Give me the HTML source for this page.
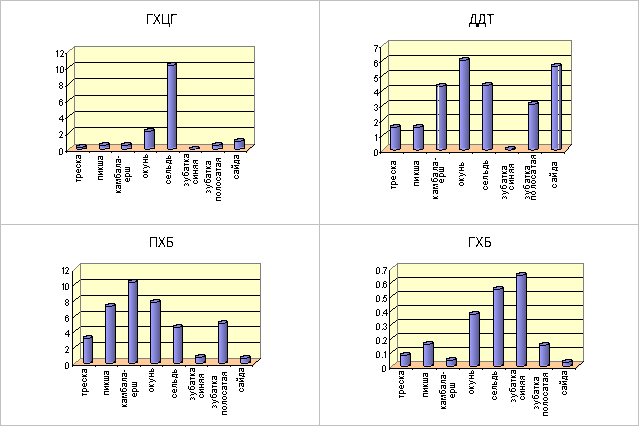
<!DOCTYPE html>
<html><head><meta charset="utf-8"><style>
html,body{margin:0;padding:0;background:#fff;}
svg{display:block;}
text{font-family:"Liberation Sans", sans-serif;fill:#000;}
</style></head><body>
<svg xmlns="http://www.w3.org/2000/svg" width="639" height="426" viewBox="0 0 639 426" shape-rendering="crispEdges">
<defs><linearGradient id="bg" x1="0" y1="0" x2="1" y2="0">
<stop offset="0" stop-color="#8C8CE8"/><stop offset="0.12" stop-color="#A0A0FF"/><stop offset="1" stop-color="#5C5C96"/>
</linearGradient>
<filter id="crisp" x="0" y="0" width="639" height="426" filterUnits="userSpaceOnUse"><feComponentTransfer><feFuncA type="discrete" tableValues="0 0 1 1 1"/></feComponentTransfer></filter>
<filter id="crisp2" x="0" y="0" width="639" height="426" filterUnits="userSpaceOnUse"><feComponentTransfer><feFuncA type="discrete" tableValues="0 1"/></feComponentTransfer></filter></defs>
<rect x="0" y="0" width="639" height="426" fill="#C0C0C0"/>
<rect x="1" y="1" width="318" height="223" fill="#FFFFFF"/>
<rect x="320" y="1" width="318" height="223" fill="#FFFFFF"/>
<rect x="1" y="225" width="318" height="200" fill="#FFFFFF"/>
<rect x="320" y="225" width="318" height="200" fill="#FFFFFF"/>
<polygon points="66,54 74,47 74,145 66,152" fill="#FFFFCC"/>
<rect x="74" y="46" width="181" height="99" fill="#FFFFCC"/>
<polygon points="66,152 74,144 255,144 247,152" fill="#FFCC99"/>
<rect x="74" y="62" width="181" height="1" fill="#000"/>
<rect x="66" y="69" width="1" height="1" fill="#000"/>
<rect x="67" y="68" width="1" height="1" fill="#000"/>
<rect x="68" y="67" width="1" height="1" fill="#000"/>
<rect x="69" y="66" width="1" height="1" fill="#000"/>
<rect x="70" y="65" width="1" height="1" fill="#000"/>
<rect x="71" y="65" width="1" height="1" fill="#000"/>
<rect x="72" y="64" width="1" height="1" fill="#000"/>
<rect x="73" y="63" width="1" height="1" fill="#000"/>
<rect x="74" y="62" width="1" height="1" fill="#000"/>
<rect x="74" y="78" width="181" height="1" fill="#000"/>
<rect x="66" y="86" width="1" height="1" fill="#000"/>
<rect x="67" y="85" width="1" height="1" fill="#000"/>
<rect x="68" y="84" width="1" height="1" fill="#000"/>
<rect x="69" y="83" width="1" height="1" fill="#000"/>
<rect x="70" y="82" width="1" height="1" fill="#000"/>
<rect x="71" y="81" width="1" height="1" fill="#000"/>
<rect x="72" y="80" width="1" height="1" fill="#000"/>
<rect x="73" y="79" width="1" height="1" fill="#000"/>
<rect x="74" y="78" width="1" height="1" fill="#000"/>
<rect x="74" y="95" width="181" height="1" fill="#000"/>
<rect x="66" y="102" width="1" height="1" fill="#000"/>
<rect x="67" y="101" width="1" height="1" fill="#000"/>
<rect x="68" y="100" width="1" height="1" fill="#000"/>
<rect x="69" y="99" width="1" height="1" fill="#000"/>
<rect x="70" y="98" width="1" height="1" fill="#000"/>
<rect x="71" y="98" width="1" height="1" fill="#000"/>
<rect x="72" y="97" width="1" height="1" fill="#000"/>
<rect x="73" y="96" width="1" height="1" fill="#000"/>
<rect x="74" y="95" width="1" height="1" fill="#000"/>
<rect x="74" y="111" width="181" height="1" fill="#000"/>
<rect x="66" y="118" width="1" height="1" fill="#000"/>
<rect x="67" y="117" width="1" height="1" fill="#000"/>
<rect x="68" y="116" width="1" height="1" fill="#000"/>
<rect x="69" y="115" width="1" height="1" fill="#000"/>
<rect x="70" y="114" width="1" height="1" fill="#000"/>
<rect x="71" y="114" width="1" height="1" fill="#000"/>
<rect x="72" y="113" width="1" height="1" fill="#000"/>
<rect x="73" y="112" width="1" height="1" fill="#000"/>
<rect x="74" y="111" width="1" height="1" fill="#000"/>
<rect x="74" y="127" width="181" height="1" fill="#000"/>
<rect x="66" y="135" width="1" height="1" fill="#000"/>
<rect x="67" y="134" width="1" height="1" fill="#000"/>
<rect x="68" y="133" width="1" height="1" fill="#000"/>
<rect x="69" y="132" width="1" height="1" fill="#000"/>
<rect x="70" y="131" width="1" height="1" fill="#000"/>
<rect x="71" y="130" width="1" height="1" fill="#000"/>
<rect x="72" y="129" width="1" height="1" fill="#000"/>
<rect x="73" y="128" width="1" height="1" fill="#000"/>
<rect x="74" y="127" width="1" height="1" fill="#000"/>
<rect x="74" y="46" width="181" height="1" fill="#808080"/>
<rect x="254" y="46" width="1" height="99" fill="#808080"/>
<rect x="74" y="46" width="1" height="99" fill="#808080"/>
<rect x="74" y="144" width="181" height="1" fill="#808080"/>
<rect x="66" y="53" width="1" height="1" fill="#808080"/>
<rect x="67" y="52" width="1" height="1" fill="#808080"/>
<rect x="68" y="51" width="1" height="1" fill="#808080"/>
<rect x="69" y="50" width="1" height="1" fill="#808080"/>
<rect x="70" y="49" width="1" height="1" fill="#808080"/>
<rect x="71" y="49" width="1" height="1" fill="#808080"/>
<rect x="72" y="48" width="1" height="1" fill="#808080"/>
<rect x="73" y="47" width="1" height="1" fill="#808080"/>
<rect x="74" y="46" width="1" height="1" fill="#808080"/>
<rect x="66" y="151" width="1" height="1" fill="#808080"/>
<rect x="67" y="150" width="1" height="1" fill="#808080"/>
<rect x="68" y="149" width="1" height="1" fill="#808080"/>
<rect x="69" y="148" width="1" height="1" fill="#808080"/>
<rect x="70" y="147" width="1" height="1" fill="#808080"/>
<rect x="71" y="147" width="1" height="1" fill="#808080"/>
<rect x="72" y="146" width="1" height="1" fill="#808080"/>
<rect x="73" y="145" width="1" height="1" fill="#808080"/>
<rect x="74" y="144" width="1" height="1" fill="#808080"/>
<rect x="246" y="151" width="1" height="1" fill="#000"/>
<rect x="247" y="150" width="1" height="1" fill="#000"/>
<rect x="248" y="149" width="1" height="1" fill="#000"/>
<rect x="249" y="148" width="1" height="1" fill="#000"/>
<rect x="250" y="147" width="1" height="1" fill="#000"/>
<rect x="251" y="147" width="1" height="1" fill="#000"/>
<rect x="252" y="146" width="1" height="1" fill="#000"/>
<rect x="253" y="145" width="1" height="1" fill="#000"/>
<rect x="254" y="144" width="1" height="1" fill="#000"/>
<rect x="66" y="53" width="1" height="100" fill="#000"/>
<rect x="66" y="151" width="181" height="1" fill="#000"/>
<rect x="65" y="53" width="2" height="1" fill="#000"/>
<rect x="65" y="69" width="2" height="1" fill="#000"/>
<rect x="65" y="86" width="2" height="1" fill="#000"/>
<rect x="65" y="102" width="2" height="1" fill="#000"/>
<rect x="65" y="118" width="2" height="1" fill="#000"/>
<rect x="65" y="135" width="2" height="1" fill="#000"/>
<rect x="65" y="151" width="2" height="1" fill="#000"/>
<rect x="66" y="151" width="1" height="2" fill="#000"/>
<rect x="89" y="151" width="1" height="2" fill="#000"/>
<rect x="111" y="151" width="1" height="2" fill="#000"/>
<rect x="134" y="151" width="1" height="2" fill="#000"/>
<rect x="156" y="151" width="1" height="2" fill="#000"/>
<rect x="179" y="151" width="1" height="2" fill="#000"/>
<rect x="201" y="151" width="1" height="2" fill="#000"/>
<rect x="224" y="151" width="1" height="2" fill="#000"/>
<rect x="246" y="151" width="1" height="2" fill="#000"/>
<rect x="79" y="144" width="7" height="1" fill="#000"/>
<rect x="76" y="145" width="11" height="3" fill="#000"/>
<rect x="76" y="148" width="11" height="1" fill="#000"/>
<rect x="77" y="149" width="5" height="1" fill="#000"/>
<rect x="83" y="147" width="1" height="1" fill="#6E6EB1"/>
<rect x="84" y="147" width="1" height="1" fill="#6666A4"/>
<rect x="85" y="147" width="1" height="1" fill="#5E5E98"/>
<rect x="80" y="145" width="5" height="1" fill="#8888E0"/>
<rect x="77" y="146" width="6" height="1" fill="#8888E0"/>
<rect x="77" y="148" width="5" height="1" fill="#9898F0"/>
<rect x="102" y="142" width="7" height="1" fill="#000"/>
<rect x="99" y="143" width="11" height="5" fill="#000"/>
<rect x="99" y="148" width="11" height="1" fill="#000"/>
<rect x="100" y="149" width="5" height="1" fill="#000"/>
<rect x="100" y="146" width="1" height="2" fill="#9C9CFC"/>
<rect x="101" y="146" width="1" height="2" fill="#9494F0"/>
<rect x="102" y="146" width="1" height="2" fill="#8C8CE3"/>
<rect x="103" y="146" width="1" height="2" fill="#8585D6"/>
<rect x="104" y="146" width="1" height="2" fill="#7D7DCA"/>
<rect x="105" y="146" width="1" height="2" fill="#7575BE"/>
<rect x="106" y="146" width="1" height="2" fill="#6E6EB1"/>
<rect x="107" y="146" width="1" height="2" fill="#6666A4"/>
<rect x="108" y="146" width="1" height="2" fill="#5E5E98"/>
<rect x="106" y="145" width="1" height="1" fill="#6E6EB1"/>
<rect x="107" y="145" width="1" height="1" fill="#6666A4"/>
<rect x="108" y="145" width="1" height="1" fill="#5E5E98"/>
<rect x="103" y="143" width="5" height="1" fill="#8888E0"/>
<rect x="100" y="144" width="6" height="1" fill="#8888E0"/>
<rect x="100" y="148" width="5" height="1" fill="#9898F0"/>
<rect x="105" y="147" width="4" height="1" fill="#9898F0"/>
<rect x="124" y="142" width="7" height="1" fill="#000"/>
<rect x="121" y="143" width="11" height="5" fill="#000"/>
<rect x="121" y="148" width="11" height="1" fill="#000"/>
<rect x="122" y="149" width="5" height="1" fill="#000"/>
<rect x="122" y="146" width="1" height="2" fill="#9C9CFC"/>
<rect x="123" y="146" width="1" height="2" fill="#9494F0"/>
<rect x="124" y="146" width="1" height="2" fill="#8C8CE3"/>
<rect x="125" y="146" width="1" height="2" fill="#8585D6"/>
<rect x="126" y="146" width="1" height="2" fill="#7D7DCA"/>
<rect x="127" y="146" width="1" height="2" fill="#7575BE"/>
<rect x="128" y="146" width="1" height="2" fill="#6E6EB1"/>
<rect x="129" y="146" width="1" height="2" fill="#6666A4"/>
<rect x="130" y="146" width="1" height="2" fill="#5E5E98"/>
<rect x="128" y="145" width="1" height="1" fill="#6E6EB1"/>
<rect x="129" y="145" width="1" height="1" fill="#6666A4"/>
<rect x="130" y="145" width="1" height="1" fill="#5E5E98"/>
<rect x="125" y="143" width="5" height="1" fill="#8888E0"/>
<rect x="122" y="144" width="6" height="1" fill="#8888E0"/>
<rect x="122" y="148" width="5" height="1" fill="#9898F0"/>
<rect x="127" y="147" width="4" height="1" fill="#9898F0"/>
<rect x="147" y="128" width="7" height="1" fill="#000"/>
<rect x="144" y="129" width="11" height="19" fill="#000"/>
<rect x="144" y="148" width="11" height="1" fill="#000"/>
<rect x="145" y="149" width="5" height="1" fill="#000"/>
<rect x="145" y="132" width="1" height="16" fill="#9C9CFC"/>
<rect x="146" y="132" width="1" height="16" fill="#9494F0"/>
<rect x="147" y="132" width="1" height="16" fill="#8C8CE3"/>
<rect x="148" y="132" width="1" height="16" fill="#8585D6"/>
<rect x="149" y="132" width="1" height="16" fill="#7D7DCA"/>
<rect x="150" y="132" width="1" height="16" fill="#7575BE"/>
<rect x="151" y="132" width="1" height="16" fill="#6E6EB1"/>
<rect x="152" y="132" width="1" height="16" fill="#6666A4"/>
<rect x="153" y="132" width="1" height="16" fill="#5E5E98"/>
<rect x="151" y="131" width="1" height="1" fill="#6E6EB1"/>
<rect x="152" y="131" width="1" height="1" fill="#6666A4"/>
<rect x="153" y="131" width="1" height="1" fill="#5E5E98"/>
<rect x="148" y="129" width="5" height="1" fill="#8888E0"/>
<rect x="145" y="130" width="6" height="1" fill="#8888E0"/>
<rect x="145" y="148" width="5" height="1" fill="#9898F0"/>
<rect x="150" y="147" width="4" height="1" fill="#9898F0"/>
<rect x="170" y="62" width="6" height="1" fill="#000"/>
<rect x="167" y="63" width="10" height="85" fill="#000"/>
<rect x="167" y="148" width="10" height="1" fill="#000"/>
<rect x="168" y="149" width="5" height="1" fill="#000"/>
<rect x="168" y="66" width="1" height="82" fill="#9C9CFC"/>
<rect x="169" y="66" width="1" height="82" fill="#9393EE"/>
<rect x="170" y="66" width="1" height="82" fill="#8A8ADF"/>
<rect x="171" y="66" width="1" height="82" fill="#8181D1"/>
<rect x="172" y="66" width="1" height="82" fill="#7979C3"/>
<rect x="173" y="66" width="1" height="82" fill="#7070B5"/>
<rect x="174" y="66" width="1" height="82" fill="#6767A6"/>
<rect x="175" y="66" width="1" height="82" fill="#5E5E98"/>
<rect x="174" y="65" width="1" height="1" fill="#6767A6"/>
<rect x="175" y="65" width="1" height="1" fill="#5E5E98"/>
<rect x="171" y="63" width="4" height="1" fill="#8888E0"/>
<rect x="168" y="64" width="6" height="1" fill="#8888E0"/>
<rect x="168" y="148" width="5" height="1" fill="#9898F0"/>
<rect x="173" y="147" width="3" height="1" fill="#9898F0"/>
<rect x="192" y="146" width="7" height="1" fill="#000"/>
<rect x="189" y="147" width="11" height="1" fill="#000"/>
<rect x="189" y="148" width="11" height="1" fill="#000"/>
<rect x="190" y="149" width="5" height="1" fill="#000"/>
<rect x="193" y="147" width="5" height="1" fill="#8888E0"/>
<rect x="190" y="148" width="6" height="1" fill="#8888E0"/>
<rect x="215" y="142" width="7" height="1" fill="#000"/>
<rect x="212" y="143" width="11" height="5" fill="#000"/>
<rect x="212" y="148" width="11" height="1" fill="#000"/>
<rect x="213" y="149" width="5" height="1" fill="#000"/>
<rect x="213" y="146" width="1" height="2" fill="#9C9CFC"/>
<rect x="214" y="146" width="1" height="2" fill="#9494F0"/>
<rect x="215" y="146" width="1" height="2" fill="#8C8CE3"/>
<rect x="216" y="146" width="1" height="2" fill="#8585D6"/>
<rect x="217" y="146" width="1" height="2" fill="#7D7DCA"/>
<rect x="218" y="146" width="1" height="2" fill="#7575BE"/>
<rect x="219" y="146" width="1" height="2" fill="#6E6EB1"/>
<rect x="220" y="146" width="1" height="2" fill="#6666A4"/>
<rect x="221" y="146" width="1" height="2" fill="#5E5E98"/>
<rect x="219" y="145" width="1" height="1" fill="#6E6EB1"/>
<rect x="220" y="145" width="1" height="1" fill="#6666A4"/>
<rect x="221" y="145" width="1" height="1" fill="#5E5E98"/>
<rect x="216" y="143" width="5" height="1" fill="#8888E0"/>
<rect x="213" y="144" width="6" height="1" fill="#8888E0"/>
<rect x="213" y="148" width="5" height="1" fill="#9898F0"/>
<rect x="218" y="147" width="4" height="1" fill="#9898F0"/>
<rect x="237" y="138" width="7" height="1" fill="#000"/>
<rect x="234" y="139" width="11" height="9" fill="#000"/>
<rect x="234" y="148" width="11" height="1" fill="#000"/>
<rect x="235" y="149" width="5" height="1" fill="#000"/>
<rect x="235" y="142" width="1" height="6" fill="#9C9CFC"/>
<rect x="236" y="142" width="1" height="6" fill="#9494F0"/>
<rect x="237" y="142" width="1" height="6" fill="#8C8CE3"/>
<rect x="238" y="142" width="1" height="6" fill="#8585D6"/>
<rect x="239" y="142" width="1" height="6" fill="#7D7DCA"/>
<rect x="240" y="142" width="1" height="6" fill="#7575BE"/>
<rect x="241" y="142" width="1" height="6" fill="#6E6EB1"/>
<rect x="242" y="142" width="1" height="6" fill="#6666A4"/>
<rect x="243" y="142" width="1" height="6" fill="#5E5E98"/>
<rect x="241" y="141" width="1" height="1" fill="#6E6EB1"/>
<rect x="242" y="141" width="1" height="1" fill="#6666A4"/>
<rect x="243" y="141" width="1" height="1" fill="#5E5E98"/>
<rect x="238" y="139" width="5" height="1" fill="#8888E0"/>
<rect x="235" y="140" width="6" height="1" fill="#8888E0"/>
<rect x="235" y="148" width="5" height="1" fill="#9898F0"/>
<rect x="240" y="147" width="4" height="1" fill="#9898F0"/>
<polygon points="380,48 388,41 388,145 380,153" fill="#FFFFCC"/>
<rect x="388" y="40" width="184" height="105" fill="#FFFFCC"/>
<polygon points="380,153 388,144 572,144 565,153" fill="#FFCC99"/>
<rect x="388" y="55" width="184" height="1" fill="#000"/>
<rect x="380" y="62" width="1" height="1" fill="#000"/>
<rect x="381" y="61" width="1" height="1" fill="#000"/>
<rect x="382" y="60" width="1" height="1" fill="#000"/>
<rect x="383" y="59" width="1" height="1" fill="#000"/>
<rect x="384" y="58" width="1" height="1" fill="#000"/>
<rect x="385" y="58" width="1" height="1" fill="#000"/>
<rect x="386" y="57" width="1" height="1" fill="#000"/>
<rect x="387" y="56" width="1" height="1" fill="#000"/>
<rect x="388" y="55" width="1" height="1" fill="#000"/>
<rect x="388" y="70" width="184" height="1" fill="#000"/>
<rect x="380" y="77" width="1" height="1" fill="#000"/>
<rect x="381" y="76" width="1" height="1" fill="#000"/>
<rect x="382" y="75" width="1" height="1" fill="#000"/>
<rect x="383" y="74" width="1" height="1" fill="#000"/>
<rect x="384" y="73" width="1" height="1" fill="#000"/>
<rect x="385" y="73" width="1" height="1" fill="#000"/>
<rect x="386" y="72" width="1" height="1" fill="#000"/>
<rect x="387" y="71" width="1" height="1" fill="#000"/>
<rect x="388" y="70" width="1" height="1" fill="#000"/>
<rect x="388" y="85" width="184" height="1" fill="#000"/>
<rect x="380" y="92" width="1" height="1" fill="#000"/>
<rect x="381" y="91" width="1" height="1" fill="#000"/>
<rect x="382" y="90" width="1" height="1" fill="#000"/>
<rect x="383" y="89" width="1" height="1" fill="#000"/>
<rect x="384" y="88" width="1" height="1" fill="#000"/>
<rect x="385" y="88" width="1" height="1" fill="#000"/>
<rect x="386" y="87" width="1" height="1" fill="#000"/>
<rect x="387" y="86" width="1" height="1" fill="#000"/>
<rect x="388" y="85" width="1" height="1" fill="#000"/>
<rect x="388" y="100" width="184" height="1" fill="#000"/>
<rect x="380" y="107" width="1" height="1" fill="#000"/>
<rect x="381" y="106" width="1" height="1" fill="#000"/>
<rect x="382" y="105" width="1" height="1" fill="#000"/>
<rect x="383" y="104" width="1" height="1" fill="#000"/>
<rect x="384" y="103" width="1" height="1" fill="#000"/>
<rect x="385" y="103" width="1" height="1" fill="#000"/>
<rect x="386" y="102" width="1" height="1" fill="#000"/>
<rect x="387" y="101" width="1" height="1" fill="#000"/>
<rect x="388" y="100" width="1" height="1" fill="#000"/>
<rect x="388" y="114" width="184" height="1" fill="#000"/>
<rect x="380" y="122" width="1" height="1" fill="#000"/>
<rect x="381" y="121" width="1" height="1" fill="#000"/>
<rect x="382" y="120" width="1" height="1" fill="#000"/>
<rect x="383" y="119" width="1" height="1" fill="#000"/>
<rect x="384" y="118" width="1" height="1" fill="#000"/>
<rect x="385" y="117" width="1" height="1" fill="#000"/>
<rect x="386" y="116" width="1" height="1" fill="#000"/>
<rect x="387" y="115" width="1" height="1" fill="#000"/>
<rect x="388" y="114" width="1" height="1" fill="#000"/>
<rect x="388" y="130" width="184" height="1" fill="#000"/>
<rect x="380" y="137" width="1" height="1" fill="#000"/>
<rect x="381" y="136" width="1" height="1" fill="#000"/>
<rect x="382" y="135" width="1" height="1" fill="#000"/>
<rect x="383" y="134" width="1" height="1" fill="#000"/>
<rect x="384" y="133" width="1" height="1" fill="#000"/>
<rect x="385" y="133" width="1" height="1" fill="#000"/>
<rect x="386" y="132" width="1" height="1" fill="#000"/>
<rect x="387" y="131" width="1" height="1" fill="#000"/>
<rect x="388" y="130" width="1" height="1" fill="#000"/>
<rect x="388" y="40" width="184" height="1" fill="#808080"/>
<rect x="571" y="40" width="1" height="105" fill="#808080"/>
<rect x="388" y="40" width="1" height="105" fill="#808080"/>
<rect x="388" y="144" width="184" height="1" fill="#808080"/>
<rect x="380" y="47" width="1" height="1" fill="#808080"/>
<rect x="381" y="46" width="1" height="1" fill="#808080"/>
<rect x="382" y="45" width="1" height="1" fill="#808080"/>
<rect x="383" y="44" width="1" height="1" fill="#808080"/>
<rect x="384" y="43" width="1" height="1" fill="#808080"/>
<rect x="385" y="43" width="1" height="1" fill="#808080"/>
<rect x="386" y="42" width="1" height="1" fill="#808080"/>
<rect x="387" y="41" width="1" height="1" fill="#808080"/>
<rect x="388" y="40" width="1" height="1" fill="#808080"/>
<rect x="380" y="152" width="1" height="1" fill="#808080"/>
<rect x="381" y="151" width="1" height="1" fill="#808080"/>
<rect x="382" y="150" width="1" height="1" fill="#808080"/>
<rect x="383" y="149" width="1" height="1" fill="#808080"/>
<rect x="384" y="148" width="1" height="1" fill="#808080"/>
<rect x="385" y="147" width="1" height="1" fill="#808080"/>
<rect x="386" y="146" width="1" height="1" fill="#808080"/>
<rect x="387" y="145" width="1" height="1" fill="#808080"/>
<rect x="388" y="144" width="1" height="1" fill="#808080"/>
<rect x="564" y="152" width="1" height="1" fill="#000"/>
<rect x="565" y="151" width="1" height="1" fill="#000"/>
<rect x="566" y="150" width="1" height="1" fill="#000"/>
<rect x="567" y="149" width="1" height="1" fill="#000"/>
<rect x="568" y="148" width="1" height="1" fill="#000"/>
<rect x="568" y="147" width="1" height="1" fill="#000"/>
<rect x="569" y="146" width="1" height="1" fill="#000"/>
<rect x="570" y="145" width="1" height="1" fill="#000"/>
<rect x="571" y="144" width="1" height="1" fill="#000"/>
<rect x="380" y="47" width="1" height="107" fill="#000"/>
<rect x="380" y="152" width="185" height="1" fill="#000"/>
<rect x="379" y="47" width="2" height="1" fill="#000"/>
<rect x="379" y="62" width="2" height="1" fill="#000"/>
<rect x="379" y="77" width="2" height="1" fill="#000"/>
<rect x="379" y="92" width="2" height="1" fill="#000"/>
<rect x="379" y="107" width="2" height="1" fill="#000"/>
<rect x="379" y="122" width="2" height="1" fill="#000"/>
<rect x="379" y="137" width="2" height="1" fill="#000"/>
<rect x="379" y="152" width="2" height="1" fill="#000"/>
<rect x="380" y="152" width="1" height="2" fill="#000"/>
<rect x="403" y="152" width="1" height="2" fill="#000"/>
<rect x="426" y="152" width="1" height="2" fill="#000"/>
<rect x="449" y="152" width="1" height="2" fill="#000"/>
<rect x="472" y="152" width="1" height="2" fill="#000"/>
<rect x="495" y="152" width="1" height="2" fill="#000"/>
<rect x="518" y="152" width="1" height="2" fill="#000"/>
<rect x="541" y="152" width="1" height="2" fill="#000"/>
<rect x="564" y="152" width="1" height="2" fill="#000"/>
<rect x="393" y="124" width="7" height="1" fill="#000"/>
<rect x="390" y="125" width="11" height="24" fill="#000"/>
<rect x="390" y="149" width="10" height="1" fill="#000"/>
<rect x="393" y="150" width="3" height="1" fill="#000"/>
<rect x="391" y="128" width="1" height="21" fill="#9C9CFC"/>
<rect x="392" y="128" width="1" height="21" fill="#9494F0"/>
<rect x="393" y="128" width="1" height="21" fill="#8C8CE3"/>
<rect x="394" y="128" width="1" height="21" fill="#8585D6"/>
<rect x="395" y="128" width="1" height="21" fill="#7D7DCA"/>
<rect x="396" y="128" width="1" height="21" fill="#7575BE"/>
<rect x="397" y="128" width="1" height="21" fill="#6E6EB1"/>
<rect x="398" y="128" width="1" height="21" fill="#6666A4"/>
<rect x="399" y="128" width="1" height="21" fill="#5E5E98"/>
<rect x="397" y="127" width="1" height="1" fill="#6E6EB1"/>
<rect x="398" y="127" width="1" height="1" fill="#6666A4"/>
<rect x="399" y="127" width="1" height="1" fill="#5E5E98"/>
<rect x="394" y="125" width="5" height="1" fill="#8888E0"/>
<rect x="391" y="126" width="6" height="1" fill="#8888E0"/>
<rect x="393" y="149" width="3" height="1" fill="#9898F0"/>
<rect x="391" y="148" width="6" height="1" fill="#9898F0"/>
<rect x="416" y="124" width="7" height="1" fill="#000"/>
<rect x="413" y="125" width="11" height="24" fill="#000"/>
<rect x="413" y="149" width="10" height="1" fill="#000"/>
<rect x="416" y="150" width="3" height="1" fill="#000"/>
<rect x="414" y="128" width="1" height="21" fill="#9C9CFC"/>
<rect x="415" y="128" width="1" height="21" fill="#9494F0"/>
<rect x="416" y="128" width="1" height="21" fill="#8C8CE3"/>
<rect x="417" y="128" width="1" height="21" fill="#8585D6"/>
<rect x="418" y="128" width="1" height="21" fill="#7D7DCA"/>
<rect x="419" y="128" width="1" height="21" fill="#7575BE"/>
<rect x="420" y="128" width="1" height="21" fill="#6E6EB1"/>
<rect x="421" y="128" width="1" height="21" fill="#6666A4"/>
<rect x="422" y="128" width="1" height="21" fill="#5E5E98"/>
<rect x="420" y="127" width="1" height="1" fill="#6E6EB1"/>
<rect x="421" y="127" width="1" height="1" fill="#6666A4"/>
<rect x="422" y="127" width="1" height="1" fill="#5E5E98"/>
<rect x="417" y="125" width="5" height="1" fill="#8888E0"/>
<rect x="414" y="126" width="6" height="1" fill="#8888E0"/>
<rect x="416" y="149" width="3" height="1" fill="#9898F0"/>
<rect x="414" y="148" width="6" height="1" fill="#9898F0"/>
<rect x="439" y="83" width="7" height="1" fill="#000"/>
<rect x="436" y="84" width="11" height="65" fill="#000"/>
<rect x="436" y="149" width="10" height="1" fill="#000"/>
<rect x="439" y="150" width="3" height="1" fill="#000"/>
<rect x="437" y="87" width="1" height="62" fill="#9C9CFC"/>
<rect x="438" y="87" width="1" height="62" fill="#9494F0"/>
<rect x="439" y="87" width="1" height="62" fill="#8C8CE3"/>
<rect x="440" y="87" width="1" height="62" fill="#8585D6"/>
<rect x="441" y="87" width="1" height="62" fill="#7D7DCA"/>
<rect x="442" y="87" width="1" height="62" fill="#7575BE"/>
<rect x="443" y="87" width="1" height="62" fill="#6E6EB1"/>
<rect x="444" y="87" width="1" height="62" fill="#6666A4"/>
<rect x="445" y="87" width="1" height="62" fill="#5E5E98"/>
<rect x="443" y="86" width="1" height="1" fill="#6E6EB1"/>
<rect x="444" y="86" width="1" height="1" fill="#6666A4"/>
<rect x="445" y="86" width="1" height="1" fill="#5E5E98"/>
<rect x="440" y="84" width="5" height="1" fill="#8888E0"/>
<rect x="437" y="85" width="6" height="1" fill="#8888E0"/>
<rect x="439" y="149" width="3" height="1" fill="#9898F0"/>
<rect x="437" y="148" width="6" height="1" fill="#9898F0"/>
<rect x="438" y="86" width="1" height="1" fill="#FFFFCC"/>
<rect x="438" y="87" width="1" height="1" fill="#FFFFCC"/>
<rect x="438" y="88" width="1" height="1" fill="#FFFFCC"/>
<rect x="438" y="89" width="1" height="1" fill="#FFFFCC"/>
<rect x="438" y="90" width="1" height="1" fill="#FFFFCC"/>
<rect x="438" y="91" width="1" height="1" fill="#FFFFCC"/>
<rect x="438" y="92" width="1" height="1" fill="#FFFFCC"/>
<rect x="438" y="93" width="1" height="1" fill="#FFFFCC"/>
<rect x="438" y="94" width="1" height="1" fill="#FFFFCC"/>
<rect x="438" y="95" width="1" height="1" fill="#FFFFCC"/>
<rect x="438" y="96" width="1" height="1" fill="#FFFFCC"/>
<rect x="438" y="97" width="1" height="1" fill="#FFFFCC"/>
<rect x="438" y="98" width="1" height="1" fill="#FFFFCC"/>
<rect x="438" y="99" width="1" height="1" fill="#FFFFCC"/>
<rect x="438" y="100" width="1" height="1" fill="#000"/>
<rect x="438" y="101" width="1" height="1" fill="#FFFFCC"/>
<rect x="438" y="102" width="1" height="1" fill="#FFFFCC"/>
<rect x="438" y="103" width="1" height="1" fill="#FFFFCC"/>
<rect x="438" y="104" width="1" height="1" fill="#FFFFCC"/>
<rect x="438" y="105" width="1" height="1" fill="#FFFFCC"/>
<rect x="438" y="106" width="1" height="1" fill="#FFFFCC"/>
<rect x="438" y="107" width="1" height="1" fill="#FFFFCC"/>
<rect x="438" y="108" width="1" height="1" fill="#FFFFCC"/>
<rect x="438" y="109" width="1" height="1" fill="#FFFFCC"/>
<rect x="438" y="110" width="1" height="1" fill="#FFFFCC"/>
<rect x="438" y="111" width="1" height="1" fill="#FFFFCC"/>
<rect x="438" y="112" width="1" height="1" fill="#FFFFCC"/>
<rect x="438" y="113" width="1" height="1" fill="#FFFFCC"/>
<rect x="438" y="114" width="1" height="1" fill="#000"/>
<rect x="438" y="115" width="1" height="1" fill="#FFFFCC"/>
<rect x="438" y="116" width="1" height="1" fill="#FFFFCC"/>
<rect x="438" y="117" width="1" height="1" fill="#FFFFCC"/>
<rect x="438" y="118" width="1" height="1" fill="#FFFFCC"/>
<rect x="438" y="119" width="1" height="1" fill="#FFFFCC"/>
<rect x="438" y="120" width="1" height="1" fill="#FFFFCC"/>
<rect x="438" y="121" width="1" height="1" fill="#FFFFCC"/>
<rect x="438" y="122" width="1" height="1" fill="#FFFFCC"/>
<rect x="438" y="123" width="1" height="1" fill="#FFFFCC"/>
<rect x="438" y="124" width="1" height="1" fill="#FFFFCC"/>
<rect x="438" y="125" width="1" height="1" fill="#FFFFCC"/>
<rect x="438" y="126" width="1" height="1" fill="#FFFFCC"/>
<rect x="438" y="127" width="1" height="1" fill="#FFFFCC"/>
<rect x="438" y="128" width="1" height="1" fill="#FFFFCC"/>
<rect x="438" y="129" width="1" height="1" fill="#FFFFCC"/>
<rect x="438" y="130" width="1" height="1" fill="#000"/>
<rect x="438" y="131" width="1" height="1" fill="#FFFFCC"/>
<rect x="438" y="132" width="1" height="1" fill="#FFFFCC"/>
<rect x="438" y="133" width="1" height="1" fill="#FFFFCC"/>
<rect x="438" y="134" width="1" height="1" fill="#FFFFCC"/>
<rect x="438" y="135" width="1" height="1" fill="#FFFFCC"/>
<rect x="438" y="136" width="1" height="1" fill="#FFFFCC"/>
<rect x="438" y="137" width="1" height="1" fill="#FFFFCC"/>
<rect x="438" y="138" width="1" height="1" fill="#FFFFCC"/>
<rect x="438" y="139" width="1" height="1" fill="#FFFFCC"/>
<rect x="438" y="140" width="1" height="1" fill="#FFFFCC"/>
<rect x="438" y="141" width="1" height="1" fill="#FFFFCC"/>
<rect x="438" y="142" width="1" height="1" fill="#FFFFCC"/>
<rect x="438" y="143" width="1" height="1" fill="#FFFFCC"/>
<rect x="438" y="144" width="1" height="1" fill="#808080"/>
<rect x="438" y="145" width="1" height="1" fill="#FFCC99"/>
<rect x="438" y="146" width="1" height="1" fill="#FFCC99"/>
<rect x="438" y="147" width="1" height="1" fill="#FFCC99"/>
<rect x="438" y="148" width="1" height="1" fill="#FFCC99"/>
<rect x="462" y="57" width="7" height="1" fill="#000"/>
<rect x="459" y="58" width="11" height="91" fill="#000"/>
<rect x="459" y="149" width="10" height="1" fill="#000"/>
<rect x="462" y="150" width="3" height="1" fill="#000"/>
<rect x="460" y="61" width="1" height="88" fill="#9C9CFC"/>
<rect x="461" y="61" width="1" height="88" fill="#9494F0"/>
<rect x="462" y="61" width="1" height="88" fill="#8C8CE3"/>
<rect x="463" y="61" width="1" height="88" fill="#8585D6"/>
<rect x="464" y="61" width="1" height="88" fill="#7D7DCA"/>
<rect x="465" y="61" width="1" height="88" fill="#7575BE"/>
<rect x="466" y="61" width="1" height="88" fill="#6E6EB1"/>
<rect x="467" y="61" width="1" height="88" fill="#6666A4"/>
<rect x="468" y="61" width="1" height="88" fill="#5E5E98"/>
<rect x="466" y="60" width="1" height="1" fill="#6E6EB1"/>
<rect x="467" y="60" width="1" height="1" fill="#6666A4"/>
<rect x="468" y="60" width="1" height="1" fill="#5E5E98"/>
<rect x="463" y="58" width="5" height="1" fill="#8888E0"/>
<rect x="460" y="59" width="6" height="1" fill="#8888E0"/>
<rect x="462" y="149" width="3" height="1" fill="#9898F0"/>
<rect x="460" y="148" width="6" height="1" fill="#9898F0"/>
<rect x="485" y="82" width="7" height="1" fill="#000"/>
<rect x="482" y="83" width="11" height="66" fill="#000"/>
<rect x="482" y="149" width="10" height="1" fill="#000"/>
<rect x="485" y="150" width="3" height="1" fill="#000"/>
<rect x="483" y="86" width="1" height="63" fill="#9C9CFC"/>
<rect x="484" y="86" width="1" height="63" fill="#9494F0"/>
<rect x="485" y="86" width="1" height="63" fill="#8C8CE3"/>
<rect x="486" y="86" width="1" height="63" fill="#8585D6"/>
<rect x="487" y="86" width="1" height="63" fill="#7D7DCA"/>
<rect x="488" y="86" width="1" height="63" fill="#7575BE"/>
<rect x="489" y="86" width="1" height="63" fill="#6E6EB1"/>
<rect x="490" y="86" width="1" height="63" fill="#6666A4"/>
<rect x="491" y="86" width="1" height="63" fill="#5E5E98"/>
<rect x="489" y="85" width="1" height="1" fill="#6E6EB1"/>
<rect x="490" y="85" width="1" height="1" fill="#6666A4"/>
<rect x="491" y="85" width="1" height="1" fill="#5E5E98"/>
<rect x="486" y="83" width="5" height="1" fill="#8888E0"/>
<rect x="483" y="84" width="6" height="1" fill="#8888E0"/>
<rect x="485" y="149" width="3" height="1" fill="#9898F0"/>
<rect x="483" y="148" width="6" height="1" fill="#9898F0"/>
<rect x="508" y="146" width="7" height="1" fill="#000"/>
<rect x="505" y="147" width="11" height="2" fill="#000"/>
<rect x="505" y="149" width="10" height="1" fill="#000"/>
<rect x="508" y="150" width="3" height="1" fill="#000"/>
<rect x="509" y="147" width="5" height="1" fill="#8888E0"/>
<rect x="506" y="148" width="6" height="1" fill="#8888E0"/>
<rect x="508" y="149" width="3" height="1" fill="#9898F0"/>
<rect x="531" y="101" width="7" height="1" fill="#000"/>
<rect x="528" y="102" width="11" height="47" fill="#000"/>
<rect x="528" y="149" width="10" height="1" fill="#000"/>
<rect x="531" y="150" width="3" height="1" fill="#000"/>
<rect x="529" y="105" width="1" height="44" fill="#9C9CFC"/>
<rect x="530" y="105" width="1" height="44" fill="#9494F0"/>
<rect x="531" y="105" width="1" height="44" fill="#8C8CE3"/>
<rect x="532" y="105" width="1" height="44" fill="#8585D6"/>
<rect x="533" y="105" width="1" height="44" fill="#7D7DCA"/>
<rect x="534" y="105" width="1" height="44" fill="#7575BE"/>
<rect x="535" y="105" width="1" height="44" fill="#6E6EB1"/>
<rect x="536" y="105" width="1" height="44" fill="#6666A4"/>
<rect x="537" y="105" width="1" height="44" fill="#5E5E98"/>
<rect x="535" y="104" width="1" height="1" fill="#6E6EB1"/>
<rect x="536" y="104" width="1" height="1" fill="#6666A4"/>
<rect x="537" y="104" width="1" height="1" fill="#5E5E98"/>
<rect x="532" y="102" width="5" height="1" fill="#8888E0"/>
<rect x="529" y="103" width="6" height="1" fill="#8888E0"/>
<rect x="531" y="149" width="3" height="1" fill="#9898F0"/>
<rect x="529" y="148" width="6" height="1" fill="#9898F0"/>
<rect x="554" y="63" width="7" height="1" fill="#000"/>
<rect x="551" y="64" width="11" height="85" fill="#000"/>
<rect x="551" y="149" width="10" height="1" fill="#000"/>
<rect x="554" y="150" width="3" height="1" fill="#000"/>
<rect x="552" y="67" width="1" height="82" fill="#9C9CFC"/>
<rect x="553" y="67" width="1" height="82" fill="#9494F0"/>
<rect x="554" y="67" width="1" height="82" fill="#8C8CE3"/>
<rect x="555" y="67" width="1" height="82" fill="#8585D6"/>
<rect x="556" y="67" width="1" height="82" fill="#7D7DCA"/>
<rect x="557" y="67" width="1" height="82" fill="#7575BE"/>
<rect x="558" y="67" width="1" height="82" fill="#6E6EB1"/>
<rect x="559" y="67" width="1" height="82" fill="#6666A4"/>
<rect x="560" y="67" width="1" height="82" fill="#5E5E98"/>
<rect x="558" y="66" width="1" height="1" fill="#6E6EB1"/>
<rect x="559" y="66" width="1" height="1" fill="#6666A4"/>
<rect x="560" y="66" width="1" height="1" fill="#5E5E98"/>
<rect x="555" y="64" width="5" height="1" fill="#8888E0"/>
<rect x="552" y="65" width="6" height="1" fill="#8888E0"/>
<rect x="554" y="149" width="3" height="1" fill="#9898F0"/>
<rect x="552" y="148" width="6" height="1" fill="#9898F0"/>
<rect x="558" y="66" width="1" height="1" fill="#FFFFCC"/>
<rect x="558" y="67" width="1" height="1" fill="#FFFFCC"/>
<rect x="558" y="68" width="1" height="1" fill="#FFFFCC"/>
<rect x="558" y="69" width="1" height="1" fill="#FFFFCC"/>
<rect x="558" y="70" width="1" height="1" fill="#000"/>
<rect x="558" y="71" width="1" height="1" fill="#FFFFCC"/>
<rect x="558" y="72" width="1" height="1" fill="#FFFFCC"/>
<rect x="558" y="73" width="1" height="1" fill="#FFFFCC"/>
<rect x="558" y="74" width="1" height="1" fill="#FFFFCC"/>
<rect x="558" y="75" width="1" height="1" fill="#FFFFCC"/>
<rect x="558" y="76" width="1" height="1" fill="#FFFFCC"/>
<rect x="558" y="77" width="1" height="1" fill="#FFFFCC"/>
<rect x="558" y="78" width="1" height="1" fill="#FFFFCC"/>
<rect x="558" y="79" width="1" height="1" fill="#FFFFCC"/>
<rect x="558" y="80" width="1" height="1" fill="#FFFFCC"/>
<rect x="558" y="81" width="1" height="1" fill="#FFFFCC"/>
<rect x="558" y="82" width="1" height="1" fill="#FFFFCC"/>
<rect x="558" y="83" width="1" height="1" fill="#FFFFCC"/>
<rect x="558" y="84" width="1" height="1" fill="#FFFFCC"/>
<rect x="558" y="85" width="1" height="1" fill="#000"/>
<rect x="558" y="86" width="1" height="1" fill="#FFFFCC"/>
<rect x="558" y="87" width="1" height="1" fill="#FFFFCC"/>
<rect x="558" y="88" width="1" height="1" fill="#FFFFCC"/>
<rect x="558" y="89" width="1" height="1" fill="#FFFFCC"/>
<rect x="558" y="90" width="1" height="1" fill="#FFFFCC"/>
<rect x="558" y="91" width="1" height="1" fill="#FFFFCC"/>
<rect x="558" y="92" width="1" height="1" fill="#FFFFCC"/>
<rect x="558" y="93" width="1" height="1" fill="#FFFFCC"/>
<rect x="558" y="94" width="1" height="1" fill="#FFFFCC"/>
<rect x="558" y="95" width="1" height="1" fill="#FFFFCC"/>
<rect x="558" y="96" width="1" height="1" fill="#FFFFCC"/>
<rect x="558" y="97" width="1" height="1" fill="#FFFFCC"/>
<rect x="558" y="98" width="1" height="1" fill="#FFFFCC"/>
<rect x="558" y="99" width="1" height="1" fill="#FFFFCC"/>
<rect x="558" y="100" width="1" height="1" fill="#000"/>
<rect x="558" y="101" width="1" height="1" fill="#FFFFCC"/>
<rect x="558" y="102" width="1" height="1" fill="#FFFFCC"/>
<rect x="558" y="103" width="1" height="1" fill="#FFFFCC"/>
<rect x="558" y="104" width="1" height="1" fill="#FFFFCC"/>
<rect x="558" y="105" width="1" height="1" fill="#FFFFCC"/>
<rect x="558" y="106" width="1" height="1" fill="#FFFFCC"/>
<rect x="558" y="107" width="1" height="1" fill="#FFFFCC"/>
<rect x="558" y="108" width="1" height="1" fill="#FFFFCC"/>
<rect x="558" y="109" width="1" height="1" fill="#FFFFCC"/>
<rect x="558" y="110" width="1" height="1" fill="#FFFFCC"/>
<rect x="558" y="111" width="1" height="1" fill="#FFFFCC"/>
<rect x="558" y="112" width="1" height="1" fill="#FFFFCC"/>
<rect x="558" y="113" width="1" height="1" fill="#FFFFCC"/>
<rect x="558" y="114" width="1" height="1" fill="#000"/>
<rect x="558" y="115" width="1" height="1" fill="#FFFFCC"/>
<rect x="558" y="116" width="1" height="1" fill="#FFFFCC"/>
<rect x="558" y="117" width="1" height="1" fill="#FFFFCC"/>
<rect x="558" y="118" width="1" height="1" fill="#FFFFCC"/>
<rect x="558" y="119" width="1" height="1" fill="#FFFFCC"/>
<rect x="558" y="120" width="1" height="1" fill="#FFFFCC"/>
<rect x="558" y="121" width="1" height="1" fill="#FFFFCC"/>
<rect x="558" y="122" width="1" height="1" fill="#FFFFCC"/>
<rect x="558" y="123" width="1" height="1" fill="#FFFFCC"/>
<rect x="558" y="124" width="1" height="1" fill="#FFFFCC"/>
<rect x="558" y="125" width="1" height="1" fill="#FFFFCC"/>
<rect x="558" y="126" width="1" height="1" fill="#FFFFCC"/>
<rect x="558" y="127" width="1" height="1" fill="#FFFFCC"/>
<rect x="558" y="128" width="1" height="1" fill="#FFFFCC"/>
<rect x="558" y="129" width="1" height="1" fill="#FFFFCC"/>
<rect x="558" y="130" width="1" height="1" fill="#000"/>
<rect x="558" y="131" width="1" height="1" fill="#FFFFCC"/>
<rect x="558" y="132" width="1" height="1" fill="#FFFFCC"/>
<rect x="558" y="133" width="1" height="1" fill="#FFFFCC"/>
<rect x="558" y="134" width="1" height="1" fill="#FFFFCC"/>
<rect x="558" y="135" width="1" height="1" fill="#FFFFCC"/>
<rect x="558" y="136" width="1" height="1" fill="#FFFFCC"/>
<rect x="558" y="137" width="1" height="1" fill="#FFFFCC"/>
<rect x="558" y="138" width="1" height="1" fill="#FFFFCC"/>
<rect x="558" y="139" width="1" height="1" fill="#FFFFCC"/>
<rect x="558" y="140" width="1" height="1" fill="#FFFFCC"/>
<rect x="558" y="141" width="1" height="1" fill="#FFFFCC"/>
<rect x="558" y="142" width="1" height="1" fill="#FFFFCC"/>
<rect x="558" y="143" width="1" height="1" fill="#FFFFCC"/>
<rect x="558" y="144" width="1" height="1" fill="#808080"/>
<rect x="558" y="145" width="1" height="1" fill="#FFCC99"/>
<rect x="558" y="146" width="1" height="1" fill="#FFCC99"/>
<rect x="558" y="147" width="1" height="1" fill="#FFCC99"/>
<rect x="558" y="148" width="1" height="1" fill="#FFCC99"/>
<polygon points="72,272 80,264 80,359 72,366" fill="#FFFFCC"/>
<rect x="80" y="263" width="181" height="96" fill="#FFFFCC"/>
<polygon points="72,366 80,358 261,358 253,366" fill="#FFCC99"/>
<rect x="80" y="279" width="181" height="1" fill="#000"/>
<rect x="72" y="286" width="1" height="1" fill="#000"/>
<rect x="73" y="285" width="1" height="1" fill="#000"/>
<rect x="74" y="284" width="1" height="1" fill="#000"/>
<rect x="75" y="283" width="1" height="1" fill="#000"/>
<rect x="76" y="282" width="1" height="1" fill="#000"/>
<rect x="77" y="282" width="1" height="1" fill="#000"/>
<rect x="78" y="281" width="1" height="1" fill="#000"/>
<rect x="79" y="280" width="1" height="1" fill="#000"/>
<rect x="80" y="279" width="1" height="1" fill="#000"/>
<rect x="80" y="295" width="181" height="1" fill="#000"/>
<rect x="72" y="302" width="1" height="1" fill="#000"/>
<rect x="73" y="301" width="1" height="1" fill="#000"/>
<rect x="74" y="300" width="1" height="1" fill="#000"/>
<rect x="75" y="299" width="1" height="1" fill="#000"/>
<rect x="76" y="298" width="1" height="1" fill="#000"/>
<rect x="77" y="298" width="1" height="1" fill="#000"/>
<rect x="78" y="297" width="1" height="1" fill="#000"/>
<rect x="79" y="296" width="1" height="1" fill="#000"/>
<rect x="80" y="295" width="1" height="1" fill="#000"/>
<rect x="80" y="311" width="181" height="1" fill="#000"/>
<rect x="72" y="318" width="1" height="1" fill="#000"/>
<rect x="73" y="317" width="1" height="1" fill="#000"/>
<rect x="74" y="316" width="1" height="1" fill="#000"/>
<rect x="75" y="315" width="1" height="1" fill="#000"/>
<rect x="76" y="314" width="1" height="1" fill="#000"/>
<rect x="77" y="314" width="1" height="1" fill="#000"/>
<rect x="78" y="313" width="1" height="1" fill="#000"/>
<rect x="79" y="312" width="1" height="1" fill="#000"/>
<rect x="80" y="311" width="1" height="1" fill="#000"/>
<rect x="80" y="326" width="181" height="1" fill="#000"/>
<rect x="72" y="333" width="1" height="1" fill="#000"/>
<rect x="73" y="332" width="1" height="1" fill="#000"/>
<rect x="74" y="331" width="1" height="1" fill="#000"/>
<rect x="75" y="330" width="1" height="1" fill="#000"/>
<rect x="76" y="329" width="1" height="1" fill="#000"/>
<rect x="77" y="329" width="1" height="1" fill="#000"/>
<rect x="78" y="328" width="1" height="1" fill="#000"/>
<rect x="79" y="327" width="1" height="1" fill="#000"/>
<rect x="80" y="326" width="1" height="1" fill="#000"/>
<rect x="80" y="342" width="181" height="1" fill="#000"/>
<rect x="72" y="349" width="1" height="1" fill="#000"/>
<rect x="73" y="348" width="1" height="1" fill="#000"/>
<rect x="74" y="347" width="1" height="1" fill="#000"/>
<rect x="75" y="346" width="1" height="1" fill="#000"/>
<rect x="76" y="345" width="1" height="1" fill="#000"/>
<rect x="77" y="345" width="1" height="1" fill="#000"/>
<rect x="78" y="344" width="1" height="1" fill="#000"/>
<rect x="79" y="343" width="1" height="1" fill="#000"/>
<rect x="80" y="342" width="1" height="1" fill="#000"/>
<rect x="80" y="263" width="181" height="1" fill="#808080"/>
<rect x="260" y="263" width="1" height="96" fill="#808080"/>
<rect x="80" y="263" width="1" height="96" fill="#808080"/>
<rect x="80" y="358" width="181" height="1" fill="#808080"/>
<rect x="72" y="271" width="1" height="1" fill="#808080"/>
<rect x="73" y="270" width="1" height="1" fill="#808080"/>
<rect x="74" y="269" width="1" height="1" fill="#808080"/>
<rect x="75" y="268" width="1" height="1" fill="#808080"/>
<rect x="76" y="267" width="1" height="1" fill="#808080"/>
<rect x="77" y="266" width="1" height="1" fill="#808080"/>
<rect x="78" y="265" width="1" height="1" fill="#808080"/>
<rect x="79" y="264" width="1" height="1" fill="#808080"/>
<rect x="80" y="263" width="1" height="1" fill="#808080"/>
<rect x="72" y="365" width="1" height="1" fill="#808080"/>
<rect x="73" y="364" width="1" height="1" fill="#808080"/>
<rect x="74" y="363" width="1" height="1" fill="#808080"/>
<rect x="75" y="362" width="1" height="1" fill="#808080"/>
<rect x="76" y="361" width="1" height="1" fill="#808080"/>
<rect x="77" y="361" width="1" height="1" fill="#808080"/>
<rect x="78" y="360" width="1" height="1" fill="#808080"/>
<rect x="79" y="359" width="1" height="1" fill="#808080"/>
<rect x="80" y="358" width="1" height="1" fill="#808080"/>
<rect x="252" y="365" width="1" height="1" fill="#000"/>
<rect x="253" y="364" width="1" height="1" fill="#000"/>
<rect x="254" y="363" width="1" height="1" fill="#000"/>
<rect x="255" y="362" width="1" height="1" fill="#000"/>
<rect x="256" y="361" width="1" height="1" fill="#000"/>
<rect x="257" y="361" width="1" height="1" fill="#000"/>
<rect x="258" y="360" width="1" height="1" fill="#000"/>
<rect x="259" y="359" width="1" height="1" fill="#000"/>
<rect x="260" y="358" width="1" height="1" fill="#000"/>
<rect x="72" y="271" width="1" height="96" fill="#000"/>
<rect x="72" y="365" width="181" height="1" fill="#000"/>
<rect x="72" y="365" width="1" height="2" fill="#000"/>
<rect x="95" y="365" width="1" height="2" fill="#000"/>
<rect x="117" y="365" width="1" height="2" fill="#000"/>
<rect x="140" y="365" width="1" height="2" fill="#000"/>
<rect x="162" y="365" width="1" height="2" fill="#000"/>
<rect x="185" y="365" width="1" height="2" fill="#000"/>
<rect x="207" y="365" width="1" height="2" fill="#000"/>
<rect x="230" y="365" width="1" height="2" fill="#000"/>
<rect x="252" y="365" width="1" height="2" fill="#000"/>
<rect x="86" y="335" width="6" height="1" fill="#000"/>
<rect x="83" y="336" width="10" height="26" fill="#000"/>
<rect x="83" y="362" width="10" height="1" fill="#000"/>
<rect x="84" y="363" width="6" height="1" fill="#000"/>
<rect x="84" y="339" width="1" height="23" fill="#9C9CFC"/>
<rect x="85" y="339" width="1" height="23" fill="#9393EE"/>
<rect x="86" y="339" width="1" height="23" fill="#8A8ADF"/>
<rect x="87" y="339" width="1" height="23" fill="#8181D1"/>
<rect x="88" y="339" width="1" height="23" fill="#7979C3"/>
<rect x="89" y="339" width="1" height="23" fill="#7070B5"/>
<rect x="90" y="339" width="1" height="23" fill="#6767A6"/>
<rect x="91" y="339" width="1" height="23" fill="#5E5E98"/>
<rect x="90" y="338" width="1" height="1" fill="#6767A6"/>
<rect x="91" y="338" width="1" height="1" fill="#5E5E98"/>
<rect x="87" y="336" width="4" height="1" fill="#8888E0"/>
<rect x="84" y="337" width="6" height="1" fill="#8888E0"/>
<rect x="84" y="362" width="6" height="1" fill="#9898F0"/>
<rect x="91" y="362" width="2" height="1" fill="#000"/>
<rect x="91" y="361" width="1" height="1" fill="#000"/>
<rect x="108" y="303" width="7" height="1" fill="#000"/>
<rect x="105" y="304" width="11" height="58" fill="#000"/>
<rect x="105" y="362" width="11" height="1" fill="#000"/>
<rect x="106" y="363" width="7" height="1" fill="#000"/>
<rect x="106" y="307" width="1" height="55" fill="#9C9CFC"/>
<rect x="107" y="307" width="1" height="55" fill="#9494F0"/>
<rect x="108" y="307" width="1" height="55" fill="#8C8CE3"/>
<rect x="109" y="307" width="1" height="55" fill="#8585D6"/>
<rect x="110" y="307" width="1" height="55" fill="#7D7DCA"/>
<rect x="111" y="307" width="1" height="55" fill="#7575BE"/>
<rect x="112" y="307" width="1" height="55" fill="#6E6EB1"/>
<rect x="113" y="307" width="1" height="55" fill="#6666A4"/>
<rect x="114" y="307" width="1" height="55" fill="#5E5E98"/>
<rect x="112" y="306" width="1" height="1" fill="#6E6EB1"/>
<rect x="113" y="306" width="1" height="1" fill="#6666A4"/>
<rect x="114" y="306" width="1" height="1" fill="#5E5E98"/>
<rect x="109" y="304" width="5" height="1" fill="#8888E0"/>
<rect x="106" y="305" width="6" height="1" fill="#8888E0"/>
<rect x="106" y="362" width="7" height="1" fill="#9898F0"/>
<rect x="114" y="362" width="2" height="1" fill="#000"/>
<rect x="114" y="361" width="1" height="1" fill="#000"/>
<rect x="131" y="279" width="6" height="1" fill="#000"/>
<rect x="128" y="280" width="10" height="82" fill="#000"/>
<rect x="128" y="362" width="10" height="1" fill="#000"/>
<rect x="129" y="363" width="6" height="1" fill="#000"/>
<rect x="129" y="283" width="1" height="79" fill="#9C9CFC"/>
<rect x="130" y="283" width="1" height="79" fill="#9393EE"/>
<rect x="131" y="283" width="1" height="79" fill="#8A8ADF"/>
<rect x="132" y="283" width="1" height="79" fill="#8181D1"/>
<rect x="133" y="283" width="1" height="79" fill="#7979C3"/>
<rect x="134" y="283" width="1" height="79" fill="#7070B5"/>
<rect x="135" y="283" width="1" height="79" fill="#6767A6"/>
<rect x="136" y="283" width="1" height="79" fill="#5E5E98"/>
<rect x="135" y="282" width="1" height="1" fill="#6767A6"/>
<rect x="136" y="282" width="1" height="1" fill="#5E5E98"/>
<rect x="132" y="280" width="4" height="1" fill="#8888E0"/>
<rect x="129" y="281" width="6" height="1" fill="#8888E0"/>
<rect x="129" y="362" width="6" height="1" fill="#9898F0"/>
<rect x="136" y="362" width="2" height="1" fill="#000"/>
<rect x="136" y="361" width="1" height="1" fill="#000"/>
<rect x="153" y="299" width="7" height="1" fill="#000"/>
<rect x="150" y="300" width="11" height="62" fill="#000"/>
<rect x="150" y="362" width="11" height="1" fill="#000"/>
<rect x="151" y="363" width="7" height="1" fill="#000"/>
<rect x="151" y="303" width="1" height="59" fill="#9C9CFC"/>
<rect x="152" y="303" width="1" height="59" fill="#9494F0"/>
<rect x="153" y="303" width="1" height="59" fill="#8C8CE3"/>
<rect x="154" y="303" width="1" height="59" fill="#8585D6"/>
<rect x="155" y="303" width="1" height="59" fill="#7D7DCA"/>
<rect x="156" y="303" width="1" height="59" fill="#7575BE"/>
<rect x="157" y="303" width="1" height="59" fill="#6E6EB1"/>
<rect x="158" y="303" width="1" height="59" fill="#6666A4"/>
<rect x="159" y="303" width="1" height="59" fill="#5E5E98"/>
<rect x="157" y="302" width="1" height="1" fill="#6E6EB1"/>
<rect x="158" y="302" width="1" height="1" fill="#6666A4"/>
<rect x="159" y="302" width="1" height="1" fill="#5E5E98"/>
<rect x="154" y="300" width="5" height="1" fill="#8888E0"/>
<rect x="151" y="301" width="6" height="1" fill="#8888E0"/>
<rect x="151" y="362" width="7" height="1" fill="#9898F0"/>
<rect x="159" y="362" width="2" height="1" fill="#000"/>
<rect x="159" y="361" width="1" height="1" fill="#000"/>
<rect x="176" y="324" width="6" height="1" fill="#000"/>
<rect x="173" y="325" width="10" height="37" fill="#000"/>
<rect x="173" y="362" width="10" height="1" fill="#000"/>
<rect x="174" y="363" width="6" height="1" fill="#000"/>
<rect x="174" y="328" width="1" height="34" fill="#9C9CFC"/>
<rect x="175" y="328" width="1" height="34" fill="#9393EE"/>
<rect x="176" y="328" width="1" height="34" fill="#8A8ADF"/>
<rect x="177" y="328" width="1" height="34" fill="#8181D1"/>
<rect x="178" y="328" width="1" height="34" fill="#7979C3"/>
<rect x="179" y="328" width="1" height="34" fill="#7070B5"/>
<rect x="180" y="328" width="1" height="34" fill="#6767A6"/>
<rect x="181" y="328" width="1" height="34" fill="#5E5E98"/>
<rect x="180" y="327" width="1" height="1" fill="#6767A6"/>
<rect x="181" y="327" width="1" height="1" fill="#5E5E98"/>
<rect x="177" y="325" width="4" height="1" fill="#8888E0"/>
<rect x="174" y="326" width="6" height="1" fill="#8888E0"/>
<rect x="174" y="362" width="6" height="1" fill="#9898F0"/>
<rect x="181" y="362" width="2" height="1" fill="#000"/>
<rect x="181" y="361" width="1" height="1" fill="#000"/>
<rect x="198" y="354" width="7" height="1" fill="#000"/>
<rect x="195" y="355" width="11" height="7" fill="#000"/>
<rect x="195" y="362" width="11" height="1" fill="#000"/>
<rect x="196" y="363" width="7" height="1" fill="#000"/>
<rect x="196" y="358" width="1" height="4" fill="#9C9CFC"/>
<rect x="197" y="358" width="1" height="4" fill="#9494F0"/>
<rect x="198" y="358" width="1" height="4" fill="#8C8CE3"/>
<rect x="199" y="358" width="1" height="4" fill="#8585D6"/>
<rect x="200" y="358" width="1" height="4" fill="#7D7DCA"/>
<rect x="201" y="358" width="1" height="4" fill="#7575BE"/>
<rect x="202" y="358" width="1" height="4" fill="#6E6EB1"/>
<rect x="203" y="358" width="1" height="4" fill="#6666A4"/>
<rect x="204" y="358" width="1" height="4" fill="#5E5E98"/>
<rect x="202" y="357" width="1" height="1" fill="#6E6EB1"/>
<rect x="203" y="357" width="1" height="1" fill="#6666A4"/>
<rect x="204" y="357" width="1" height="1" fill="#5E5E98"/>
<rect x="199" y="355" width="5" height="1" fill="#8888E0"/>
<rect x="196" y="356" width="6" height="1" fill="#8888E0"/>
<rect x="196" y="362" width="7" height="1" fill="#9898F0"/>
<rect x="204" y="362" width="2" height="1" fill="#000"/>
<rect x="204" y="361" width="1" height="1" fill="#000"/>
<rect x="221" y="320" width="6" height="1" fill="#000"/>
<rect x="218" y="321" width="10" height="41" fill="#000"/>
<rect x="218" y="362" width="10" height="1" fill="#000"/>
<rect x="219" y="363" width="6" height="1" fill="#000"/>
<rect x="219" y="324" width="1" height="38" fill="#9C9CFC"/>
<rect x="220" y="324" width="1" height="38" fill="#9393EE"/>
<rect x="221" y="324" width="1" height="38" fill="#8A8ADF"/>
<rect x="222" y="324" width="1" height="38" fill="#8181D1"/>
<rect x="223" y="324" width="1" height="38" fill="#7979C3"/>
<rect x="224" y="324" width="1" height="38" fill="#7070B5"/>
<rect x="225" y="324" width="1" height="38" fill="#6767A6"/>
<rect x="226" y="324" width="1" height="38" fill="#5E5E98"/>
<rect x="225" y="323" width="1" height="1" fill="#6767A6"/>
<rect x="226" y="323" width="1" height="1" fill="#5E5E98"/>
<rect x="222" y="321" width="4" height="1" fill="#8888E0"/>
<rect x="219" y="322" width="6" height="1" fill="#8888E0"/>
<rect x="219" y="362" width="6" height="1" fill="#9898F0"/>
<rect x="226" y="362" width="2" height="1" fill="#000"/>
<rect x="226" y="361" width="1" height="1" fill="#000"/>
<rect x="243" y="355" width="7" height="1" fill="#000"/>
<rect x="240" y="356" width="11" height="6" fill="#000"/>
<rect x="240" y="362" width="11" height="1" fill="#000"/>
<rect x="241" y="363" width="7" height="1" fill="#000"/>
<rect x="241" y="359" width="1" height="3" fill="#9C9CFC"/>
<rect x="242" y="359" width="1" height="3" fill="#9494F0"/>
<rect x="243" y="359" width="1" height="3" fill="#8C8CE3"/>
<rect x="244" y="359" width="1" height="3" fill="#8585D6"/>
<rect x="245" y="359" width="1" height="3" fill="#7D7DCA"/>
<rect x="246" y="359" width="1" height="3" fill="#7575BE"/>
<rect x="247" y="359" width="1" height="3" fill="#6E6EB1"/>
<rect x="248" y="359" width="1" height="3" fill="#6666A4"/>
<rect x="249" y="359" width="1" height="3" fill="#5E5E98"/>
<rect x="247" y="358" width="1" height="1" fill="#6E6EB1"/>
<rect x="248" y="358" width="1" height="1" fill="#6666A4"/>
<rect x="249" y="358" width="1" height="1" fill="#5E5E98"/>
<rect x="244" y="356" width="5" height="1" fill="#8888E0"/>
<rect x="241" y="357" width="6" height="1" fill="#8888E0"/>
<rect x="241" y="362" width="7" height="1" fill="#9898F0"/>
<rect x="249" y="362" width="2" height="1" fill="#000"/>
<rect x="249" y="361" width="1" height="1" fill="#000"/>
<polygon points="389,271 397,264 397,362 389,369" fill="#FFFFCC"/>
<rect x="397" y="263" width="187" height="99" fill="#FFFFCC"/>
<polygon points="389,369 397,361 584,361 576,369" fill="#FFCC99"/>
<rect x="397" y="277" width="187" height="1" fill="#000"/>
<rect x="389" y="284" width="1" height="1" fill="#000"/>
<rect x="390" y="283" width="1" height="1" fill="#000"/>
<rect x="391" y="282" width="1" height="1" fill="#000"/>
<rect x="392" y="281" width="1" height="1" fill="#000"/>
<rect x="393" y="280" width="1" height="1" fill="#000"/>
<rect x="394" y="280" width="1" height="1" fill="#000"/>
<rect x="395" y="279" width="1" height="1" fill="#000"/>
<rect x="396" y="278" width="1" height="1" fill="#000"/>
<rect x="397" y="277" width="1" height="1" fill="#000"/>
<rect x="397" y="291" width="187" height="1" fill="#000"/>
<rect x="389" y="298" width="1" height="1" fill="#000"/>
<rect x="390" y="297" width="1" height="1" fill="#000"/>
<rect x="391" y="296" width="1" height="1" fill="#000"/>
<rect x="392" y="295" width="1" height="1" fill="#000"/>
<rect x="393" y="294" width="1" height="1" fill="#000"/>
<rect x="394" y="294" width="1" height="1" fill="#000"/>
<rect x="395" y="293" width="1" height="1" fill="#000"/>
<rect x="396" y="292" width="1" height="1" fill="#000"/>
<rect x="397" y="291" width="1" height="1" fill="#000"/>
<rect x="397" y="305" width="187" height="1" fill="#000"/>
<rect x="389" y="312" width="1" height="1" fill="#000"/>
<rect x="390" y="311" width="1" height="1" fill="#000"/>
<rect x="391" y="310" width="1" height="1" fill="#000"/>
<rect x="392" y="309" width="1" height="1" fill="#000"/>
<rect x="393" y="308" width="1" height="1" fill="#000"/>
<rect x="394" y="308" width="1" height="1" fill="#000"/>
<rect x="395" y="307" width="1" height="1" fill="#000"/>
<rect x="396" y="306" width="1" height="1" fill="#000"/>
<rect x="397" y="305" width="1" height="1" fill="#000"/>
<rect x="397" y="319" width="187" height="1" fill="#000"/>
<rect x="389" y="326" width="1" height="1" fill="#000"/>
<rect x="390" y="325" width="1" height="1" fill="#000"/>
<rect x="391" y="324" width="1" height="1" fill="#000"/>
<rect x="392" y="323" width="1" height="1" fill="#000"/>
<rect x="393" y="322" width="1" height="1" fill="#000"/>
<rect x="394" y="322" width="1" height="1" fill="#000"/>
<rect x="395" y="321" width="1" height="1" fill="#000"/>
<rect x="396" y="320" width="1" height="1" fill="#000"/>
<rect x="397" y="319" width="1" height="1" fill="#000"/>
<rect x="397" y="333" width="187" height="1" fill="#000"/>
<rect x="389" y="340" width="1" height="1" fill="#000"/>
<rect x="390" y="339" width="1" height="1" fill="#000"/>
<rect x="391" y="338" width="1" height="1" fill="#000"/>
<rect x="392" y="337" width="1" height="1" fill="#000"/>
<rect x="393" y="336" width="1" height="1" fill="#000"/>
<rect x="394" y="336" width="1" height="1" fill="#000"/>
<rect x="395" y="335" width="1" height="1" fill="#000"/>
<rect x="396" y="334" width="1" height="1" fill="#000"/>
<rect x="397" y="333" width="1" height="1" fill="#000"/>
<rect x="397" y="347" width="187" height="1" fill="#000"/>
<rect x="389" y="354" width="1" height="1" fill="#000"/>
<rect x="390" y="353" width="1" height="1" fill="#000"/>
<rect x="391" y="352" width="1" height="1" fill="#000"/>
<rect x="392" y="351" width="1" height="1" fill="#000"/>
<rect x="393" y="350" width="1" height="1" fill="#000"/>
<rect x="394" y="350" width="1" height="1" fill="#000"/>
<rect x="395" y="349" width="1" height="1" fill="#000"/>
<rect x="396" y="348" width="1" height="1" fill="#000"/>
<rect x="397" y="347" width="1" height="1" fill="#000"/>
<rect x="397" y="263" width="187" height="1" fill="#808080"/>
<rect x="583" y="263" width="1" height="99" fill="#808080"/>
<rect x="397" y="263" width="1" height="99" fill="#808080"/>
<rect x="397" y="361" width="187" height="1" fill="#808080"/>
<rect x="389" y="270" width="1" height="1" fill="#808080"/>
<rect x="390" y="269" width="1" height="1" fill="#808080"/>
<rect x="391" y="268" width="1" height="1" fill="#808080"/>
<rect x="392" y="267" width="1" height="1" fill="#808080"/>
<rect x="393" y="266" width="1" height="1" fill="#808080"/>
<rect x="394" y="266" width="1" height="1" fill="#808080"/>
<rect x="395" y="265" width="1" height="1" fill="#808080"/>
<rect x="396" y="264" width="1" height="1" fill="#808080"/>
<rect x="397" y="263" width="1" height="1" fill="#808080"/>
<rect x="389" y="368" width="1" height="1" fill="#808080"/>
<rect x="390" y="367" width="1" height="1" fill="#808080"/>
<rect x="391" y="366" width="1" height="1" fill="#808080"/>
<rect x="392" y="365" width="1" height="1" fill="#808080"/>
<rect x="393" y="364" width="1" height="1" fill="#808080"/>
<rect x="394" y="364" width="1" height="1" fill="#808080"/>
<rect x="395" y="363" width="1" height="1" fill="#808080"/>
<rect x="396" y="362" width="1" height="1" fill="#808080"/>
<rect x="397" y="361" width="1" height="1" fill="#808080"/>
<rect x="575" y="368" width="1" height="1" fill="#000"/>
<rect x="576" y="367" width="1" height="1" fill="#000"/>
<rect x="577" y="366" width="1" height="1" fill="#000"/>
<rect x="578" y="365" width="1" height="1" fill="#000"/>
<rect x="579" y="364" width="1" height="1" fill="#000"/>
<rect x="580" y="364" width="1" height="1" fill="#000"/>
<rect x="581" y="363" width="1" height="1" fill="#000"/>
<rect x="582" y="362" width="1" height="1" fill="#000"/>
<rect x="583" y="361" width="1" height="1" fill="#000"/>
<rect x="389" y="270" width="1" height="100" fill="#000"/>
<rect x="389" y="368" width="187" height="1" fill="#000"/>
<rect x="389" y="368" width="1" height="2" fill="#000"/>
<rect x="412" y="368" width="1" height="2" fill="#000"/>
<rect x="436" y="368" width="1" height="2" fill="#000"/>
<rect x="459" y="368" width="1" height="2" fill="#000"/>
<rect x="482" y="368" width="1" height="2" fill="#000"/>
<rect x="505" y="368" width="1" height="2" fill="#000"/>
<rect x="529" y="368" width="1" height="2" fill="#000"/>
<rect x="552" y="368" width="1" height="2" fill="#000"/>
<rect x="575" y="368" width="1" height="2" fill="#000"/>
<rect x="403" y="352" width="7" height="1" fill="#000"/>
<rect x="400" y="353" width="11" height="12" fill="#000"/>
<rect x="400" y="365" width="11" height="1" fill="#000"/>
<rect x="401" y="366" width="7" height="1" fill="#000"/>
<rect x="401" y="356" width="1" height="9" fill="#9C9CFC"/>
<rect x="402" y="356" width="1" height="9" fill="#9494F0"/>
<rect x="403" y="356" width="1" height="9" fill="#8C8CE3"/>
<rect x="404" y="356" width="1" height="9" fill="#8585D6"/>
<rect x="405" y="356" width="1" height="9" fill="#7D7DCA"/>
<rect x="406" y="356" width="1" height="9" fill="#7575BE"/>
<rect x="407" y="356" width="1" height="9" fill="#6E6EB1"/>
<rect x="408" y="356" width="1" height="9" fill="#6666A4"/>
<rect x="409" y="356" width="1" height="9" fill="#5E5E98"/>
<rect x="407" y="355" width="1" height="1" fill="#6E6EB1"/>
<rect x="408" y="355" width="1" height="1" fill="#6666A4"/>
<rect x="409" y="355" width="1" height="1" fill="#5E5E98"/>
<rect x="404" y="353" width="5" height="1" fill="#8888E0"/>
<rect x="401" y="354" width="6" height="1" fill="#8888E0"/>
<rect x="401" y="365" width="7" height="1" fill="#9898F0"/>
<rect x="409" y="365" width="2" height="1" fill="#000"/>
<rect x="409" y="364" width="1" height="1" fill="#000"/>
<rect x="426" y="341" width="7" height="1" fill="#000"/>
<rect x="423" y="342" width="11" height="23" fill="#000"/>
<rect x="423" y="365" width="11" height="1" fill="#000"/>
<rect x="424" y="366" width="7" height="1" fill="#000"/>
<rect x="424" y="345" width="1" height="20" fill="#9C9CFC"/>
<rect x="425" y="345" width="1" height="20" fill="#9494F0"/>
<rect x="426" y="345" width="1" height="20" fill="#8C8CE3"/>
<rect x="427" y="345" width="1" height="20" fill="#8585D6"/>
<rect x="428" y="345" width="1" height="20" fill="#7D7DCA"/>
<rect x="429" y="345" width="1" height="20" fill="#7575BE"/>
<rect x="430" y="345" width="1" height="20" fill="#6E6EB1"/>
<rect x="431" y="345" width="1" height="20" fill="#6666A4"/>
<rect x="432" y="345" width="1" height="20" fill="#5E5E98"/>
<rect x="430" y="344" width="1" height="1" fill="#6E6EB1"/>
<rect x="431" y="344" width="1" height="1" fill="#6666A4"/>
<rect x="432" y="344" width="1" height="1" fill="#5E5E98"/>
<rect x="427" y="342" width="5" height="1" fill="#8888E0"/>
<rect x="424" y="343" width="6" height="1" fill="#8888E0"/>
<rect x="424" y="365" width="7" height="1" fill="#9898F0"/>
<rect x="432" y="365" width="2" height="1" fill="#000"/>
<rect x="432" y="364" width="1" height="1" fill="#000"/>
<rect x="449" y="357" width="7" height="1" fill="#000"/>
<rect x="446" y="358" width="11" height="7" fill="#000"/>
<rect x="446" y="365" width="11" height="1" fill="#000"/>
<rect x="447" y="366" width="7" height="1" fill="#000"/>
<rect x="447" y="361" width="1" height="4" fill="#9C9CFC"/>
<rect x="448" y="361" width="1" height="4" fill="#9494F0"/>
<rect x="449" y="361" width="1" height="4" fill="#8C8CE3"/>
<rect x="450" y="361" width="1" height="4" fill="#8585D6"/>
<rect x="451" y="361" width="1" height="4" fill="#7D7DCA"/>
<rect x="452" y="361" width="1" height="4" fill="#7575BE"/>
<rect x="453" y="361" width="1" height="4" fill="#6E6EB1"/>
<rect x="454" y="361" width="1" height="4" fill="#6666A4"/>
<rect x="455" y="361" width="1" height="4" fill="#5E5E98"/>
<rect x="453" y="360" width="1" height="1" fill="#6E6EB1"/>
<rect x="454" y="360" width="1" height="1" fill="#6666A4"/>
<rect x="455" y="360" width="1" height="1" fill="#5E5E98"/>
<rect x="450" y="358" width="5" height="1" fill="#8888E0"/>
<rect x="447" y="359" width="6" height="1" fill="#8888E0"/>
<rect x="447" y="365" width="7" height="1" fill="#9898F0"/>
<rect x="455" y="365" width="2" height="1" fill="#000"/>
<rect x="455" y="364" width="1" height="1" fill="#000"/>
<rect x="472" y="311" width="7" height="1" fill="#000"/>
<rect x="469" y="312" width="11" height="53" fill="#000"/>
<rect x="469" y="365" width="11" height="1" fill="#000"/>
<rect x="470" y="366" width="7" height="1" fill="#000"/>
<rect x="470" y="315" width="1" height="50" fill="#9C9CFC"/>
<rect x="471" y="315" width="1" height="50" fill="#9494F0"/>
<rect x="472" y="315" width="1" height="50" fill="#8C8CE3"/>
<rect x="473" y="315" width="1" height="50" fill="#8585D6"/>
<rect x="474" y="315" width="1" height="50" fill="#7D7DCA"/>
<rect x="475" y="315" width="1" height="50" fill="#7575BE"/>
<rect x="476" y="315" width="1" height="50" fill="#6E6EB1"/>
<rect x="477" y="315" width="1" height="50" fill="#6666A4"/>
<rect x="478" y="315" width="1" height="50" fill="#5E5E98"/>
<rect x="476" y="314" width="1" height="1" fill="#6E6EB1"/>
<rect x="477" y="314" width="1" height="1" fill="#6666A4"/>
<rect x="478" y="314" width="1" height="1" fill="#5E5E98"/>
<rect x="473" y="312" width="5" height="1" fill="#8888E0"/>
<rect x="470" y="313" width="6" height="1" fill="#8888E0"/>
<rect x="470" y="365" width="7" height="1" fill="#9898F0"/>
<rect x="478" y="365" width="2" height="1" fill="#000"/>
<rect x="478" y="364" width="1" height="1" fill="#000"/>
<rect x="496" y="286" width="7" height="1" fill="#000"/>
<rect x="493" y="287" width="11" height="78" fill="#000"/>
<rect x="493" y="365" width="11" height="1" fill="#000"/>
<rect x="494" y="366" width="7" height="1" fill="#000"/>
<rect x="494" y="290" width="1" height="75" fill="#9C9CFC"/>
<rect x="495" y="290" width="1" height="75" fill="#9494F0"/>
<rect x="496" y="290" width="1" height="75" fill="#8C8CE3"/>
<rect x="497" y="290" width="1" height="75" fill="#8585D6"/>
<rect x="498" y="290" width="1" height="75" fill="#7D7DCA"/>
<rect x="499" y="290" width="1" height="75" fill="#7575BE"/>
<rect x="500" y="290" width="1" height="75" fill="#6E6EB1"/>
<rect x="501" y="290" width="1" height="75" fill="#6666A4"/>
<rect x="502" y="290" width="1" height="75" fill="#5E5E98"/>
<rect x="500" y="289" width="1" height="1" fill="#6E6EB1"/>
<rect x="501" y="289" width="1" height="1" fill="#6666A4"/>
<rect x="502" y="289" width="1" height="1" fill="#5E5E98"/>
<rect x="497" y="287" width="5" height="1" fill="#8888E0"/>
<rect x="494" y="288" width="6" height="1" fill="#8888E0"/>
<rect x="494" y="365" width="7" height="1" fill="#9898F0"/>
<rect x="502" y="365" width="2" height="1" fill="#000"/>
<rect x="502" y="364" width="1" height="1" fill="#000"/>
<rect x="519" y="272" width="7" height="1" fill="#000"/>
<rect x="516" y="273" width="11" height="92" fill="#000"/>
<rect x="516" y="365" width="11" height="1" fill="#000"/>
<rect x="517" y="366" width="7" height="1" fill="#000"/>
<rect x="517" y="276" width="1" height="89" fill="#9C9CFC"/>
<rect x="518" y="276" width="1" height="89" fill="#9494F0"/>
<rect x="519" y="276" width="1" height="89" fill="#8C8CE3"/>
<rect x="520" y="276" width="1" height="89" fill="#8585D6"/>
<rect x="521" y="276" width="1" height="89" fill="#7D7DCA"/>
<rect x="522" y="276" width="1" height="89" fill="#7575BE"/>
<rect x="523" y="276" width="1" height="89" fill="#6E6EB1"/>
<rect x="524" y="276" width="1" height="89" fill="#6666A4"/>
<rect x="525" y="276" width="1" height="89" fill="#5E5E98"/>
<rect x="523" y="275" width="1" height="1" fill="#6E6EB1"/>
<rect x="524" y="275" width="1" height="1" fill="#6666A4"/>
<rect x="525" y="275" width="1" height="1" fill="#5E5E98"/>
<rect x="520" y="273" width="5" height="1" fill="#8888E0"/>
<rect x="517" y="274" width="6" height="1" fill="#8888E0"/>
<rect x="517" y="365" width="7" height="1" fill="#9898F0"/>
<rect x="525" y="365" width="2" height="1" fill="#000"/>
<rect x="525" y="364" width="1" height="1" fill="#000"/>
<rect x="542" y="342" width="7" height="1" fill="#000"/>
<rect x="539" y="343" width="11" height="22" fill="#000"/>
<rect x="539" y="365" width="11" height="1" fill="#000"/>
<rect x="540" y="366" width="7" height="1" fill="#000"/>
<rect x="540" y="346" width="1" height="19" fill="#9C9CFC"/>
<rect x="541" y="346" width="1" height="19" fill="#9494F0"/>
<rect x="542" y="346" width="1" height="19" fill="#8C8CE3"/>
<rect x="543" y="346" width="1" height="19" fill="#8585D6"/>
<rect x="544" y="346" width="1" height="19" fill="#7D7DCA"/>
<rect x="545" y="346" width="1" height="19" fill="#7575BE"/>
<rect x="546" y="346" width="1" height="19" fill="#6E6EB1"/>
<rect x="547" y="346" width="1" height="19" fill="#6666A4"/>
<rect x="548" y="346" width="1" height="19" fill="#5E5E98"/>
<rect x="546" y="345" width="1" height="1" fill="#6E6EB1"/>
<rect x="547" y="345" width="1" height="1" fill="#6666A4"/>
<rect x="548" y="345" width="1" height="1" fill="#5E5E98"/>
<rect x="543" y="343" width="5" height="1" fill="#8888E0"/>
<rect x="540" y="344" width="6" height="1" fill="#8888E0"/>
<rect x="540" y="365" width="7" height="1" fill="#9898F0"/>
<rect x="548" y="365" width="2" height="1" fill="#000"/>
<rect x="548" y="364" width="1" height="1" fill="#000"/>
<rect x="565" y="359" width="7" height="1" fill="#000"/>
<rect x="562" y="360" width="11" height="5" fill="#000"/>
<rect x="562" y="365" width="11" height="1" fill="#000"/>
<rect x="563" y="366" width="7" height="1" fill="#000"/>
<rect x="563" y="363" width="1" height="2" fill="#9C9CFC"/>
<rect x="564" y="363" width="1" height="2" fill="#9494F0"/>
<rect x="565" y="363" width="1" height="2" fill="#8C8CE3"/>
<rect x="566" y="363" width="1" height="2" fill="#8585D6"/>
<rect x="567" y="363" width="1" height="2" fill="#7D7DCA"/>
<rect x="568" y="363" width="1" height="2" fill="#7575BE"/>
<rect x="569" y="363" width="1" height="2" fill="#6E6EB1"/>
<rect x="570" y="363" width="1" height="2" fill="#6666A4"/>
<rect x="571" y="363" width="1" height="2" fill="#5E5E98"/>
<rect x="569" y="362" width="1" height="1" fill="#6E6EB1"/>
<rect x="570" y="362" width="1" height="1" fill="#6666A4"/>
<rect x="571" y="362" width="1" height="1" fill="#5E5E98"/>
<rect x="566" y="360" width="5" height="1" fill="#8888E0"/>
<rect x="563" y="361" width="6" height="1" fill="#8888E0"/>
<rect x="563" y="365" width="7" height="1" fill="#9898F0"/>
<rect x="571" y="365" width="2" height="1" fill="#000"/>
<rect x="571" y="364" width="1" height="1" fill="#000"/>
<rect x="57" y="50" width="1" height="1" fill="#000"/>
<rect x="56" y="51" width="2" height="1" fill="#000"/>
<rect x="57" y="52" width="1" height="1" fill="#000"/>
<rect x="57" y="53" width="1" height="1" fill="#000"/>
<rect x="57" y="54" width="1" height="1" fill="#000"/>
<rect x="57" y="55" width="1" height="1" fill="#000"/>
<rect x="57" y="56" width="1" height="1" fill="#000"/>
<rect x="61" y="50" width="2" height="1" fill="#000"/>
<rect x="60" y="51" width="1" height="1" fill="#000"/>
<rect x="63" y="51" width="1" height="1" fill="#000"/>
<rect x="63" y="52" width="1" height="1" fill="#000"/>
<rect x="62" y="53" width="1" height="1" fill="#000"/>
<rect x="62" y="54" width="1" height="1" fill="#000"/>
<rect x="61" y="55" width="1" height="1" fill="#000"/>
<rect x="60" y="56" width="4" height="1" fill="#000"/>
<rect x="57" y="66" width="1" height="1" fill="#000"/>
<rect x="56" y="67" width="2" height="1" fill="#000"/>
<rect x="57" y="68" width="1" height="1" fill="#000"/>
<rect x="57" y="69" width="1" height="1" fill="#000"/>
<rect x="57" y="70" width="1" height="1" fill="#000"/>
<rect x="57" y="71" width="1" height="1" fill="#000"/>
<rect x="57" y="72" width="1" height="1" fill="#000"/>
<rect x="61" y="66" width="2" height="1" fill="#000"/>
<rect x="60" y="67" width="1" height="1" fill="#000"/>
<rect x="63" y="67" width="1" height="1" fill="#000"/>
<rect x="60" y="68" width="1" height="1" fill="#000"/>
<rect x="63" y="68" width="1" height="1" fill="#000"/>
<rect x="60" y="69" width="1" height="1" fill="#000"/>
<rect x="63" y="69" width="1" height="1" fill="#000"/>
<rect x="60" y="70" width="1" height="1" fill="#000"/>
<rect x="63" y="70" width="1" height="1" fill="#000"/>
<rect x="60" y="71" width="1" height="1" fill="#000"/>
<rect x="63" y="71" width="1" height="1" fill="#000"/>
<rect x="60" y="72" width="3" height="1" fill="#000"/>
<rect x="60" y="82" width="2" height="1" fill="#000"/>
<rect x="59" y="83" width="1" height="1" fill="#000"/>
<rect x="62" y="83" width="1" height="1" fill="#000"/>
<rect x="59" y="84" width="1" height="1" fill="#000"/>
<rect x="62" y="84" width="1" height="1" fill="#000"/>
<rect x="60" y="85" width="2" height="1" fill="#000"/>
<rect x="59" y="86" width="1" height="1" fill="#000"/>
<rect x="62" y="86" width="1" height="1" fill="#000"/>
<rect x="59" y="87" width="1" height="1" fill="#000"/>
<rect x="62" y="87" width="1" height="1" fill="#000"/>
<rect x="60" y="88" width="2" height="1" fill="#000"/>
<rect x="60" y="99" width="2" height="1" fill="#000"/>
<rect x="59" y="100" width="1" height="1" fill="#000"/>
<rect x="62" y="100" width="1" height="1" fill="#000"/>
<rect x="59" y="101" width="3" height="1" fill="#000"/>
<rect x="59" y="102" width="1" height="1" fill="#000"/>
<rect x="62" y="102" width="1" height="1" fill="#000"/>
<rect x="59" y="103" width="1" height="1" fill="#000"/>
<rect x="62" y="103" width="1" height="1" fill="#000"/>
<rect x="59" y="104" width="1" height="1" fill="#000"/>
<rect x="62" y="104" width="1" height="1" fill="#000"/>
<rect x="60" y="105" width="2" height="1" fill="#000"/>
<rect x="62" y="115" width="1" height="1" fill="#000"/>
<rect x="61" y="116" width="2" height="1" fill="#000"/>
<rect x="60" y="117" width="1" height="1" fill="#000"/>
<rect x="62" y="117" width="1" height="1" fill="#000"/>
<rect x="59" y="118" width="1" height="1" fill="#000"/>
<rect x="62" y="118" width="1" height="1" fill="#000"/>
<rect x="59" y="119" width="5" height="1" fill="#000"/>
<rect x="62" y="120" width="1" height="1" fill="#000"/>
<rect x="62" y="121" width="1" height="1" fill="#000"/>
<rect x="60" y="131" width="2" height="1" fill="#000"/>
<rect x="59" y="132" width="1" height="1" fill="#000"/>
<rect x="62" y="132" width="1" height="1" fill="#000"/>
<rect x="62" y="133" width="1" height="1" fill="#000"/>
<rect x="61" y="134" width="1" height="1" fill="#000"/>
<rect x="61" y="135" width="1" height="1" fill="#000"/>
<rect x="60" y="136" width="1" height="1" fill="#000"/>
<rect x="59" y="137" width="4" height="1" fill="#000"/>
<rect x="60" y="148" width="2" height="1" fill="#000"/>
<rect x="59" y="149" width="1" height="1" fill="#000"/>
<rect x="62" y="149" width="1" height="1" fill="#000"/>
<rect x="59" y="150" width="1" height="1" fill="#000"/>
<rect x="62" y="150" width="1" height="1" fill="#000"/>
<rect x="59" y="151" width="1" height="1" fill="#000"/>
<rect x="62" y="151" width="1" height="1" fill="#000"/>
<rect x="59" y="152" width="1" height="1" fill="#000"/>
<rect x="62" y="152" width="1" height="1" fill="#000"/>
<rect x="59" y="153" width="1" height="1" fill="#000"/>
<rect x="62" y="153" width="1" height="1" fill="#000"/>
<rect x="59" y="154" width="3" height="1" fill="#000"/>
<rect x="374" y="45" width="4" height="1" fill="#000"/>
<rect x="377" y="46" width="1" height="1" fill="#000"/>
<rect x="376" y="47" width="1" height="1" fill="#000"/>
<rect x="376" y="48" width="1" height="1" fill="#000"/>
<rect x="375" y="49" width="1" height="1" fill="#000"/>
<rect x="375" y="50" width="1" height="1" fill="#000"/>
<rect x="375" y="51" width="1" height="1" fill="#000"/>
<rect x="375" y="60" width="2" height="1" fill="#000"/>
<rect x="374" y="61" width="1" height="1" fill="#000"/>
<rect x="377" y="61" width="1" height="1" fill="#000"/>
<rect x="374" y="62" width="3" height="1" fill="#000"/>
<rect x="374" y="63" width="1" height="1" fill="#000"/>
<rect x="377" y="63" width="1" height="1" fill="#000"/>
<rect x="374" y="64" width="1" height="1" fill="#000"/>
<rect x="377" y="64" width="1" height="1" fill="#000"/>
<rect x="374" y="65" width="1" height="1" fill="#000"/>
<rect x="377" y="65" width="1" height="1" fill="#000"/>
<rect x="375" y="66" width="2" height="1" fill="#000"/>
<rect x="375" y="75" width="3" height="1" fill="#000"/>
<rect x="375" y="76" width="1" height="1" fill="#000"/>
<rect x="374" y="77" width="3" height="1" fill="#000"/>
<rect x="374" y="78" width="1" height="1" fill="#000"/>
<rect x="377" y="78" width="1" height="1" fill="#000"/>
<rect x="377" y="79" width="1" height="1" fill="#000"/>
<rect x="374" y="80" width="1" height="1" fill="#000"/>
<rect x="377" y="80" width="1" height="1" fill="#000"/>
<rect x="375" y="81" width="2" height="1" fill="#000"/>
<rect x="377" y="89" width="1" height="1" fill="#000"/>
<rect x="376" y="90" width="2" height="1" fill="#000"/>
<rect x="375" y="91" width="1" height="1" fill="#000"/>
<rect x="377" y="91" width="1" height="1" fill="#000"/>
<rect x="374" y="92" width="1" height="1" fill="#000"/>
<rect x="377" y="92" width="1" height="1" fill="#000"/>
<rect x="374" y="93" width="5" height="1" fill="#000"/>
<rect x="377" y="94" width="1" height="1" fill="#000"/>
<rect x="377" y="95" width="1" height="1" fill="#000"/>
<rect x="375" y="104" width="2" height="1" fill="#000"/>
<rect x="374" y="105" width="1" height="1" fill="#000"/>
<rect x="377" y="105" width="1" height="1" fill="#000"/>
<rect x="377" y="106" width="1" height="1" fill="#000"/>
<rect x="376" y="107" width="1" height="1" fill="#000"/>
<rect x="377" y="108" width="1" height="1" fill="#000"/>
<rect x="374" y="109" width="1" height="1" fill="#000"/>
<rect x="377" y="109" width="1" height="1" fill="#000"/>
<rect x="375" y="110" width="2" height="1" fill="#000"/>
<rect x="375" y="119" width="2" height="1" fill="#000"/>
<rect x="374" y="120" width="1" height="1" fill="#000"/>
<rect x="377" y="120" width="1" height="1" fill="#000"/>
<rect x="377" y="121" width="1" height="1" fill="#000"/>
<rect x="376" y="122" width="1" height="1" fill="#000"/>
<rect x="376" y="123" width="1" height="1" fill="#000"/>
<rect x="375" y="124" width="1" height="1" fill="#000"/>
<rect x="374" y="125" width="4" height="1" fill="#000"/>
<rect x="376" y="134" width="1" height="1" fill="#000"/>
<rect x="375" y="135" width="2" height="1" fill="#000"/>
<rect x="376" y="136" width="1" height="1" fill="#000"/>
<rect x="376" y="137" width="1" height="1" fill="#000"/>
<rect x="376" y="138" width="1" height="1" fill="#000"/>
<rect x="376" y="139" width="1" height="1" fill="#000"/>
<rect x="376" y="140" width="1" height="1" fill="#000"/>
<rect x="375" y="149" width="2" height="1" fill="#000"/>
<rect x="374" y="150" width="1" height="1" fill="#000"/>
<rect x="377" y="150" width="1" height="1" fill="#000"/>
<rect x="374" y="151" width="1" height="1" fill="#000"/>
<rect x="377" y="151" width="1" height="1" fill="#000"/>
<rect x="374" y="152" width="1" height="1" fill="#000"/>
<rect x="377" y="152" width="1" height="1" fill="#000"/>
<rect x="374" y="153" width="1" height="1" fill="#000"/>
<rect x="377" y="153" width="1" height="1" fill="#000"/>
<rect x="374" y="154" width="1" height="1" fill="#000"/>
<rect x="377" y="154" width="1" height="1" fill="#000"/>
<rect x="374" y="155" width="3" height="1" fill="#000"/>
<rect x="63" y="267" width="1" height="1" fill="#000"/>
<rect x="62" y="268" width="2" height="1" fill="#000"/>
<rect x="63" y="269" width="1" height="1" fill="#000"/>
<rect x="63" y="270" width="1" height="1" fill="#000"/>
<rect x="63" y="271" width="1" height="1" fill="#000"/>
<rect x="63" y="272" width="1" height="1" fill="#000"/>
<rect x="63" y="273" width="1" height="1" fill="#000"/>
<rect x="66" y="267" width="2" height="1" fill="#000"/>
<rect x="65" y="268" width="1" height="1" fill="#000"/>
<rect x="68" y="268" width="1" height="1" fill="#000"/>
<rect x="68" y="269" width="1" height="1" fill="#000"/>
<rect x="67" y="270" width="1" height="1" fill="#000"/>
<rect x="67" y="271" width="1" height="1" fill="#000"/>
<rect x="66" y="272" width="1" height="1" fill="#000"/>
<rect x="65" y="273" width="4" height="1" fill="#000"/>
<rect x="63" y="283" width="1" height="1" fill="#000"/>
<rect x="62" y="284" width="2" height="1" fill="#000"/>
<rect x="63" y="285" width="1" height="1" fill="#000"/>
<rect x="63" y="286" width="1" height="1" fill="#000"/>
<rect x="63" y="287" width="1" height="1" fill="#000"/>
<rect x="63" y="288" width="1" height="1" fill="#000"/>
<rect x="63" y="289" width="1" height="1" fill="#000"/>
<rect x="66" y="283" width="2" height="1" fill="#000"/>
<rect x="65" y="284" width="1" height="1" fill="#000"/>
<rect x="68" y="284" width="1" height="1" fill="#000"/>
<rect x="65" y="285" width="1" height="1" fill="#000"/>
<rect x="68" y="285" width="1" height="1" fill="#000"/>
<rect x="65" y="286" width="1" height="1" fill="#000"/>
<rect x="68" y="286" width="1" height="1" fill="#000"/>
<rect x="65" y="287" width="1" height="1" fill="#000"/>
<rect x="68" y="287" width="1" height="1" fill="#000"/>
<rect x="65" y="288" width="1" height="1" fill="#000"/>
<rect x="68" y="288" width="1" height="1" fill="#000"/>
<rect x="65" y="289" width="3" height="1" fill="#000"/>
<rect x="66" y="299" width="2" height="1" fill="#000"/>
<rect x="65" y="300" width="1" height="1" fill="#000"/>
<rect x="68" y="300" width="1" height="1" fill="#000"/>
<rect x="65" y="301" width="1" height="1" fill="#000"/>
<rect x="68" y="301" width="1" height="1" fill="#000"/>
<rect x="66" y="302" width="2" height="1" fill="#000"/>
<rect x="65" y="303" width="1" height="1" fill="#000"/>
<rect x="68" y="303" width="1" height="1" fill="#000"/>
<rect x="65" y="304" width="1" height="1" fill="#000"/>
<rect x="68" y="304" width="1" height="1" fill="#000"/>
<rect x="66" y="305" width="2" height="1" fill="#000"/>
<rect x="66" y="315" width="2" height="1" fill="#000"/>
<rect x="65" y="316" width="1" height="1" fill="#000"/>
<rect x="68" y="316" width="1" height="1" fill="#000"/>
<rect x="65" y="317" width="3" height="1" fill="#000"/>
<rect x="65" y="318" width="1" height="1" fill="#000"/>
<rect x="68" y="318" width="1" height="1" fill="#000"/>
<rect x="65" y="319" width="1" height="1" fill="#000"/>
<rect x="68" y="319" width="1" height="1" fill="#000"/>
<rect x="65" y="320" width="1" height="1" fill="#000"/>
<rect x="68" y="320" width="1" height="1" fill="#000"/>
<rect x="66" y="321" width="2" height="1" fill="#000"/>
<rect x="68" y="330" width="1" height="1" fill="#000"/>
<rect x="67" y="331" width="2" height="1" fill="#000"/>
<rect x="66" y="332" width="1" height="1" fill="#000"/>
<rect x="68" y="332" width="1" height="1" fill="#000"/>
<rect x="65" y="333" width="1" height="1" fill="#000"/>
<rect x="68" y="333" width="1" height="1" fill="#000"/>
<rect x="65" y="334" width="5" height="1" fill="#000"/>
<rect x="68" y="335" width="1" height="1" fill="#000"/>
<rect x="68" y="336" width="1" height="1" fill="#000"/>
<rect x="66" y="346" width="2" height="1" fill="#000"/>
<rect x="65" y="347" width="1" height="1" fill="#000"/>
<rect x="68" y="347" width="1" height="1" fill="#000"/>
<rect x="68" y="348" width="1" height="1" fill="#000"/>
<rect x="67" y="349" width="1" height="1" fill="#000"/>
<rect x="67" y="350" width="1" height="1" fill="#000"/>
<rect x="66" y="351" width="1" height="1" fill="#000"/>
<rect x="65" y="352" width="4" height="1" fill="#000"/>
<rect x="66" y="362" width="2" height="1" fill="#000"/>
<rect x="65" y="363" width="1" height="1" fill="#000"/>
<rect x="68" y="363" width="1" height="1" fill="#000"/>
<rect x="65" y="364" width="1" height="1" fill="#000"/>
<rect x="68" y="364" width="1" height="1" fill="#000"/>
<rect x="65" y="365" width="1" height="1" fill="#000"/>
<rect x="68" y="365" width="1" height="1" fill="#000"/>
<rect x="65" y="366" width="1" height="1" fill="#000"/>
<rect x="68" y="366" width="1" height="1" fill="#000"/>
<rect x="65" y="367" width="1" height="1" fill="#000"/>
<rect x="68" y="367" width="1" height="1" fill="#000"/>
<rect x="65" y="368" width="3" height="1" fill="#000"/>
<rect x="377" y="267" width="2" height="1" fill="#000"/>
<rect x="376" y="268" width="1" height="1" fill="#000"/>
<rect x="379" y="268" width="1" height="1" fill="#000"/>
<rect x="376" y="269" width="1" height="1" fill="#000"/>
<rect x="379" y="269" width="1" height="1" fill="#000"/>
<rect x="376" y="270" width="1" height="1" fill="#000"/>
<rect x="379" y="270" width="1" height="1" fill="#000"/>
<rect x="376" y="271" width="1" height="1" fill="#000"/>
<rect x="379" y="271" width="1" height="1" fill="#000"/>
<rect x="376" y="272" width="1" height="1" fill="#000"/>
<rect x="379" y="272" width="1" height="1" fill="#000"/>
<rect x="376" y="273" width="3" height="1" fill="#000"/>
<rect x="382" y="273" width="1" height="1" fill="#000"/>
<rect x="383" y="267" width="4" height="1" fill="#000"/>
<rect x="386" y="268" width="1" height="1" fill="#000"/>
<rect x="385" y="269" width="1" height="1" fill="#000"/>
<rect x="385" y="270" width="1" height="1" fill="#000"/>
<rect x="384" y="271" width="1" height="1" fill="#000"/>
<rect x="384" y="272" width="1" height="1" fill="#000"/>
<rect x="384" y="273" width="1" height="1" fill="#000"/>
<rect x="377" y="281" width="2" height="1" fill="#000"/>
<rect x="376" y="282" width="1" height="1" fill="#000"/>
<rect x="379" y="282" width="1" height="1" fill="#000"/>
<rect x="376" y="283" width="1" height="1" fill="#000"/>
<rect x="379" y="283" width="1" height="1" fill="#000"/>
<rect x="376" y="284" width="1" height="1" fill="#000"/>
<rect x="379" y="284" width="1" height="1" fill="#000"/>
<rect x="376" y="285" width="1" height="1" fill="#000"/>
<rect x="379" y="285" width="1" height="1" fill="#000"/>
<rect x="376" y="286" width="1" height="1" fill="#000"/>
<rect x="379" y="286" width="1" height="1" fill="#000"/>
<rect x="376" y="287" width="3" height="1" fill="#000"/>
<rect x="382" y="287" width="1" height="1" fill="#000"/>
<rect x="384" y="281" width="2" height="1" fill="#000"/>
<rect x="383" y="282" width="1" height="1" fill="#000"/>
<rect x="386" y="282" width="1" height="1" fill="#000"/>
<rect x="383" y="283" width="3" height="1" fill="#000"/>
<rect x="383" y="284" width="1" height="1" fill="#000"/>
<rect x="386" y="284" width="1" height="1" fill="#000"/>
<rect x="383" y="285" width="1" height="1" fill="#000"/>
<rect x="386" y="285" width="1" height="1" fill="#000"/>
<rect x="383" y="286" width="1" height="1" fill="#000"/>
<rect x="386" y="286" width="1" height="1" fill="#000"/>
<rect x="384" y="287" width="2" height="1" fill="#000"/>
<rect x="377" y="295" width="2" height="1" fill="#000"/>
<rect x="376" y="296" width="1" height="1" fill="#000"/>
<rect x="379" y="296" width="1" height="1" fill="#000"/>
<rect x="376" y="297" width="1" height="1" fill="#000"/>
<rect x="379" y="297" width="1" height="1" fill="#000"/>
<rect x="376" y="298" width="1" height="1" fill="#000"/>
<rect x="379" y="298" width="1" height="1" fill="#000"/>
<rect x="376" y="299" width="1" height="1" fill="#000"/>
<rect x="379" y="299" width="1" height="1" fill="#000"/>
<rect x="376" y="300" width="1" height="1" fill="#000"/>
<rect x="379" y="300" width="1" height="1" fill="#000"/>
<rect x="376" y="301" width="3" height="1" fill="#000"/>
<rect x="382" y="301" width="1" height="1" fill="#000"/>
<rect x="384" y="295" width="3" height="1" fill="#000"/>
<rect x="384" y="296" width="1" height="1" fill="#000"/>
<rect x="383" y="297" width="3" height="1" fill="#000"/>
<rect x="383" y="298" width="1" height="1" fill="#000"/>
<rect x="386" y="298" width="1" height="1" fill="#000"/>
<rect x="386" y="299" width="1" height="1" fill="#000"/>
<rect x="383" y="300" width="1" height="1" fill="#000"/>
<rect x="386" y="300" width="1" height="1" fill="#000"/>
<rect x="384" y="301" width="2" height="1" fill="#000"/>
<rect x="377" y="309" width="2" height="1" fill="#000"/>
<rect x="376" y="310" width="1" height="1" fill="#000"/>
<rect x="379" y="310" width="1" height="1" fill="#000"/>
<rect x="376" y="311" width="1" height="1" fill="#000"/>
<rect x="379" y="311" width="1" height="1" fill="#000"/>
<rect x="376" y="312" width="1" height="1" fill="#000"/>
<rect x="379" y="312" width="1" height="1" fill="#000"/>
<rect x="376" y="313" width="1" height="1" fill="#000"/>
<rect x="379" y="313" width="1" height="1" fill="#000"/>
<rect x="376" y="314" width="1" height="1" fill="#000"/>
<rect x="379" y="314" width="1" height="1" fill="#000"/>
<rect x="376" y="315" width="3" height="1" fill="#000"/>
<rect x="382" y="315" width="1" height="1" fill="#000"/>
<rect x="386" y="309" width="1" height="1" fill="#000"/>
<rect x="385" y="310" width="2" height="1" fill="#000"/>
<rect x="384" y="311" width="1" height="1" fill="#000"/>
<rect x="386" y="311" width="1" height="1" fill="#000"/>
<rect x="383" y="312" width="1" height="1" fill="#000"/>
<rect x="386" y="312" width="1" height="1" fill="#000"/>
<rect x="383" y="313" width="5" height="1" fill="#000"/>
<rect x="386" y="314" width="1" height="1" fill="#000"/>
<rect x="386" y="315" width="1" height="1" fill="#000"/>
<rect x="377" y="323" width="2" height="1" fill="#000"/>
<rect x="376" y="324" width="1" height="1" fill="#000"/>
<rect x="379" y="324" width="1" height="1" fill="#000"/>
<rect x="376" y="325" width="1" height="1" fill="#000"/>
<rect x="379" y="325" width="1" height="1" fill="#000"/>
<rect x="376" y="326" width="1" height="1" fill="#000"/>
<rect x="379" y="326" width="1" height="1" fill="#000"/>
<rect x="376" y="327" width="1" height="1" fill="#000"/>
<rect x="379" y="327" width="1" height="1" fill="#000"/>
<rect x="376" y="328" width="1" height="1" fill="#000"/>
<rect x="379" y="328" width="1" height="1" fill="#000"/>
<rect x="376" y="329" width="3" height="1" fill="#000"/>
<rect x="382" y="329" width="1" height="1" fill="#000"/>
<rect x="384" y="323" width="2" height="1" fill="#000"/>
<rect x="383" y="324" width="1" height="1" fill="#000"/>
<rect x="386" y="324" width="1" height="1" fill="#000"/>
<rect x="386" y="325" width="1" height="1" fill="#000"/>
<rect x="385" y="326" width="1" height="1" fill="#000"/>
<rect x="386" y="327" width="1" height="1" fill="#000"/>
<rect x="383" y="328" width="1" height="1" fill="#000"/>
<rect x="386" y="328" width="1" height="1" fill="#000"/>
<rect x="384" y="329" width="2" height="1" fill="#000"/>
<rect x="377" y="337" width="2" height="1" fill="#000"/>
<rect x="376" y="338" width="1" height="1" fill="#000"/>
<rect x="379" y="338" width="1" height="1" fill="#000"/>
<rect x="376" y="339" width="1" height="1" fill="#000"/>
<rect x="379" y="339" width="1" height="1" fill="#000"/>
<rect x="376" y="340" width="1" height="1" fill="#000"/>
<rect x="379" y="340" width="1" height="1" fill="#000"/>
<rect x="376" y="341" width="1" height="1" fill="#000"/>
<rect x="379" y="341" width="1" height="1" fill="#000"/>
<rect x="376" y="342" width="1" height="1" fill="#000"/>
<rect x="379" y="342" width="1" height="1" fill="#000"/>
<rect x="376" y="343" width="3" height="1" fill="#000"/>
<rect x="382" y="343" width="1" height="1" fill="#000"/>
<rect x="384" y="337" width="2" height="1" fill="#000"/>
<rect x="383" y="338" width="1" height="1" fill="#000"/>
<rect x="386" y="338" width="1" height="1" fill="#000"/>
<rect x="386" y="339" width="1" height="1" fill="#000"/>
<rect x="385" y="340" width="1" height="1" fill="#000"/>
<rect x="385" y="341" width="1" height="1" fill="#000"/>
<rect x="384" y="342" width="1" height="1" fill="#000"/>
<rect x="383" y="343" width="4" height="1" fill="#000"/>
<rect x="377" y="351" width="2" height="1" fill="#000"/>
<rect x="376" y="352" width="1" height="1" fill="#000"/>
<rect x="379" y="352" width="1" height="1" fill="#000"/>
<rect x="376" y="353" width="1" height="1" fill="#000"/>
<rect x="379" y="353" width="1" height="1" fill="#000"/>
<rect x="376" y="354" width="1" height="1" fill="#000"/>
<rect x="379" y="354" width="1" height="1" fill="#000"/>
<rect x="376" y="355" width="1" height="1" fill="#000"/>
<rect x="379" y="355" width="1" height="1" fill="#000"/>
<rect x="376" y="356" width="1" height="1" fill="#000"/>
<rect x="379" y="356" width="1" height="1" fill="#000"/>
<rect x="376" y="357" width="3" height="1" fill="#000"/>
<rect x="382" y="357" width="1" height="1" fill="#000"/>
<rect x="385" y="351" width="1" height="1" fill="#000"/>
<rect x="384" y="352" width="2" height="1" fill="#000"/>
<rect x="385" y="353" width="1" height="1" fill="#000"/>
<rect x="385" y="354" width="1" height="1" fill="#000"/>
<rect x="385" y="355" width="1" height="1" fill="#000"/>
<rect x="385" y="356" width="1" height="1" fill="#000"/>
<rect x="385" y="357" width="1" height="1" fill="#000"/>
<rect x="383" y="365" width="2" height="1" fill="#000"/>
<rect x="382" y="366" width="1" height="1" fill="#000"/>
<rect x="385" y="366" width="1" height="1" fill="#000"/>
<rect x="382" y="367" width="1" height="1" fill="#000"/>
<rect x="385" y="367" width="1" height="1" fill="#000"/>
<rect x="382" y="368" width="1" height="1" fill="#000"/>
<rect x="385" y="368" width="1" height="1" fill="#000"/>
<rect x="382" y="369" width="1" height="1" fill="#000"/>
<rect x="385" y="369" width="1" height="1" fill="#000"/>
<rect x="382" y="370" width="1" height="1" fill="#000"/>
<rect x="385" y="370" width="1" height="1" fill="#000"/>
<rect x="382" y="371" width="3" height="1" fill="#000"/>
<rect x="76" y="155" width="5" height="1" fill="#000"/>
<rect x="76" y="156" width="1" height="1" fill="#000"/>
<rect x="78" y="156" width="1" height="1" fill="#000"/>
<rect x="80" y="156" width="1" height="1" fill="#000"/>
<rect x="76" y="157" width="1" height="1" fill="#000"/>
<rect x="78" y="157" width="1" height="1" fill="#000"/>
<rect x="80" y="157" width="1" height="1" fill="#000"/>
<rect x="76" y="158" width="1" height="1" fill="#000"/>
<rect x="79" y="158" width="2" height="1" fill="#000"/>
<rect x="76" y="160" width="1" height="1" fill="#000"/>
<rect x="80" y="160" width="1" height="1" fill="#000"/>
<rect x="77" y="161" width="3" height="1" fill="#000"/>
<rect x="76" y="162" width="5" height="1" fill="#000"/>
<rect x="77" y="164" width="1" height="1" fill="#000"/>
<rect x="79" y="164" width="1" height="1" fill="#000"/>
<rect x="76" y="165" width="1" height="1" fill="#000"/>
<rect x="80" y="165" width="1" height="1" fill="#000"/>
<rect x="76" y="166" width="1" height="1" fill="#000"/>
<rect x="80" y="166" width="1" height="1" fill="#000"/>
<rect x="77" y="167" width="3" height="1" fill="#000"/>
<rect x="77" y="169" width="2" height="1" fill="#000"/>
<rect x="80" y="169" width="1" height="1" fill="#000"/>
<rect x="76" y="170" width="1" height="1" fill="#000"/>
<rect x="78" y="170" width="1" height="1" fill="#000"/>
<rect x="80" y="170" width="1" height="1" fill="#000"/>
<rect x="76" y="171" width="1" height="1" fill="#000"/>
<rect x="78" y="171" width="1" height="1" fill="#000"/>
<rect x="80" y="171" width="1" height="1" fill="#000"/>
<rect x="77" y="172" width="3" height="1" fill="#000"/>
<rect x="77" y="174" width="3" height="1" fill="#000"/>
<rect x="76" y="175" width="1" height="1" fill="#000"/>
<rect x="80" y="175" width="1" height="1" fill="#000"/>
<rect x="76" y="176" width="1" height="1" fill="#000"/>
<rect x="80" y="176" width="1" height="1" fill="#000"/>
<rect x="76" y="177" width="7" height="1" fill="#000"/>
<rect x="76" y="179" width="1" height="1" fill="#000"/>
<rect x="76" y="180" width="5" height="1" fill="#000"/>
<rect x="76" y="181" width="1" height="1" fill="#000"/>
<rect x="98" y="156" width="5" height="1" fill="#000"/>
<rect x="98" y="157" width="1" height="1" fill="#000"/>
<rect x="100" y="157" width="1" height="1" fill="#000"/>
<rect x="102" y="157" width="1" height="1" fill="#000"/>
<rect x="98" y="158" width="1" height="1" fill="#000"/>
<rect x="100" y="158" width="1" height="1" fill="#000"/>
<rect x="102" y="158" width="1" height="1" fill="#000"/>
<rect x="98" y="159" width="1" height="1" fill="#000"/>
<rect x="101" y="159" width="2" height="1" fill="#000"/>
<rect x="98" y="161" width="5" height="1" fill="#000"/>
<rect x="102" y="162" width="1" height="1" fill="#000"/>
<rect x="98" y="163" width="5" height="1" fill="#000"/>
<rect x="102" y="164" width="1" height="1" fill="#000"/>
<rect x="98" y="165" width="5" height="1" fill="#000"/>
<rect x="98" y="167" width="1" height="1" fill="#000"/>
<rect x="102" y="167" width="1" height="1" fill="#000"/>
<rect x="99" y="168" width="3" height="1" fill="#000"/>
<rect x="98" y="169" width="5" height="1" fill="#000"/>
<rect x="98" y="171" width="5" height="1" fill="#000"/>
<rect x="99" y="172" width="1" height="1" fill="#000"/>
<rect x="100" y="173" width="2" height="1" fill="#000"/>
<rect x="98" y="174" width="5" height="1" fill="#000"/>
<rect x="98" y="176" width="5" height="1" fill="#000"/>
<rect x="98" y="177" width="1" height="1" fill="#000"/>
<rect x="98" y="178" width="1" height="1" fill="#000"/>
<rect x="98" y="179" width="5" height="1" fill="#000"/>
<rect x="118" y="156" width="1" height="1" fill="#000"/>
<rect x="118" y="157" width="1" height="1" fill="#000"/>
<rect x="116" y="159" width="5" height="1" fill="#000"/>
<rect x="116" y="160" width="1" height="1" fill="#000"/>
<rect x="118" y="160" width="1" height="1" fill="#000"/>
<rect x="120" y="160" width="1" height="1" fill="#000"/>
<rect x="116" y="161" width="1" height="1" fill="#000"/>
<rect x="118" y="161" width="1" height="1" fill="#000"/>
<rect x="120" y="161" width="1" height="1" fill="#000"/>
<rect x="116" y="162" width="1" height="1" fill="#000"/>
<rect x="119" y="162" width="2" height="1" fill="#000"/>
<rect x="116" y="164" width="5" height="1" fill="#000"/>
<rect x="116" y="165" width="1" height="1" fill="#000"/>
<rect x="116" y="166" width="4" height="1" fill="#000"/>
<rect x="120" y="167" width="1" height="1" fill="#000"/>
<rect x="116" y="169" width="5" height="1" fill="#000"/>
<rect x="116" y="170" width="1" height="1" fill="#000"/>
<rect x="118" y="170" width="1" height="1" fill="#000"/>
<rect x="120" y="170" width="1" height="1" fill="#000"/>
<rect x="116" y="171" width="1" height="1" fill="#000"/>
<rect x="118" y="171" width="1" height="1" fill="#000"/>
<rect x="120" y="171" width="1" height="1" fill="#000"/>
<rect x="116" y="172" width="1" height="1" fill="#000"/>
<rect x="119" y="172" width="2" height="1" fill="#000"/>
<rect x="114" y="174" width="1" height="1" fill="#000"/>
<rect x="117" y="174" width="3" height="1" fill="#000"/>
<rect x="114" y="175" width="1" height="1" fill="#000"/>
<rect x="116" y="175" width="1" height="1" fill="#000"/>
<rect x="120" y="175" width="1" height="1" fill="#000"/>
<rect x="114" y="176" width="1" height="1" fill="#000"/>
<rect x="116" y="176" width="1" height="1" fill="#000"/>
<rect x="120" y="176" width="1" height="1" fill="#000"/>
<rect x="115" y="177" width="5" height="1" fill="#000"/>
<rect x="116" y="179" width="5" height="1" fill="#000"/>
<rect x="116" y="180" width="2" height="1" fill="#000"/>
<rect x="119" y="181" width="2" height="1" fill="#000"/>
<rect x="116" y="182" width="2" height="1" fill="#000"/>
<rect x="116" y="183" width="5" height="1" fill="#000"/>
<rect x="116" y="185" width="5" height="1" fill="#000"/>
<rect x="116" y="186" width="1" height="1" fill="#000"/>
<rect x="118" y="186" width="1" height="1" fill="#000"/>
<rect x="120" y="186" width="1" height="1" fill="#000"/>
<rect x="116" y="187" width="1" height="1" fill="#000"/>
<rect x="118" y="187" width="1" height="1" fill="#000"/>
<rect x="120" y="187" width="1" height="1" fill="#000"/>
<rect x="116" y="188" width="1" height="1" fill="#000"/>
<rect x="119" y="188" width="2" height="1" fill="#000"/>
<rect x="116" y="190" width="1" height="1" fill="#000"/>
<rect x="120" y="190" width="1" height="1" fill="#000"/>
<rect x="117" y="191" width="3" height="1" fill="#000"/>
<rect x="116" y="192" width="5" height="1" fill="#000"/>
<rect x="125" y="167" width="5" height="1" fill="#000"/>
<rect x="129" y="168" width="1" height="1" fill="#000"/>
<rect x="125" y="169" width="5" height="1" fill="#000"/>
<rect x="129" y="170" width="1" height="1" fill="#000"/>
<rect x="125" y="171" width="5" height="1" fill="#000"/>
<rect x="126" y="173" width="3" height="1" fill="#000"/>
<rect x="125" y="174" width="1" height="1" fill="#000"/>
<rect x="129" y="174" width="1" height="1" fill="#000"/>
<rect x="125" y="175" width="1" height="1" fill="#000"/>
<rect x="129" y="175" width="1" height="1" fill="#000"/>
<rect x="125" y="176" width="7" height="1" fill="#000"/>
<rect x="126" y="178" width="2" height="1" fill="#000"/>
<rect x="129" y="178" width="1" height="1" fill="#000"/>
<rect x="125" y="179" width="1" height="1" fill="#000"/>
<rect x="127" y="179" width="1" height="1" fill="#000"/>
<rect x="129" y="179" width="1" height="1" fill="#000"/>
<rect x="125" y="180" width="1" height="1" fill="#000"/>
<rect x="127" y="180" width="1" height="1" fill="#000"/>
<rect x="129" y="180" width="1" height="1" fill="#000"/>
<rect x="126" y="181" width="3" height="1" fill="#000"/>
<rect x="146" y="154" width="1" height="1" fill="#000"/>
<rect x="145" y="155" width="1" height="1" fill="#000"/>
<rect x="147" y="155" width="1" height="1" fill="#000"/>
<rect x="145" y="156" width="1" height="1" fill="#000"/>
<rect x="147" y="156" width="1" height="1" fill="#000"/>
<rect x="143" y="157" width="5" height="1" fill="#000"/>
<rect x="143" y="159" width="5" height="1" fill="#000"/>
<rect x="145" y="160" width="1" height="1" fill="#000"/>
<rect x="145" y="161" width="1" height="1" fill="#000"/>
<rect x="143" y="162" width="5" height="1" fill="#000"/>
<rect x="143" y="164" width="1" height="1" fill="#000"/>
<rect x="144" y="165" width="3" height="1" fill="#000"/>
<rect x="147" y="166" width="2" height="1" fill="#000"/>
<rect x="144" y="167" width="3" height="1" fill="#000"/>
<rect x="149" y="167" width="1" height="1" fill="#000"/>
<rect x="143" y="168" width="1" height="1" fill="#000"/>
<rect x="143" y="170" width="1" height="1" fill="#000"/>
<rect x="147" y="170" width="1" height="1" fill="#000"/>
<rect x="144" y="171" width="3" height="1" fill="#000"/>
<rect x="143" y="172" width="5" height="1" fill="#000"/>
<rect x="144" y="174" width="3" height="1" fill="#000"/>
<rect x="143" y="175" width="1" height="1" fill="#000"/>
<rect x="147" y="175" width="1" height="1" fill="#000"/>
<rect x="143" y="176" width="1" height="1" fill="#000"/>
<rect x="147" y="176" width="1" height="1" fill="#000"/>
<rect x="144" y="177" width="3" height="1" fill="#000"/>
<rect x="169" y="155" width="1" height="1" fill="#000"/>
<rect x="168" y="156" width="1" height="1" fill="#000"/>
<rect x="170" y="156" width="1" height="1" fill="#000"/>
<rect x="168" y="157" width="1" height="1" fill="#000"/>
<rect x="170" y="157" width="1" height="1" fill="#000"/>
<rect x="166" y="158" width="5" height="1" fill="#000"/>
<rect x="166" y="160" width="6" height="1" fill="#000"/>
<rect x="166" y="161" width="1" height="1" fill="#000"/>
<rect x="170" y="161" width="1" height="1" fill="#000"/>
<rect x="166" y="162" width="3" height="1" fill="#000"/>
<rect x="170" y="162" width="1" height="1" fill="#000"/>
<rect x="169" y="163" width="3" height="1" fill="#000"/>
<rect x="169" y="165" width="1" height="1" fill="#000"/>
<rect x="168" y="166" width="1" height="1" fill="#000"/>
<rect x="170" y="166" width="1" height="1" fill="#000"/>
<rect x="168" y="167" width="1" height="1" fill="#000"/>
<rect x="170" y="167" width="1" height="1" fill="#000"/>
<rect x="166" y="168" width="5" height="1" fill="#000"/>
<rect x="166" y="170" width="5" height="1" fill="#000"/>
<rect x="166" y="171" width="1" height="1" fill="#000"/>
<rect x="166" y="172" width="4" height="1" fill="#000"/>
<rect x="170" y="173" width="1" height="1" fill="#000"/>
<rect x="167" y="175" width="2" height="1" fill="#000"/>
<rect x="170" y="175" width="1" height="1" fill="#000"/>
<rect x="166" y="176" width="1" height="1" fill="#000"/>
<rect x="168" y="176" width="1" height="1" fill="#000"/>
<rect x="170" y="176" width="1" height="1" fill="#000"/>
<rect x="166" y="177" width="1" height="1" fill="#000"/>
<rect x="168" y="177" width="1" height="1" fill="#000"/>
<rect x="170" y="177" width="1" height="1" fill="#000"/>
<rect x="167" y="178" width="3" height="1" fill="#000"/>
<rect x="167" y="180" width="1" height="1" fill="#000"/>
<rect x="169" y="180" width="1" height="1" fill="#000"/>
<rect x="166" y="181" width="1" height="1" fill="#000"/>
<rect x="170" y="181" width="1" height="1" fill="#000"/>
<rect x="166" y="182" width="1" height="1" fill="#000"/>
<rect x="170" y="182" width="1" height="1" fill="#000"/>
<rect x="167" y="183" width="3" height="1" fill="#000"/>
<rect x="184" y="154" width="5" height="1" fill="#000"/>
<rect x="184" y="155" width="1" height="1" fill="#000"/>
<rect x="186" y="155" width="1" height="1" fill="#000"/>
<rect x="188" y="155" width="1" height="1" fill="#000"/>
<rect x="184" y="156" width="1" height="1" fill="#000"/>
<rect x="186" y="156" width="1" height="1" fill="#000"/>
<rect x="188" y="156" width="1" height="1" fill="#000"/>
<rect x="184" y="157" width="1" height="1" fill="#000"/>
<rect x="187" y="157" width="2" height="1" fill="#000"/>
<rect x="184" y="159" width="1" height="1" fill="#000"/>
<rect x="188" y="159" width="1" height="1" fill="#000"/>
<rect x="185" y="160" width="3" height="1" fill="#000"/>
<rect x="184" y="161" width="5" height="1" fill="#000"/>
<rect x="184" y="163" width="1" height="1" fill="#000"/>
<rect x="184" y="164" width="5" height="1" fill="#000"/>
<rect x="184" y="165" width="1" height="1" fill="#000"/>
<rect x="184" y="167" width="5" height="1" fill="#000"/>
<rect x="184" y="168" width="1" height="1" fill="#000"/>
<rect x="186" y="168" width="1" height="1" fill="#000"/>
<rect x="188" y="168" width="1" height="1" fill="#000"/>
<rect x="184" y="169" width="1" height="1" fill="#000"/>
<rect x="186" y="169" width="1" height="1" fill="#000"/>
<rect x="188" y="169" width="1" height="1" fill="#000"/>
<rect x="184" y="170" width="1" height="1" fill="#000"/>
<rect x="187" y="170" width="2" height="1" fill="#000"/>
<rect x="182" y="172" width="1" height="1" fill="#000"/>
<rect x="185" y="172" width="3" height="1" fill="#000"/>
<rect x="182" y="173" width="1" height="1" fill="#000"/>
<rect x="184" y="173" width="1" height="1" fill="#000"/>
<rect x="188" y="173" width="1" height="1" fill="#000"/>
<rect x="182" y="174" width="1" height="1" fill="#000"/>
<rect x="184" y="174" width="1" height="1" fill="#000"/>
<rect x="188" y="174" width="1" height="1" fill="#000"/>
<rect x="183" y="175" width="5" height="1" fill="#000"/>
<rect x="184" y="177" width="1" height="1" fill="#000"/>
<rect x="185" y="178" width="3" height="1" fill="#000"/>
<rect x="188" y="179" width="2" height="1" fill="#000"/>
<rect x="185" y="180" width="3" height="1" fill="#000"/>
<rect x="190" y="180" width="1" height="1" fill="#000"/>
<rect x="184" y="181" width="1" height="1" fill="#000"/>
<rect x="185" y="183" width="1" height="1" fill="#000"/>
<rect x="187" y="183" width="1" height="1" fill="#000"/>
<rect x="184" y="184" width="1" height="1" fill="#000"/>
<rect x="186" y="184" width="1" height="1" fill="#000"/>
<rect x="188" y="184" width="1" height="1" fill="#000"/>
<rect x="184" y="185" width="1" height="1" fill="#000"/>
<rect x="188" y="185" width="1" height="1" fill="#000"/>
<rect x="193" y="160" width="5" height="1" fill="#000"/>
<rect x="193" y="161" width="1" height="1" fill="#000"/>
<rect x="195" y="161" width="1" height="1" fill="#000"/>
<rect x="193" y="162" width="1" height="1" fill="#000"/>
<rect x="195" y="162" width="1" height="1" fill="#000"/>
<rect x="194" y="163" width="1" height="1" fill="#000"/>
<rect x="196" y="163" width="2" height="1" fill="#000"/>
<rect x="193" y="165" width="5" height="1" fill="#000"/>
<rect x="193" y="166" width="1" height="1" fill="#000"/>
<rect x="195" y="166" width="1" height="1" fill="#000"/>
<rect x="193" y="167" width="1" height="1" fill="#000"/>
<rect x="195" y="167" width="1" height="1" fill="#000"/>
<rect x="194" y="168" width="1" height="1" fill="#000"/>
<rect x="196" y="168" width="2" height="1" fill="#000"/>
<rect x="193" y="170" width="5" height="1" fill="#000"/>
<rect x="195" y="171" width="1" height="1" fill="#000"/>
<rect x="195" y="172" width="1" height="1" fill="#000"/>
<rect x="193" y="173" width="5" height="1" fill="#000"/>
<rect x="193" y="175" width="5" height="1" fill="#000"/>
<rect x="194" y="176" width="1" height="1" fill="#000"/>
<rect x="195" y="177" width="2" height="1" fill="#000"/>
<rect x="193" y="178" width="5" height="1" fill="#000"/>
<rect x="194" y="180" width="1" height="1" fill="#000"/>
<rect x="196" y="180" width="1" height="1" fill="#000"/>
<rect x="193" y="181" width="1" height="1" fill="#000"/>
<rect x="197" y="181" width="1" height="1" fill="#000"/>
<rect x="193" y="182" width="1" height="1" fill="#000"/>
<rect x="197" y="182" width="1" height="1" fill="#000"/>
<rect x="194" y="183" width="3" height="1" fill="#000"/>
<rect x="206" y="161" width="5" height="1" fill="#000"/>
<rect x="206" y="162" width="1" height="1" fill="#000"/>
<rect x="208" y="162" width="1" height="1" fill="#000"/>
<rect x="210" y="162" width="1" height="1" fill="#000"/>
<rect x="206" y="163" width="1" height="1" fill="#000"/>
<rect x="208" y="163" width="1" height="1" fill="#000"/>
<rect x="210" y="163" width="1" height="1" fill="#000"/>
<rect x="206" y="164" width="1" height="1" fill="#000"/>
<rect x="209" y="164" width="2" height="1" fill="#000"/>
<rect x="206" y="166" width="1" height="1" fill="#000"/>
<rect x="210" y="166" width="1" height="1" fill="#000"/>
<rect x="207" y="167" width="3" height="1" fill="#000"/>
<rect x="206" y="168" width="5" height="1" fill="#000"/>
<rect x="206" y="170" width="1" height="1" fill="#000"/>
<rect x="206" y="171" width="5" height="1" fill="#000"/>
<rect x="206" y="172" width="1" height="1" fill="#000"/>
<rect x="206" y="174" width="5" height="1" fill="#000"/>
<rect x="206" y="175" width="1" height="1" fill="#000"/>
<rect x="208" y="175" width="1" height="1" fill="#000"/>
<rect x="210" y="175" width="1" height="1" fill="#000"/>
<rect x="206" y="176" width="1" height="1" fill="#000"/>
<rect x="208" y="176" width="1" height="1" fill="#000"/>
<rect x="210" y="176" width="1" height="1" fill="#000"/>
<rect x="206" y="177" width="1" height="1" fill="#000"/>
<rect x="209" y="177" width="2" height="1" fill="#000"/>
<rect x="204" y="179" width="1" height="1" fill="#000"/>
<rect x="207" y="179" width="3" height="1" fill="#000"/>
<rect x="204" y="180" width="1" height="1" fill="#000"/>
<rect x="206" y="180" width="1" height="1" fill="#000"/>
<rect x="210" y="180" width="1" height="1" fill="#000"/>
<rect x="204" y="181" width="1" height="1" fill="#000"/>
<rect x="206" y="181" width="1" height="1" fill="#000"/>
<rect x="210" y="181" width="1" height="1" fill="#000"/>
<rect x="205" y="182" width="5" height="1" fill="#000"/>
<rect x="206" y="184" width="1" height="1" fill="#000"/>
<rect x="207" y="185" width="3" height="1" fill="#000"/>
<rect x="210" y="186" width="2" height="1" fill="#000"/>
<rect x="207" y="187" width="3" height="1" fill="#000"/>
<rect x="212" y="187" width="1" height="1" fill="#000"/>
<rect x="206" y="188" width="1" height="1" fill="#000"/>
<rect x="207" y="190" width="1" height="1" fill="#000"/>
<rect x="209" y="190" width="1" height="1" fill="#000"/>
<rect x="206" y="191" width="1" height="1" fill="#000"/>
<rect x="208" y="191" width="1" height="1" fill="#000"/>
<rect x="210" y="191" width="1" height="1" fill="#000"/>
<rect x="206" y="192" width="1" height="1" fill="#000"/>
<rect x="210" y="192" width="1" height="1" fill="#000"/>
<rect x="216" y="158" width="5" height="1" fill="#000"/>
<rect x="216" y="159" width="1" height="1" fill="#000"/>
<rect x="218" y="159" width="1" height="1" fill="#000"/>
<rect x="216" y="160" width="1" height="1" fill="#000"/>
<rect x="218" y="160" width="1" height="1" fill="#000"/>
<rect x="217" y="161" width="1" height="1" fill="#000"/>
<rect x="219" y="161" width="2" height="1" fill="#000"/>
<rect x="216" y="163" width="5" height="1" fill="#000"/>
<rect x="216" y="164" width="1" height="1" fill="#000"/>
<rect x="218" y="164" width="1" height="1" fill="#000"/>
<rect x="220" y="164" width="1" height="1" fill="#000"/>
<rect x="216" y="165" width="1" height="1" fill="#000"/>
<rect x="218" y="165" width="1" height="1" fill="#000"/>
<rect x="220" y="165" width="1" height="1" fill="#000"/>
<rect x="216" y="166" width="1" height="1" fill="#000"/>
<rect x="219" y="166" width="2" height="1" fill="#000"/>
<rect x="216" y="168" width="1" height="1" fill="#000"/>
<rect x="216" y="169" width="5" height="1" fill="#000"/>
<rect x="216" y="170" width="1" height="1" fill="#000"/>
<rect x="216" y="172" width="5" height="1" fill="#000"/>
<rect x="216" y="173" width="1" height="1" fill="#000"/>
<rect x="218" y="173" width="1" height="1" fill="#000"/>
<rect x="220" y="173" width="1" height="1" fill="#000"/>
<rect x="216" y="174" width="1" height="1" fill="#000"/>
<rect x="218" y="174" width="1" height="1" fill="#000"/>
<rect x="220" y="174" width="1" height="1" fill="#000"/>
<rect x="216" y="175" width="1" height="1" fill="#000"/>
<rect x="219" y="175" width="2" height="1" fill="#000"/>
<rect x="217" y="177" width="1" height="1" fill="#000"/>
<rect x="219" y="177" width="1" height="1" fill="#000"/>
<rect x="216" y="178" width="1" height="1" fill="#000"/>
<rect x="220" y="178" width="1" height="1" fill="#000"/>
<rect x="216" y="179" width="1" height="1" fill="#000"/>
<rect x="220" y="179" width="1" height="1" fill="#000"/>
<rect x="217" y="180" width="3" height="1" fill="#000"/>
<rect x="217" y="182" width="3" height="1" fill="#000"/>
<rect x="216" y="183" width="1" height="1" fill="#000"/>
<rect x="220" y="183" width="1" height="1" fill="#000"/>
<rect x="216" y="184" width="1" height="1" fill="#000"/>
<rect x="220" y="184" width="1" height="1" fill="#000"/>
<rect x="217" y="185" width="3" height="1" fill="#000"/>
<rect x="216" y="187" width="5" height="1" fill="#000"/>
<rect x="216" y="188" width="1" height="1" fill="#000"/>
<rect x="216" y="189" width="4" height="1" fill="#000"/>
<rect x="220" y="190" width="1" height="1" fill="#000"/>
<rect x="217" y="192" width="3" height="1" fill="#000"/>
<rect x="216" y="193" width="1" height="1" fill="#000"/>
<rect x="220" y="193" width="1" height="1" fill="#000"/>
<rect x="216" y="194" width="1" height="1" fill="#000"/>
<rect x="220" y="194" width="1" height="1" fill="#000"/>
<rect x="217" y="195" width="3" height="1" fill="#000"/>
<rect x="216" y="197" width="5" height="1" fill="#000"/>
<rect x="216" y="198" width="1" height="1" fill="#000"/>
<rect x="216" y="199" width="1" height="1" fill="#000"/>
<rect x="216" y="200" width="5" height="1" fill="#000"/>
<rect x="234" y="155" width="5" height="1" fill="#000"/>
<rect x="234" y="156" width="1" height="1" fill="#000"/>
<rect x="236" y="156" width="1" height="1" fill="#000"/>
<rect x="238" y="156" width="1" height="1" fill="#000"/>
<rect x="234" y="157" width="1" height="1" fill="#000"/>
<rect x="236" y="157" width="1" height="1" fill="#000"/>
<rect x="238" y="157" width="1" height="1" fill="#000"/>
<rect x="234" y="158" width="1" height="1" fill="#000"/>
<rect x="237" y="158" width="2" height="1" fill="#000"/>
<rect x="234" y="160" width="6" height="1" fill="#000"/>
<rect x="234" y="161" width="1" height="1" fill="#000"/>
<rect x="238" y="161" width="1" height="1" fill="#000"/>
<rect x="234" y="162" width="3" height="1" fill="#000"/>
<rect x="238" y="162" width="1" height="1" fill="#000"/>
<rect x="237" y="163" width="3" height="1" fill="#000"/>
<rect x="231" y="165" width="2" height="1" fill="#000"/>
<rect x="234" y="165" width="5" height="1" fill="#000"/>
<rect x="232" y="166" width="1" height="1" fill="#000"/>
<rect x="235" y="166" width="1" height="1" fill="#000"/>
<rect x="231" y="167" width="2" height="1" fill="#000"/>
<rect x="236" y="167" width="2" height="1" fill="#000"/>
<rect x="234" y="168" width="5" height="1" fill="#000"/>
<rect x="234" y="170" width="5" height="1" fill="#000"/>
<rect x="234" y="171" width="1" height="1" fill="#000"/>
<rect x="236" y="171" width="1" height="1" fill="#000"/>
<rect x="238" y="171" width="1" height="1" fill="#000"/>
<rect x="234" y="172" width="1" height="1" fill="#000"/>
<rect x="236" y="172" width="1" height="1" fill="#000"/>
<rect x="238" y="172" width="1" height="1" fill="#000"/>
<rect x="234" y="173" width="1" height="1" fill="#000"/>
<rect x="237" y="173" width="2" height="1" fill="#000"/>
<rect x="235" y="175" width="1" height="1" fill="#000"/>
<rect x="237" y="175" width="1" height="1" fill="#000"/>
<rect x="234" y="176" width="1" height="1" fill="#000"/>
<rect x="238" y="176" width="1" height="1" fill="#000"/>
<rect x="234" y="177" width="1" height="1" fill="#000"/>
<rect x="238" y="177" width="1" height="1" fill="#000"/>
<rect x="235" y="178" width="3" height="1" fill="#000"/>
<rect x="391" y="161" width="5" height="1" fill="#000"/>
<rect x="391" y="162" width="1" height="1" fill="#000"/>
<rect x="393" y="162" width="1" height="1" fill="#000"/>
<rect x="395" y="162" width="1" height="1" fill="#000"/>
<rect x="391" y="163" width="1" height="1" fill="#000"/>
<rect x="393" y="163" width="1" height="1" fill="#000"/>
<rect x="395" y="163" width="1" height="1" fill="#000"/>
<rect x="391" y="164" width="1" height="1" fill="#000"/>
<rect x="394" y="164" width="2" height="1" fill="#000"/>
<rect x="391" y="166" width="1" height="1" fill="#000"/>
<rect x="395" y="166" width="1" height="1" fill="#000"/>
<rect x="392" y="167" width="3" height="1" fill="#000"/>
<rect x="391" y="168" width="5" height="1" fill="#000"/>
<rect x="392" y="170" width="1" height="1" fill="#000"/>
<rect x="394" y="170" width="1" height="1" fill="#000"/>
<rect x="391" y="171" width="1" height="1" fill="#000"/>
<rect x="395" y="171" width="1" height="1" fill="#000"/>
<rect x="391" y="172" width="1" height="1" fill="#000"/>
<rect x="395" y="172" width="1" height="1" fill="#000"/>
<rect x="392" y="173" width="3" height="1" fill="#000"/>
<rect x="392" y="176" width="2" height="1" fill="#000"/>
<rect x="395" y="176" width="1" height="1" fill="#000"/>
<rect x="391" y="177" width="1" height="1" fill="#000"/>
<rect x="393" y="177" width="1" height="1" fill="#000"/>
<rect x="395" y="177" width="1" height="1" fill="#000"/>
<rect x="391" y="178" width="1" height="1" fill="#000"/>
<rect x="393" y="178" width="1" height="1" fill="#000"/>
<rect x="395" y="178" width="1" height="1" fill="#000"/>
<rect x="392" y="179" width="3" height="1" fill="#000"/>
<rect x="392" y="181" width="3" height="1" fill="#000"/>
<rect x="391" y="182" width="1" height="1" fill="#000"/>
<rect x="395" y="182" width="1" height="1" fill="#000"/>
<rect x="391" y="183" width="1" height="1" fill="#000"/>
<rect x="395" y="183" width="1" height="1" fill="#000"/>
<rect x="391" y="184" width="7" height="1" fill="#000"/>
<rect x="391" y="186" width="1" height="1" fill="#000"/>
<rect x="391" y="187" width="5" height="1" fill="#000"/>
<rect x="391" y="188" width="1" height="1" fill="#000"/>
<rect x="414" y="161" width="5" height="1" fill="#000"/>
<rect x="414" y="162" width="1" height="1" fill="#000"/>
<rect x="416" y="162" width="1" height="1" fill="#000"/>
<rect x="418" y="162" width="1" height="1" fill="#000"/>
<rect x="414" y="163" width="1" height="1" fill="#000"/>
<rect x="416" y="163" width="1" height="1" fill="#000"/>
<rect x="418" y="163" width="1" height="1" fill="#000"/>
<rect x="414" y="164" width="1" height="1" fill="#000"/>
<rect x="417" y="164" width="2" height="1" fill="#000"/>
<rect x="414" y="166" width="5" height="1" fill="#000"/>
<rect x="418" y="167" width="1" height="1" fill="#000"/>
<rect x="414" y="168" width="5" height="1" fill="#000"/>
<rect x="418" y="169" width="1" height="1" fill="#000"/>
<rect x="414" y="170" width="5" height="1" fill="#000"/>
<rect x="414" y="172" width="1" height="1" fill="#000"/>
<rect x="418" y="172" width="1" height="1" fill="#000"/>
<rect x="415" y="173" width="3" height="1" fill="#000"/>
<rect x="414" y="174" width="5" height="1" fill="#000"/>
<rect x="414" y="177" width="5" height="1" fill="#000"/>
<rect x="415" y="178" width="1" height="1" fill="#000"/>
<rect x="416" y="179" width="2" height="1" fill="#000"/>
<rect x="414" y="180" width="5" height="1" fill="#000"/>
<rect x="414" y="182" width="5" height="1" fill="#000"/>
<rect x="414" y="183" width="1" height="1" fill="#000"/>
<rect x="414" y="184" width="1" height="1" fill="#000"/>
<rect x="414" y="185" width="5" height="1" fill="#000"/>
<rect x="435" y="158" width="1" height="1" fill="#000"/>
<rect x="435" y="159" width="1" height="1" fill="#000"/>
<rect x="433" y="162" width="5" height="1" fill="#000"/>
<rect x="433" y="163" width="1" height="1" fill="#000"/>
<rect x="435" y="163" width="1" height="1" fill="#000"/>
<rect x="437" y="163" width="1" height="1" fill="#000"/>
<rect x="433" y="164" width="1" height="1" fill="#000"/>
<rect x="435" y="164" width="1" height="1" fill="#000"/>
<rect x="437" y="164" width="1" height="1" fill="#000"/>
<rect x="433" y="165" width="1" height="1" fill="#000"/>
<rect x="436" y="165" width="2" height="1" fill="#000"/>
<rect x="433" y="167" width="5" height="1" fill="#000"/>
<rect x="433" y="168" width="1" height="1" fill="#000"/>
<rect x="433" y="169" width="4" height="1" fill="#000"/>
<rect x="437" y="170" width="1" height="1" fill="#000"/>
<rect x="433" y="173" width="5" height="1" fill="#000"/>
<rect x="433" y="174" width="1" height="1" fill="#000"/>
<rect x="435" y="174" width="1" height="1" fill="#000"/>
<rect x="437" y="174" width="1" height="1" fill="#000"/>
<rect x="433" y="175" width="1" height="1" fill="#000"/>
<rect x="435" y="175" width="1" height="1" fill="#000"/>
<rect x="437" y="175" width="1" height="1" fill="#000"/>
<rect x="433" y="176" width="1" height="1" fill="#000"/>
<rect x="436" y="176" width="2" height="1" fill="#000"/>
<rect x="431" y="178" width="1" height="1" fill="#000"/>
<rect x="434" y="178" width="3" height="1" fill="#000"/>
<rect x="431" y="179" width="1" height="1" fill="#000"/>
<rect x="433" y="179" width="1" height="1" fill="#000"/>
<rect x="437" y="179" width="1" height="1" fill="#000"/>
<rect x="431" y="180" width="1" height="1" fill="#000"/>
<rect x="433" y="180" width="1" height="1" fill="#000"/>
<rect x="437" y="180" width="1" height="1" fill="#000"/>
<rect x="432" y="181" width="5" height="1" fill="#000"/>
<rect x="433" y="184" width="5" height="1" fill="#000"/>
<rect x="433" y="185" width="2" height="1" fill="#000"/>
<rect x="436" y="186" width="2" height="1" fill="#000"/>
<rect x="433" y="187" width="2" height="1" fill="#000"/>
<rect x="433" y="188" width="5" height="1" fill="#000"/>
<rect x="433" y="190" width="5" height="1" fill="#000"/>
<rect x="433" y="191" width="1" height="1" fill="#000"/>
<rect x="435" y="191" width="1" height="1" fill="#000"/>
<rect x="437" y="191" width="1" height="1" fill="#000"/>
<rect x="433" y="192" width="1" height="1" fill="#000"/>
<rect x="435" y="192" width="1" height="1" fill="#000"/>
<rect x="437" y="192" width="1" height="1" fill="#000"/>
<rect x="433" y="193" width="1" height="1" fill="#000"/>
<rect x="436" y="193" width="2" height="1" fill="#000"/>
<rect x="433" y="196" width="1" height="1" fill="#000"/>
<rect x="437" y="196" width="1" height="1" fill="#000"/>
<rect x="434" y="197" width="3" height="1" fill="#000"/>
<rect x="433" y="198" width="5" height="1" fill="#000"/>
<rect x="439" y="167" width="5" height="1" fill="#000"/>
<rect x="443" y="168" width="1" height="1" fill="#000"/>
<rect x="439" y="169" width="5" height="1" fill="#000"/>
<rect x="443" y="170" width="1" height="1" fill="#000"/>
<rect x="439" y="171" width="5" height="1" fill="#000"/>
<rect x="440" y="173" width="3" height="1" fill="#000"/>
<rect x="439" y="174" width="1" height="1" fill="#000"/>
<rect x="443" y="174" width="1" height="1" fill="#000"/>
<rect x="439" y="175" width="1" height="1" fill="#000"/>
<rect x="443" y="175" width="1" height="1" fill="#000"/>
<rect x="439" y="176" width="7" height="1" fill="#000"/>
<rect x="440" y="179" width="2" height="1" fill="#000"/>
<rect x="443" y="179" width="1" height="1" fill="#000"/>
<rect x="439" y="180" width="1" height="1" fill="#000"/>
<rect x="441" y="180" width="1" height="1" fill="#000"/>
<rect x="443" y="180" width="1" height="1" fill="#000"/>
<rect x="439" y="181" width="1" height="1" fill="#000"/>
<rect x="441" y="181" width="1" height="1" fill="#000"/>
<rect x="443" y="181" width="1" height="1" fill="#000"/>
<rect x="440" y="182" width="3" height="1" fill="#000"/>
<rect x="462" y="162" width="1" height="1" fill="#000"/>
<rect x="461" y="163" width="1" height="1" fill="#000"/>
<rect x="463" y="163" width="1" height="1" fill="#000"/>
<rect x="461" y="164" width="1" height="1" fill="#000"/>
<rect x="463" y="164" width="1" height="1" fill="#000"/>
<rect x="459" y="165" width="5" height="1" fill="#000"/>
<rect x="459" y="167" width="5" height="1" fill="#000"/>
<rect x="461" y="168" width="1" height="1" fill="#000"/>
<rect x="461" y="169" width="1" height="1" fill="#000"/>
<rect x="459" y="170" width="5" height="1" fill="#000"/>
<rect x="459" y="172" width="1" height="1" fill="#000"/>
<rect x="460" y="173" width="3" height="1" fill="#000"/>
<rect x="463" y="174" width="2" height="1" fill="#000"/>
<rect x="460" y="175" width="3" height="1" fill="#000"/>
<rect x="465" y="175" width="1" height="1" fill="#000"/>
<rect x="459" y="176" width="1" height="1" fill="#000"/>
<rect x="459" y="178" width="1" height="1" fill="#000"/>
<rect x="463" y="178" width="1" height="1" fill="#000"/>
<rect x="460" y="179" width="3" height="1" fill="#000"/>
<rect x="459" y="180" width="5" height="1" fill="#000"/>
<rect x="460" y="182" width="3" height="1" fill="#000"/>
<rect x="459" y="183" width="1" height="1" fill="#000"/>
<rect x="463" y="183" width="1" height="1" fill="#000"/>
<rect x="459" y="184" width="1" height="1" fill="#000"/>
<rect x="463" y="184" width="1" height="1" fill="#000"/>
<rect x="460" y="185" width="3" height="1" fill="#000"/>
<rect x="486" y="160" width="1" height="1" fill="#000"/>
<rect x="485" y="161" width="1" height="1" fill="#000"/>
<rect x="487" y="161" width="1" height="1" fill="#000"/>
<rect x="485" y="162" width="1" height="1" fill="#000"/>
<rect x="487" y="162" width="1" height="1" fill="#000"/>
<rect x="483" y="163" width="5" height="1" fill="#000"/>
<rect x="483" y="165" width="6" height="1" fill="#000"/>
<rect x="483" y="166" width="1" height="1" fill="#000"/>
<rect x="487" y="166" width="1" height="1" fill="#000"/>
<rect x="483" y="167" width="3" height="1" fill="#000"/>
<rect x="487" y="167" width="1" height="1" fill="#000"/>
<rect x="486" y="168" width="3" height="1" fill="#000"/>
<rect x="486" y="170" width="1" height="1" fill="#000"/>
<rect x="485" y="171" width="1" height="1" fill="#000"/>
<rect x="487" y="171" width="1" height="1" fill="#000"/>
<rect x="485" y="172" width="1" height="1" fill="#000"/>
<rect x="487" y="172" width="1" height="1" fill="#000"/>
<rect x="483" y="173" width="5" height="1" fill="#000"/>
<rect x="483" y="176" width="5" height="1" fill="#000"/>
<rect x="483" y="177" width="1" height="1" fill="#000"/>
<rect x="483" y="178" width="4" height="1" fill="#000"/>
<rect x="487" y="179" width="1" height="1" fill="#000"/>
<rect x="484" y="181" width="2" height="1" fill="#000"/>
<rect x="487" y="181" width="1" height="1" fill="#000"/>
<rect x="483" y="182" width="1" height="1" fill="#000"/>
<rect x="485" y="182" width="1" height="1" fill="#000"/>
<rect x="487" y="182" width="1" height="1" fill="#000"/>
<rect x="483" y="183" width="1" height="1" fill="#000"/>
<rect x="485" y="183" width="1" height="1" fill="#000"/>
<rect x="487" y="183" width="1" height="1" fill="#000"/>
<rect x="484" y="184" width="3" height="1" fill="#000"/>
<rect x="484" y="186" width="1" height="1" fill="#000"/>
<rect x="486" y="186" width="1" height="1" fill="#000"/>
<rect x="483" y="187" width="1" height="1" fill="#000"/>
<rect x="487" y="187" width="1" height="1" fill="#000"/>
<rect x="483" y="188" width="1" height="1" fill="#000"/>
<rect x="487" y="188" width="1" height="1" fill="#000"/>
<rect x="484" y="189" width="3" height="1" fill="#000"/>
<rect x="502" y="166" width="5" height="1" fill="#000"/>
<rect x="502" y="167" width="1" height="1" fill="#000"/>
<rect x="504" y="167" width="1" height="1" fill="#000"/>
<rect x="506" y="167" width="1" height="1" fill="#000"/>
<rect x="502" y="168" width="1" height="1" fill="#000"/>
<rect x="504" y="168" width="1" height="1" fill="#000"/>
<rect x="506" y="168" width="1" height="1" fill="#000"/>
<rect x="502" y="169" width="1" height="1" fill="#000"/>
<rect x="505" y="169" width="2" height="1" fill="#000"/>
<rect x="502" y="171" width="1" height="1" fill="#000"/>
<rect x="506" y="171" width="1" height="1" fill="#000"/>
<rect x="503" y="172" width="3" height="1" fill="#000"/>
<rect x="502" y="173" width="5" height="1" fill="#000"/>
<rect x="502" y="175" width="1" height="1" fill="#000"/>
<rect x="502" y="176" width="5" height="1" fill="#000"/>
<rect x="502" y="177" width="1" height="1" fill="#000"/>
<rect x="502" y="179" width="5" height="1" fill="#000"/>
<rect x="502" y="180" width="1" height="1" fill="#000"/>
<rect x="504" y="180" width="1" height="1" fill="#000"/>
<rect x="506" y="180" width="1" height="1" fill="#000"/>
<rect x="502" y="181" width="1" height="1" fill="#000"/>
<rect x="504" y="181" width="1" height="1" fill="#000"/>
<rect x="506" y="181" width="1" height="1" fill="#000"/>
<rect x="502" y="182" width="1" height="1" fill="#000"/>
<rect x="505" y="182" width="2" height="1" fill="#000"/>
<rect x="500" y="185" width="1" height="1" fill="#000"/>
<rect x="503" y="185" width="3" height="1" fill="#000"/>
<rect x="500" y="186" width="1" height="1" fill="#000"/>
<rect x="502" y="186" width="1" height="1" fill="#000"/>
<rect x="506" y="186" width="1" height="1" fill="#000"/>
<rect x="500" y="187" width="1" height="1" fill="#000"/>
<rect x="502" y="187" width="1" height="1" fill="#000"/>
<rect x="506" y="187" width="1" height="1" fill="#000"/>
<rect x="501" y="188" width="5" height="1" fill="#000"/>
<rect x="502" y="190" width="1" height="1" fill="#000"/>
<rect x="503" y="191" width="3" height="1" fill="#000"/>
<rect x="506" y="192" width="2" height="1" fill="#000"/>
<rect x="503" y="193" width="3" height="1" fill="#000"/>
<rect x="508" y="193" width="1" height="1" fill="#000"/>
<rect x="502" y="194" width="1" height="1" fill="#000"/>
<rect x="503" y="196" width="1" height="1" fill="#000"/>
<rect x="505" y="196" width="1" height="1" fill="#000"/>
<rect x="502" y="197" width="1" height="1" fill="#000"/>
<rect x="504" y="197" width="1" height="1" fill="#000"/>
<rect x="506" y="197" width="1" height="1" fill="#000"/>
<rect x="502" y="198" width="1" height="1" fill="#000"/>
<rect x="506" y="198" width="1" height="1" fill="#000"/>
<rect x="509" y="164" width="5" height="1" fill="#000"/>
<rect x="509" y="165" width="1" height="1" fill="#000"/>
<rect x="511" y="165" width="1" height="1" fill="#000"/>
<rect x="509" y="166" width="1" height="1" fill="#000"/>
<rect x="511" y="166" width="1" height="1" fill="#000"/>
<rect x="510" y="167" width="1" height="1" fill="#000"/>
<rect x="512" y="167" width="2" height="1" fill="#000"/>
<rect x="509" y="169" width="5" height="1" fill="#000"/>
<rect x="509" y="170" width="1" height="1" fill="#000"/>
<rect x="511" y="170" width="1" height="1" fill="#000"/>
<rect x="509" y="171" width="1" height="1" fill="#000"/>
<rect x="511" y="171" width="1" height="1" fill="#000"/>
<rect x="510" y="172" width="1" height="1" fill="#000"/>
<rect x="512" y="172" width="2" height="1" fill="#000"/>
<rect x="509" y="175" width="5" height="1" fill="#000"/>
<rect x="511" y="176" width="1" height="1" fill="#000"/>
<rect x="511" y="177" width="1" height="1" fill="#000"/>
<rect x="509" y="178" width="5" height="1" fill="#000"/>
<rect x="509" y="180" width="5" height="1" fill="#000"/>
<rect x="510" y="181" width="1" height="1" fill="#000"/>
<rect x="511" y="182" width="2" height="1" fill="#000"/>
<rect x="509" y="183" width="5" height="1" fill="#000"/>
<rect x="510" y="186" width="1" height="1" fill="#000"/>
<rect x="512" y="186" width="1" height="1" fill="#000"/>
<rect x="509" y="187" width="1" height="1" fill="#000"/>
<rect x="513" y="187" width="1" height="1" fill="#000"/>
<rect x="509" y="188" width="1" height="1" fill="#000"/>
<rect x="513" y="188" width="1" height="1" fill="#000"/>
<rect x="510" y="189" width="3" height="1" fill="#000"/>
<rect x="525" y="166" width="5" height="1" fill="#000"/>
<rect x="525" y="167" width="1" height="1" fill="#000"/>
<rect x="527" y="167" width="1" height="1" fill="#000"/>
<rect x="529" y="167" width="1" height="1" fill="#000"/>
<rect x="525" y="168" width="1" height="1" fill="#000"/>
<rect x="527" y="168" width="1" height="1" fill="#000"/>
<rect x="529" y="168" width="1" height="1" fill="#000"/>
<rect x="525" y="169" width="1" height="1" fill="#000"/>
<rect x="528" y="169" width="2" height="1" fill="#000"/>
<rect x="525" y="171" width="1" height="1" fill="#000"/>
<rect x="529" y="171" width="1" height="1" fill="#000"/>
<rect x="526" y="172" width="3" height="1" fill="#000"/>
<rect x="525" y="173" width="5" height="1" fill="#000"/>
<rect x="525" y="175" width="1" height="1" fill="#000"/>
<rect x="525" y="176" width="5" height="1" fill="#000"/>
<rect x="525" y="177" width="1" height="1" fill="#000"/>
<rect x="525" y="179" width="5" height="1" fill="#000"/>
<rect x="525" y="180" width="1" height="1" fill="#000"/>
<rect x="527" y="180" width="1" height="1" fill="#000"/>
<rect x="529" y="180" width="1" height="1" fill="#000"/>
<rect x="525" y="181" width="1" height="1" fill="#000"/>
<rect x="527" y="181" width="1" height="1" fill="#000"/>
<rect x="529" y="181" width="1" height="1" fill="#000"/>
<rect x="525" y="182" width="1" height="1" fill="#000"/>
<rect x="528" y="182" width="2" height="1" fill="#000"/>
<rect x="523" y="185" width="1" height="1" fill="#000"/>
<rect x="526" y="185" width="3" height="1" fill="#000"/>
<rect x="523" y="186" width="1" height="1" fill="#000"/>
<rect x="525" y="186" width="1" height="1" fill="#000"/>
<rect x="529" y="186" width="1" height="1" fill="#000"/>
<rect x="523" y="187" width="1" height="1" fill="#000"/>
<rect x="525" y="187" width="1" height="1" fill="#000"/>
<rect x="529" y="187" width="1" height="1" fill="#000"/>
<rect x="524" y="188" width="5" height="1" fill="#000"/>
<rect x="525" y="190" width="1" height="1" fill="#000"/>
<rect x="526" y="191" width="3" height="1" fill="#000"/>
<rect x="529" y="192" width="2" height="1" fill="#000"/>
<rect x="526" y="193" width="3" height="1" fill="#000"/>
<rect x="531" y="193" width="1" height="1" fill="#000"/>
<rect x="525" y="194" width="1" height="1" fill="#000"/>
<rect x="526" y="196" width="1" height="1" fill="#000"/>
<rect x="528" y="196" width="1" height="1" fill="#000"/>
<rect x="525" y="197" width="1" height="1" fill="#000"/>
<rect x="527" y="197" width="1" height="1" fill="#000"/>
<rect x="529" y="197" width="1" height="1" fill="#000"/>
<rect x="525" y="198" width="1" height="1" fill="#000"/>
<rect x="529" y="198" width="1" height="1" fill="#000"/>
<rect x="531" y="155" width="5" height="1" fill="#000"/>
<rect x="531" y="156" width="1" height="1" fill="#000"/>
<rect x="533" y="156" width="1" height="1" fill="#000"/>
<rect x="531" y="157" width="1" height="1" fill="#000"/>
<rect x="533" y="157" width="1" height="1" fill="#000"/>
<rect x="532" y="158" width="1" height="1" fill="#000"/>
<rect x="534" y="158" width="2" height="1" fill="#000"/>
<rect x="531" y="160" width="5" height="1" fill="#000"/>
<rect x="531" y="161" width="1" height="1" fill="#000"/>
<rect x="533" y="161" width="1" height="1" fill="#000"/>
<rect x="535" y="161" width="1" height="1" fill="#000"/>
<rect x="531" y="162" width="1" height="1" fill="#000"/>
<rect x="533" y="162" width="1" height="1" fill="#000"/>
<rect x="535" y="162" width="1" height="1" fill="#000"/>
<rect x="531" y="163" width="1" height="1" fill="#000"/>
<rect x="534" y="163" width="2" height="1" fill="#000"/>
<rect x="531" y="165" width="1" height="1" fill="#000"/>
<rect x="531" y="166" width="5" height="1" fill="#000"/>
<rect x="531" y="167" width="1" height="1" fill="#000"/>
<rect x="531" y="170" width="5" height="1" fill="#000"/>
<rect x="531" y="171" width="1" height="1" fill="#000"/>
<rect x="533" y="171" width="1" height="1" fill="#000"/>
<rect x="535" y="171" width="1" height="1" fill="#000"/>
<rect x="531" y="172" width="1" height="1" fill="#000"/>
<rect x="533" y="172" width="1" height="1" fill="#000"/>
<rect x="535" y="172" width="1" height="1" fill="#000"/>
<rect x="531" y="173" width="1" height="1" fill="#000"/>
<rect x="534" y="173" width="2" height="1" fill="#000"/>
<rect x="532" y="175" width="1" height="1" fill="#000"/>
<rect x="534" y="175" width="1" height="1" fill="#000"/>
<rect x="531" y="176" width="1" height="1" fill="#000"/>
<rect x="535" y="176" width="1" height="1" fill="#000"/>
<rect x="531" y="177" width="1" height="1" fill="#000"/>
<rect x="535" y="177" width="1" height="1" fill="#000"/>
<rect x="532" y="178" width="3" height="1" fill="#000"/>
<rect x="532" y="180" width="3" height="1" fill="#000"/>
<rect x="531" y="181" width="1" height="1" fill="#000"/>
<rect x="535" y="181" width="1" height="1" fill="#000"/>
<rect x="531" y="182" width="1" height="1" fill="#000"/>
<rect x="535" y="182" width="1" height="1" fill="#000"/>
<rect x="532" y="183" width="3" height="1" fill="#000"/>
<rect x="531" y="185" width="5" height="1" fill="#000"/>
<rect x="531" y="186" width="1" height="1" fill="#000"/>
<rect x="531" y="187" width="4" height="1" fill="#000"/>
<rect x="535" y="188" width="1" height="1" fill="#000"/>
<rect x="532" y="191" width="3" height="1" fill="#000"/>
<rect x="531" y="192" width="1" height="1" fill="#000"/>
<rect x="535" y="192" width="1" height="1" fill="#000"/>
<rect x="531" y="193" width="1" height="1" fill="#000"/>
<rect x="535" y="193" width="1" height="1" fill="#000"/>
<rect x="532" y="194" width="3" height="1" fill="#000"/>
<rect x="531" y="196" width="5" height="1" fill="#000"/>
<rect x="531" y="197" width="1" height="1" fill="#000"/>
<rect x="531" y="198" width="1" height="1" fill="#000"/>
<rect x="531" y="199" width="5" height="1" fill="#000"/>
<rect x="552" y="162" width="5" height="1" fill="#000"/>
<rect x="552" y="163" width="1" height="1" fill="#000"/>
<rect x="554" y="163" width="1" height="1" fill="#000"/>
<rect x="556" y="163" width="1" height="1" fill="#000"/>
<rect x="552" y="164" width="1" height="1" fill="#000"/>
<rect x="554" y="164" width="1" height="1" fill="#000"/>
<rect x="556" y="164" width="1" height="1" fill="#000"/>
<rect x="552" y="165" width="1" height="1" fill="#000"/>
<rect x="555" y="165" width="2" height="1" fill="#000"/>
<rect x="552" y="167" width="6" height="1" fill="#000"/>
<rect x="552" y="168" width="1" height="1" fill="#000"/>
<rect x="556" y="168" width="1" height="1" fill="#000"/>
<rect x="552" y="169" width="3" height="1" fill="#000"/>
<rect x="556" y="169" width="1" height="1" fill="#000"/>
<rect x="555" y="170" width="3" height="1" fill="#000"/>
<rect x="549" y="173" width="2" height="1" fill="#000"/>
<rect x="552" y="173" width="5" height="1" fill="#000"/>
<rect x="550" y="174" width="1" height="1" fill="#000"/>
<rect x="553" y="174" width="1" height="1" fill="#000"/>
<rect x="549" y="175" width="2" height="1" fill="#000"/>
<rect x="554" y="175" width="2" height="1" fill="#000"/>
<rect x="552" y="176" width="5" height="1" fill="#000"/>
<rect x="552" y="178" width="5" height="1" fill="#000"/>
<rect x="552" y="179" width="1" height="1" fill="#000"/>
<rect x="554" y="179" width="1" height="1" fill="#000"/>
<rect x="556" y="179" width="1" height="1" fill="#000"/>
<rect x="552" y="180" width="1" height="1" fill="#000"/>
<rect x="554" y="180" width="1" height="1" fill="#000"/>
<rect x="556" y="180" width="1" height="1" fill="#000"/>
<rect x="552" y="181" width="1" height="1" fill="#000"/>
<rect x="555" y="181" width="2" height="1" fill="#000"/>
<rect x="553" y="184" width="1" height="1" fill="#000"/>
<rect x="555" y="184" width="1" height="1" fill="#000"/>
<rect x="552" y="185" width="1" height="1" fill="#000"/>
<rect x="556" y="185" width="1" height="1" fill="#000"/>
<rect x="552" y="186" width="1" height="1" fill="#000"/>
<rect x="556" y="186" width="1" height="1" fill="#000"/>
<rect x="553" y="187" width="3" height="1" fill="#000"/>
<rect x="82" y="369" width="5" height="1" fill="#000"/>
<rect x="82" y="370" width="1" height="1" fill="#000"/>
<rect x="84" y="370" width="1" height="1" fill="#000"/>
<rect x="86" y="370" width="1" height="1" fill="#000"/>
<rect x="82" y="371" width="1" height="1" fill="#000"/>
<rect x="84" y="371" width="1" height="1" fill="#000"/>
<rect x="86" y="371" width="1" height="1" fill="#000"/>
<rect x="82" y="372" width="1" height="1" fill="#000"/>
<rect x="85" y="372" width="2" height="1" fill="#000"/>
<rect x="82" y="374" width="1" height="1" fill="#000"/>
<rect x="86" y="374" width="1" height="1" fill="#000"/>
<rect x="83" y="375" width="3" height="1" fill="#000"/>
<rect x="82" y="376" width="5" height="1" fill="#000"/>
<rect x="83" y="378" width="1" height="1" fill="#000"/>
<rect x="85" y="378" width="1" height="1" fill="#000"/>
<rect x="82" y="379" width="1" height="1" fill="#000"/>
<rect x="86" y="379" width="1" height="1" fill="#000"/>
<rect x="82" y="380" width="1" height="1" fill="#000"/>
<rect x="86" y="380" width="1" height="1" fill="#000"/>
<rect x="83" y="381" width="3" height="1" fill="#000"/>
<rect x="83" y="383" width="2" height="1" fill="#000"/>
<rect x="86" y="383" width="1" height="1" fill="#000"/>
<rect x="82" y="384" width="1" height="1" fill="#000"/>
<rect x="84" y="384" width="1" height="1" fill="#000"/>
<rect x="86" y="384" width="1" height="1" fill="#000"/>
<rect x="82" y="385" width="1" height="1" fill="#000"/>
<rect x="84" y="385" width="1" height="1" fill="#000"/>
<rect x="86" y="385" width="1" height="1" fill="#000"/>
<rect x="83" y="386" width="3" height="1" fill="#000"/>
<rect x="83" y="388" width="3" height="1" fill="#000"/>
<rect x="82" y="389" width="1" height="1" fill="#000"/>
<rect x="86" y="389" width="1" height="1" fill="#000"/>
<rect x="82" y="390" width="1" height="1" fill="#000"/>
<rect x="86" y="390" width="1" height="1" fill="#000"/>
<rect x="82" y="391" width="7" height="1" fill="#000"/>
<rect x="82" y="393" width="1" height="1" fill="#000"/>
<rect x="82" y="394" width="5" height="1" fill="#000"/>
<rect x="82" y="395" width="1" height="1" fill="#000"/>
<rect x="104" y="371" width="5" height="1" fill="#000"/>
<rect x="104" y="372" width="1" height="1" fill="#000"/>
<rect x="106" y="372" width="1" height="1" fill="#000"/>
<rect x="108" y="372" width="1" height="1" fill="#000"/>
<rect x="104" y="373" width="1" height="1" fill="#000"/>
<rect x="106" y="373" width="1" height="1" fill="#000"/>
<rect x="108" y="373" width="1" height="1" fill="#000"/>
<rect x="104" y="374" width="1" height="1" fill="#000"/>
<rect x="107" y="374" width="2" height="1" fill="#000"/>
<rect x="104" y="376" width="5" height="1" fill="#000"/>
<rect x="108" y="377" width="1" height="1" fill="#000"/>
<rect x="104" y="378" width="5" height="1" fill="#000"/>
<rect x="108" y="379" width="1" height="1" fill="#000"/>
<rect x="104" y="380" width="5" height="1" fill="#000"/>
<rect x="104" y="382" width="1" height="1" fill="#000"/>
<rect x="108" y="382" width="1" height="1" fill="#000"/>
<rect x="105" y="383" width="3" height="1" fill="#000"/>
<rect x="104" y="384" width="5" height="1" fill="#000"/>
<rect x="104" y="386" width="5" height="1" fill="#000"/>
<rect x="105" y="387" width="1" height="1" fill="#000"/>
<rect x="106" y="388" width="2" height="1" fill="#000"/>
<rect x="104" y="389" width="5" height="1" fill="#000"/>
<rect x="104" y="391" width="5" height="1" fill="#000"/>
<rect x="104" y="392" width="1" height="1" fill="#000"/>
<rect x="104" y="393" width="1" height="1" fill="#000"/>
<rect x="104" y="394" width="5" height="1" fill="#000"/>
<rect x="124" y="370" width="1" height="1" fill="#000"/>
<rect x="124" y="371" width="1" height="1" fill="#000"/>
<rect x="122" y="373" width="5" height="1" fill="#000"/>
<rect x="122" y="374" width="1" height="1" fill="#000"/>
<rect x="124" y="374" width="1" height="1" fill="#000"/>
<rect x="126" y="374" width="1" height="1" fill="#000"/>
<rect x="122" y="375" width="1" height="1" fill="#000"/>
<rect x="124" y="375" width="1" height="1" fill="#000"/>
<rect x="126" y="375" width="1" height="1" fill="#000"/>
<rect x="122" y="376" width="1" height="1" fill="#000"/>
<rect x="125" y="376" width="2" height="1" fill="#000"/>
<rect x="122" y="378" width="5" height="1" fill="#000"/>
<rect x="122" y="379" width="1" height="1" fill="#000"/>
<rect x="122" y="380" width="4" height="1" fill="#000"/>
<rect x="126" y="381" width="1" height="1" fill="#000"/>
<rect x="122" y="383" width="5" height="1" fill="#000"/>
<rect x="122" y="384" width="1" height="1" fill="#000"/>
<rect x="124" y="384" width="1" height="1" fill="#000"/>
<rect x="126" y="384" width="1" height="1" fill="#000"/>
<rect x="122" y="385" width="1" height="1" fill="#000"/>
<rect x="124" y="385" width="1" height="1" fill="#000"/>
<rect x="126" y="385" width="1" height="1" fill="#000"/>
<rect x="122" y="386" width="1" height="1" fill="#000"/>
<rect x="125" y="386" width="2" height="1" fill="#000"/>
<rect x="120" y="388" width="1" height="1" fill="#000"/>
<rect x="123" y="388" width="3" height="1" fill="#000"/>
<rect x="120" y="389" width="1" height="1" fill="#000"/>
<rect x="122" y="389" width="1" height="1" fill="#000"/>
<rect x="126" y="389" width="1" height="1" fill="#000"/>
<rect x="120" y="390" width="1" height="1" fill="#000"/>
<rect x="122" y="390" width="1" height="1" fill="#000"/>
<rect x="126" y="390" width="1" height="1" fill="#000"/>
<rect x="121" y="391" width="5" height="1" fill="#000"/>
<rect x="122" y="393" width="5" height="1" fill="#000"/>
<rect x="122" y="394" width="2" height="1" fill="#000"/>
<rect x="125" y="395" width="2" height="1" fill="#000"/>
<rect x="122" y="396" width="2" height="1" fill="#000"/>
<rect x="122" y="397" width="5" height="1" fill="#000"/>
<rect x="122" y="399" width="5" height="1" fill="#000"/>
<rect x="122" y="400" width="1" height="1" fill="#000"/>
<rect x="124" y="400" width="1" height="1" fill="#000"/>
<rect x="126" y="400" width="1" height="1" fill="#000"/>
<rect x="122" y="401" width="1" height="1" fill="#000"/>
<rect x="124" y="401" width="1" height="1" fill="#000"/>
<rect x="126" y="401" width="1" height="1" fill="#000"/>
<rect x="122" y="402" width="1" height="1" fill="#000"/>
<rect x="125" y="402" width="2" height="1" fill="#000"/>
<rect x="122" y="404" width="1" height="1" fill="#000"/>
<rect x="126" y="404" width="1" height="1" fill="#000"/>
<rect x="123" y="405" width="3" height="1" fill="#000"/>
<rect x="122" y="406" width="5" height="1" fill="#000"/>
<rect x="132" y="382" width="5" height="1" fill="#000"/>
<rect x="136" y="383" width="1" height="1" fill="#000"/>
<rect x="132" y="384" width="5" height="1" fill="#000"/>
<rect x="136" y="385" width="1" height="1" fill="#000"/>
<rect x="132" y="386" width="5" height="1" fill="#000"/>
<rect x="133" y="388" width="3" height="1" fill="#000"/>
<rect x="132" y="389" width="1" height="1" fill="#000"/>
<rect x="136" y="389" width="1" height="1" fill="#000"/>
<rect x="132" y="390" width="1" height="1" fill="#000"/>
<rect x="136" y="390" width="1" height="1" fill="#000"/>
<rect x="132" y="391" width="7" height="1" fill="#000"/>
<rect x="133" y="393" width="2" height="1" fill="#000"/>
<rect x="136" y="393" width="1" height="1" fill="#000"/>
<rect x="132" y="394" width="1" height="1" fill="#000"/>
<rect x="134" y="394" width="1" height="1" fill="#000"/>
<rect x="136" y="394" width="1" height="1" fill="#000"/>
<rect x="132" y="395" width="1" height="1" fill="#000"/>
<rect x="134" y="395" width="1" height="1" fill="#000"/>
<rect x="136" y="395" width="1" height="1" fill="#000"/>
<rect x="133" y="396" width="3" height="1" fill="#000"/>
<rect x="152" y="368" width="1" height="1" fill="#000"/>
<rect x="151" y="369" width="1" height="1" fill="#000"/>
<rect x="153" y="369" width="1" height="1" fill="#000"/>
<rect x="151" y="370" width="1" height="1" fill="#000"/>
<rect x="153" y="370" width="1" height="1" fill="#000"/>
<rect x="149" y="371" width="5" height="1" fill="#000"/>
<rect x="149" y="373" width="5" height="1" fill="#000"/>
<rect x="151" y="374" width="1" height="1" fill="#000"/>
<rect x="151" y="375" width="1" height="1" fill="#000"/>
<rect x="149" y="376" width="5" height="1" fill="#000"/>
<rect x="149" y="378" width="1" height="1" fill="#000"/>
<rect x="150" y="379" width="3" height="1" fill="#000"/>
<rect x="153" y="380" width="2" height="1" fill="#000"/>
<rect x="150" y="381" width="3" height="1" fill="#000"/>
<rect x="155" y="381" width="1" height="1" fill="#000"/>
<rect x="149" y="382" width="1" height="1" fill="#000"/>
<rect x="149" y="384" width="1" height="1" fill="#000"/>
<rect x="153" y="384" width="1" height="1" fill="#000"/>
<rect x="150" y="385" width="3" height="1" fill="#000"/>
<rect x="149" y="386" width="5" height="1" fill="#000"/>
<rect x="150" y="388" width="3" height="1" fill="#000"/>
<rect x="149" y="389" width="1" height="1" fill="#000"/>
<rect x="153" y="389" width="1" height="1" fill="#000"/>
<rect x="149" y="390" width="1" height="1" fill="#000"/>
<rect x="153" y="390" width="1" height="1" fill="#000"/>
<rect x="150" y="391" width="3" height="1" fill="#000"/>
<rect x="175" y="369" width="1" height="1" fill="#000"/>
<rect x="174" y="370" width="1" height="1" fill="#000"/>
<rect x="176" y="370" width="1" height="1" fill="#000"/>
<rect x="174" y="371" width="1" height="1" fill="#000"/>
<rect x="176" y="371" width="1" height="1" fill="#000"/>
<rect x="172" y="372" width="5" height="1" fill="#000"/>
<rect x="172" y="374" width="6" height="1" fill="#000"/>
<rect x="172" y="375" width="1" height="1" fill="#000"/>
<rect x="176" y="375" width="1" height="1" fill="#000"/>
<rect x="172" y="376" width="3" height="1" fill="#000"/>
<rect x="176" y="376" width="1" height="1" fill="#000"/>
<rect x="175" y="377" width="3" height="1" fill="#000"/>
<rect x="175" y="379" width="1" height="1" fill="#000"/>
<rect x="174" y="380" width="1" height="1" fill="#000"/>
<rect x="176" y="380" width="1" height="1" fill="#000"/>
<rect x="174" y="381" width="1" height="1" fill="#000"/>
<rect x="176" y="381" width="1" height="1" fill="#000"/>
<rect x="172" y="382" width="5" height="1" fill="#000"/>
<rect x="172" y="384" width="5" height="1" fill="#000"/>
<rect x="172" y="385" width="1" height="1" fill="#000"/>
<rect x="172" y="386" width="4" height="1" fill="#000"/>
<rect x="176" y="387" width="1" height="1" fill="#000"/>
<rect x="173" y="389" width="2" height="1" fill="#000"/>
<rect x="176" y="389" width="1" height="1" fill="#000"/>
<rect x="172" y="390" width="1" height="1" fill="#000"/>
<rect x="174" y="390" width="1" height="1" fill="#000"/>
<rect x="176" y="390" width="1" height="1" fill="#000"/>
<rect x="172" y="391" width="1" height="1" fill="#000"/>
<rect x="174" y="391" width="1" height="1" fill="#000"/>
<rect x="176" y="391" width="1" height="1" fill="#000"/>
<rect x="173" y="392" width="3" height="1" fill="#000"/>
<rect x="173" y="394" width="1" height="1" fill="#000"/>
<rect x="175" y="394" width="1" height="1" fill="#000"/>
<rect x="172" y="395" width="1" height="1" fill="#000"/>
<rect x="176" y="395" width="1" height="1" fill="#000"/>
<rect x="172" y="396" width="1" height="1" fill="#000"/>
<rect x="176" y="396" width="1" height="1" fill="#000"/>
<rect x="173" y="397" width="3" height="1" fill="#000"/>
<rect x="190" y="368" width="5" height="1" fill="#000"/>
<rect x="190" y="369" width="1" height="1" fill="#000"/>
<rect x="192" y="369" width="1" height="1" fill="#000"/>
<rect x="194" y="369" width="1" height="1" fill="#000"/>
<rect x="190" y="370" width="1" height="1" fill="#000"/>
<rect x="192" y="370" width="1" height="1" fill="#000"/>
<rect x="194" y="370" width="1" height="1" fill="#000"/>
<rect x="190" y="371" width="1" height="1" fill="#000"/>
<rect x="193" y="371" width="2" height="1" fill="#000"/>
<rect x="190" y="373" width="1" height="1" fill="#000"/>
<rect x="194" y="373" width="1" height="1" fill="#000"/>
<rect x="191" y="374" width="3" height="1" fill="#000"/>
<rect x="190" y="375" width="5" height="1" fill="#000"/>
<rect x="190" y="377" width="1" height="1" fill="#000"/>
<rect x="190" y="378" width="5" height="1" fill="#000"/>
<rect x="190" y="379" width="1" height="1" fill="#000"/>
<rect x="190" y="381" width="5" height="1" fill="#000"/>
<rect x="190" y="382" width="1" height="1" fill="#000"/>
<rect x="192" y="382" width="1" height="1" fill="#000"/>
<rect x="194" y="382" width="1" height="1" fill="#000"/>
<rect x="190" y="383" width="1" height="1" fill="#000"/>
<rect x="192" y="383" width="1" height="1" fill="#000"/>
<rect x="194" y="383" width="1" height="1" fill="#000"/>
<rect x="190" y="384" width="1" height="1" fill="#000"/>
<rect x="193" y="384" width="2" height="1" fill="#000"/>
<rect x="188" y="386" width="1" height="1" fill="#000"/>
<rect x="191" y="386" width="3" height="1" fill="#000"/>
<rect x="188" y="387" width="1" height="1" fill="#000"/>
<rect x="190" y="387" width="1" height="1" fill="#000"/>
<rect x="194" y="387" width="1" height="1" fill="#000"/>
<rect x="188" y="388" width="1" height="1" fill="#000"/>
<rect x="190" y="388" width="1" height="1" fill="#000"/>
<rect x="194" y="388" width="1" height="1" fill="#000"/>
<rect x="189" y="389" width="5" height="1" fill="#000"/>
<rect x="190" y="391" width="1" height="1" fill="#000"/>
<rect x="191" y="392" width="3" height="1" fill="#000"/>
<rect x="194" y="393" width="2" height="1" fill="#000"/>
<rect x="191" y="394" width="3" height="1" fill="#000"/>
<rect x="196" y="394" width="1" height="1" fill="#000"/>
<rect x="190" y="395" width="1" height="1" fill="#000"/>
<rect x="191" y="397" width="1" height="1" fill="#000"/>
<rect x="193" y="397" width="1" height="1" fill="#000"/>
<rect x="190" y="398" width="1" height="1" fill="#000"/>
<rect x="192" y="398" width="1" height="1" fill="#000"/>
<rect x="194" y="398" width="1" height="1" fill="#000"/>
<rect x="190" y="399" width="1" height="1" fill="#000"/>
<rect x="194" y="399" width="1" height="1" fill="#000"/>
<rect x="199" y="374" width="5" height="1" fill="#000"/>
<rect x="199" y="375" width="1" height="1" fill="#000"/>
<rect x="201" y="375" width="1" height="1" fill="#000"/>
<rect x="199" y="376" width="1" height="1" fill="#000"/>
<rect x="201" y="376" width="1" height="1" fill="#000"/>
<rect x="200" y="377" width="1" height="1" fill="#000"/>
<rect x="202" y="377" width="2" height="1" fill="#000"/>
<rect x="199" y="379" width="5" height="1" fill="#000"/>
<rect x="199" y="380" width="1" height="1" fill="#000"/>
<rect x="201" y="380" width="1" height="1" fill="#000"/>
<rect x="199" y="381" width="1" height="1" fill="#000"/>
<rect x="201" y="381" width="1" height="1" fill="#000"/>
<rect x="200" y="382" width="1" height="1" fill="#000"/>
<rect x="202" y="382" width="2" height="1" fill="#000"/>
<rect x="199" y="384" width="5" height="1" fill="#000"/>
<rect x="201" y="385" width="1" height="1" fill="#000"/>
<rect x="201" y="386" width="1" height="1" fill="#000"/>
<rect x="199" y="387" width="5" height="1" fill="#000"/>
<rect x="199" y="389" width="5" height="1" fill="#000"/>
<rect x="200" y="390" width="1" height="1" fill="#000"/>
<rect x="201" y="391" width="2" height="1" fill="#000"/>
<rect x="199" y="392" width="5" height="1" fill="#000"/>
<rect x="200" y="394" width="1" height="1" fill="#000"/>
<rect x="202" y="394" width="1" height="1" fill="#000"/>
<rect x="199" y="395" width="1" height="1" fill="#000"/>
<rect x="203" y="395" width="1" height="1" fill="#000"/>
<rect x="199" y="396" width="1" height="1" fill="#000"/>
<rect x="203" y="396" width="1" height="1" fill="#000"/>
<rect x="200" y="397" width="3" height="1" fill="#000"/>
<rect x="212" y="376" width="5" height="1" fill="#000"/>
<rect x="212" y="377" width="1" height="1" fill="#000"/>
<rect x="214" y="377" width="1" height="1" fill="#000"/>
<rect x="216" y="377" width="1" height="1" fill="#000"/>
<rect x="212" y="378" width="1" height="1" fill="#000"/>
<rect x="214" y="378" width="1" height="1" fill="#000"/>
<rect x="216" y="378" width="1" height="1" fill="#000"/>
<rect x="212" y="379" width="1" height="1" fill="#000"/>
<rect x="215" y="379" width="2" height="1" fill="#000"/>
<rect x="212" y="381" width="1" height="1" fill="#000"/>
<rect x="216" y="381" width="1" height="1" fill="#000"/>
<rect x="213" y="382" width="3" height="1" fill="#000"/>
<rect x="212" y="383" width="5" height="1" fill="#000"/>
<rect x="212" y="385" width="1" height="1" fill="#000"/>
<rect x="212" y="386" width="5" height="1" fill="#000"/>
<rect x="212" y="387" width="1" height="1" fill="#000"/>
<rect x="212" y="389" width="5" height="1" fill="#000"/>
<rect x="212" y="390" width="1" height="1" fill="#000"/>
<rect x="214" y="390" width="1" height="1" fill="#000"/>
<rect x="216" y="390" width="1" height="1" fill="#000"/>
<rect x="212" y="391" width="1" height="1" fill="#000"/>
<rect x="214" y="391" width="1" height="1" fill="#000"/>
<rect x="216" y="391" width="1" height="1" fill="#000"/>
<rect x="212" y="392" width="1" height="1" fill="#000"/>
<rect x="215" y="392" width="2" height="1" fill="#000"/>
<rect x="210" y="394" width="1" height="1" fill="#000"/>
<rect x="213" y="394" width="3" height="1" fill="#000"/>
<rect x="210" y="395" width="1" height="1" fill="#000"/>
<rect x="212" y="395" width="1" height="1" fill="#000"/>
<rect x="216" y="395" width="1" height="1" fill="#000"/>
<rect x="210" y="396" width="1" height="1" fill="#000"/>
<rect x="212" y="396" width="1" height="1" fill="#000"/>
<rect x="216" y="396" width="1" height="1" fill="#000"/>
<rect x="211" y="397" width="5" height="1" fill="#000"/>
<rect x="212" y="399" width="1" height="1" fill="#000"/>
<rect x="213" y="400" width="3" height="1" fill="#000"/>
<rect x="216" y="401" width="2" height="1" fill="#000"/>
<rect x="213" y="402" width="3" height="1" fill="#000"/>
<rect x="218" y="402" width="1" height="1" fill="#000"/>
<rect x="212" y="403" width="1" height="1" fill="#000"/>
<rect x="213" y="405" width="1" height="1" fill="#000"/>
<rect x="215" y="405" width="1" height="1" fill="#000"/>
<rect x="212" y="406" width="1" height="1" fill="#000"/>
<rect x="214" y="406" width="1" height="1" fill="#000"/>
<rect x="216" y="406" width="1" height="1" fill="#000"/>
<rect x="212" y="407" width="1" height="1" fill="#000"/>
<rect x="216" y="407" width="1" height="1" fill="#000"/>
<rect x="222" y="372" width="5" height="1" fill="#000"/>
<rect x="222" y="373" width="1" height="1" fill="#000"/>
<rect x="224" y="373" width="1" height="1" fill="#000"/>
<rect x="222" y="374" width="1" height="1" fill="#000"/>
<rect x="224" y="374" width="1" height="1" fill="#000"/>
<rect x="223" y="375" width="1" height="1" fill="#000"/>
<rect x="225" y="375" width="2" height="1" fill="#000"/>
<rect x="222" y="377" width="5" height="1" fill="#000"/>
<rect x="222" y="378" width="1" height="1" fill="#000"/>
<rect x="224" y="378" width="1" height="1" fill="#000"/>
<rect x="226" y="378" width="1" height="1" fill="#000"/>
<rect x="222" y="379" width="1" height="1" fill="#000"/>
<rect x="224" y="379" width="1" height="1" fill="#000"/>
<rect x="226" y="379" width="1" height="1" fill="#000"/>
<rect x="222" y="380" width="1" height="1" fill="#000"/>
<rect x="225" y="380" width="2" height="1" fill="#000"/>
<rect x="222" y="382" width="1" height="1" fill="#000"/>
<rect x="222" y="383" width="5" height="1" fill="#000"/>
<rect x="222" y="384" width="1" height="1" fill="#000"/>
<rect x="222" y="386" width="5" height="1" fill="#000"/>
<rect x="222" y="387" width="1" height="1" fill="#000"/>
<rect x="224" y="387" width="1" height="1" fill="#000"/>
<rect x="226" y="387" width="1" height="1" fill="#000"/>
<rect x="222" y="388" width="1" height="1" fill="#000"/>
<rect x="224" y="388" width="1" height="1" fill="#000"/>
<rect x="226" y="388" width="1" height="1" fill="#000"/>
<rect x="222" y="389" width="1" height="1" fill="#000"/>
<rect x="225" y="389" width="2" height="1" fill="#000"/>
<rect x="223" y="391" width="1" height="1" fill="#000"/>
<rect x="225" y="391" width="1" height="1" fill="#000"/>
<rect x="222" y="392" width="1" height="1" fill="#000"/>
<rect x="226" y="392" width="1" height="1" fill="#000"/>
<rect x="222" y="393" width="1" height="1" fill="#000"/>
<rect x="226" y="393" width="1" height="1" fill="#000"/>
<rect x="223" y="394" width="3" height="1" fill="#000"/>
<rect x="223" y="396" width="3" height="1" fill="#000"/>
<rect x="222" y="397" width="1" height="1" fill="#000"/>
<rect x="226" y="397" width="1" height="1" fill="#000"/>
<rect x="222" y="398" width="1" height="1" fill="#000"/>
<rect x="226" y="398" width="1" height="1" fill="#000"/>
<rect x="223" y="399" width="3" height="1" fill="#000"/>
<rect x="222" y="401" width="5" height="1" fill="#000"/>
<rect x="222" y="402" width="1" height="1" fill="#000"/>
<rect x="222" y="403" width="4" height="1" fill="#000"/>
<rect x="226" y="404" width="1" height="1" fill="#000"/>
<rect x="223" y="406" width="3" height="1" fill="#000"/>
<rect x="222" y="407" width="1" height="1" fill="#000"/>
<rect x="226" y="407" width="1" height="1" fill="#000"/>
<rect x="222" y="408" width="1" height="1" fill="#000"/>
<rect x="226" y="408" width="1" height="1" fill="#000"/>
<rect x="223" y="409" width="3" height="1" fill="#000"/>
<rect x="222" y="411" width="5" height="1" fill="#000"/>
<rect x="222" y="412" width="1" height="1" fill="#000"/>
<rect x="222" y="413" width="1" height="1" fill="#000"/>
<rect x="222" y="414" width="5" height="1" fill="#000"/>
<rect x="239" y="368" width="5" height="1" fill="#000"/>
<rect x="239" y="369" width="1" height="1" fill="#000"/>
<rect x="241" y="369" width="1" height="1" fill="#000"/>
<rect x="243" y="369" width="1" height="1" fill="#000"/>
<rect x="239" y="370" width="1" height="1" fill="#000"/>
<rect x="241" y="370" width="1" height="1" fill="#000"/>
<rect x="243" y="370" width="1" height="1" fill="#000"/>
<rect x="239" y="371" width="1" height="1" fill="#000"/>
<rect x="242" y="371" width="2" height="1" fill="#000"/>
<rect x="239" y="373" width="6" height="1" fill="#000"/>
<rect x="239" y="374" width="1" height="1" fill="#000"/>
<rect x="243" y="374" width="1" height="1" fill="#000"/>
<rect x="239" y="375" width="3" height="1" fill="#000"/>
<rect x="243" y="375" width="1" height="1" fill="#000"/>
<rect x="242" y="376" width="3" height="1" fill="#000"/>
<rect x="236" y="378" width="2" height="1" fill="#000"/>
<rect x="239" y="378" width="5" height="1" fill="#000"/>
<rect x="237" y="379" width="1" height="1" fill="#000"/>
<rect x="240" y="379" width="1" height="1" fill="#000"/>
<rect x="236" y="380" width="2" height="1" fill="#000"/>
<rect x="241" y="380" width="2" height="1" fill="#000"/>
<rect x="239" y="381" width="5" height="1" fill="#000"/>
<rect x="239" y="383" width="5" height="1" fill="#000"/>
<rect x="239" y="384" width="1" height="1" fill="#000"/>
<rect x="241" y="384" width="1" height="1" fill="#000"/>
<rect x="243" y="384" width="1" height="1" fill="#000"/>
<rect x="239" y="385" width="1" height="1" fill="#000"/>
<rect x="241" y="385" width="1" height="1" fill="#000"/>
<rect x="243" y="385" width="1" height="1" fill="#000"/>
<rect x="239" y="386" width="1" height="1" fill="#000"/>
<rect x="242" y="386" width="2" height="1" fill="#000"/>
<rect x="240" y="388" width="1" height="1" fill="#000"/>
<rect x="242" y="388" width="1" height="1" fill="#000"/>
<rect x="239" y="389" width="1" height="1" fill="#000"/>
<rect x="243" y="389" width="1" height="1" fill="#000"/>
<rect x="239" y="390" width="1" height="1" fill="#000"/>
<rect x="243" y="390" width="1" height="1" fill="#000"/>
<rect x="240" y="391" width="3" height="1" fill="#000"/>
<rect x="399" y="371" width="5" height="1" fill="#000"/>
<rect x="399" y="372" width="1" height="1" fill="#000"/>
<rect x="401" y="372" width="1" height="1" fill="#000"/>
<rect x="403" y="372" width="1" height="1" fill="#000"/>
<rect x="399" y="373" width="1" height="1" fill="#000"/>
<rect x="401" y="373" width="1" height="1" fill="#000"/>
<rect x="403" y="373" width="1" height="1" fill="#000"/>
<rect x="399" y="374" width="1" height="1" fill="#000"/>
<rect x="402" y="374" width="2" height="1" fill="#000"/>
<rect x="399" y="376" width="1" height="1" fill="#000"/>
<rect x="403" y="376" width="1" height="1" fill="#000"/>
<rect x="400" y="377" width="3" height="1" fill="#000"/>
<rect x="399" y="378" width="5" height="1" fill="#000"/>
<rect x="400" y="380" width="1" height="1" fill="#000"/>
<rect x="402" y="380" width="1" height="1" fill="#000"/>
<rect x="399" y="381" width="1" height="1" fill="#000"/>
<rect x="403" y="381" width="1" height="1" fill="#000"/>
<rect x="399" y="382" width="1" height="1" fill="#000"/>
<rect x="403" y="382" width="1" height="1" fill="#000"/>
<rect x="400" y="383" width="3" height="1" fill="#000"/>
<rect x="400" y="385" width="2" height="1" fill="#000"/>
<rect x="403" y="385" width="1" height="1" fill="#000"/>
<rect x="399" y="386" width="1" height="1" fill="#000"/>
<rect x="401" y="386" width="1" height="1" fill="#000"/>
<rect x="403" y="386" width="1" height="1" fill="#000"/>
<rect x="399" y="387" width="1" height="1" fill="#000"/>
<rect x="401" y="387" width="1" height="1" fill="#000"/>
<rect x="403" y="387" width="1" height="1" fill="#000"/>
<rect x="400" y="388" width="3" height="1" fill="#000"/>
<rect x="400" y="390" width="3" height="1" fill="#000"/>
<rect x="399" y="391" width="1" height="1" fill="#000"/>
<rect x="403" y="391" width="1" height="1" fill="#000"/>
<rect x="399" y="392" width="1" height="1" fill="#000"/>
<rect x="403" y="392" width="1" height="1" fill="#000"/>
<rect x="399" y="393" width="7" height="1" fill="#000"/>
<rect x="399" y="395" width="1" height="1" fill="#000"/>
<rect x="399" y="396" width="5" height="1" fill="#000"/>
<rect x="399" y="397" width="1" height="1" fill="#000"/>
<rect x="423" y="373" width="5" height="1" fill="#000"/>
<rect x="423" y="374" width="1" height="1" fill="#000"/>
<rect x="425" y="374" width="1" height="1" fill="#000"/>
<rect x="427" y="374" width="1" height="1" fill="#000"/>
<rect x="423" y="375" width="1" height="1" fill="#000"/>
<rect x="425" y="375" width="1" height="1" fill="#000"/>
<rect x="427" y="375" width="1" height="1" fill="#000"/>
<rect x="423" y="376" width="1" height="1" fill="#000"/>
<rect x="426" y="376" width="2" height="1" fill="#000"/>
<rect x="423" y="378" width="5" height="1" fill="#000"/>
<rect x="427" y="379" width="1" height="1" fill="#000"/>
<rect x="423" y="380" width="5" height="1" fill="#000"/>
<rect x="427" y="381" width="1" height="1" fill="#000"/>
<rect x="423" y="382" width="5" height="1" fill="#000"/>
<rect x="423" y="384" width="1" height="1" fill="#000"/>
<rect x="427" y="384" width="1" height="1" fill="#000"/>
<rect x="424" y="385" width="3" height="1" fill="#000"/>
<rect x="423" y="386" width="5" height="1" fill="#000"/>
<rect x="423" y="388" width="5" height="1" fill="#000"/>
<rect x="424" y="389" width="1" height="1" fill="#000"/>
<rect x="425" y="390" width="2" height="1" fill="#000"/>
<rect x="423" y="391" width="5" height="1" fill="#000"/>
<rect x="423" y="393" width="5" height="1" fill="#000"/>
<rect x="423" y="394" width="1" height="1" fill="#000"/>
<rect x="423" y="395" width="1" height="1" fill="#000"/>
<rect x="423" y="396" width="5" height="1" fill="#000"/>
<rect x="443" y="372" width="1" height="1" fill="#000"/>
<rect x="443" y="373" width="1" height="1" fill="#000"/>
<rect x="441" y="375" width="5" height="1" fill="#000"/>
<rect x="441" y="376" width="1" height="1" fill="#000"/>
<rect x="443" y="376" width="1" height="1" fill="#000"/>
<rect x="445" y="376" width="1" height="1" fill="#000"/>
<rect x="441" y="377" width="1" height="1" fill="#000"/>
<rect x="443" y="377" width="1" height="1" fill="#000"/>
<rect x="445" y="377" width="1" height="1" fill="#000"/>
<rect x="441" y="378" width="1" height="1" fill="#000"/>
<rect x="444" y="378" width="2" height="1" fill="#000"/>
<rect x="441" y="380" width="5" height="1" fill="#000"/>
<rect x="441" y="381" width="1" height="1" fill="#000"/>
<rect x="441" y="382" width="4" height="1" fill="#000"/>
<rect x="445" y="383" width="1" height="1" fill="#000"/>
<rect x="441" y="385" width="5" height="1" fill="#000"/>
<rect x="441" y="386" width="1" height="1" fill="#000"/>
<rect x="443" y="386" width="1" height="1" fill="#000"/>
<rect x="445" y="386" width="1" height="1" fill="#000"/>
<rect x="441" y="387" width="1" height="1" fill="#000"/>
<rect x="443" y="387" width="1" height="1" fill="#000"/>
<rect x="445" y="387" width="1" height="1" fill="#000"/>
<rect x="441" y="388" width="1" height="1" fill="#000"/>
<rect x="444" y="388" width="2" height="1" fill="#000"/>
<rect x="439" y="390" width="1" height="1" fill="#000"/>
<rect x="442" y="390" width="3" height="1" fill="#000"/>
<rect x="439" y="391" width="1" height="1" fill="#000"/>
<rect x="441" y="391" width="1" height="1" fill="#000"/>
<rect x="445" y="391" width="1" height="1" fill="#000"/>
<rect x="439" y="392" width="1" height="1" fill="#000"/>
<rect x="441" y="392" width="1" height="1" fill="#000"/>
<rect x="445" y="392" width="1" height="1" fill="#000"/>
<rect x="440" y="393" width="5" height="1" fill="#000"/>
<rect x="441" y="395" width="5" height="1" fill="#000"/>
<rect x="441" y="396" width="2" height="1" fill="#000"/>
<rect x="444" y="397" width="2" height="1" fill="#000"/>
<rect x="441" y="398" width="2" height="1" fill="#000"/>
<rect x="441" y="399" width="5" height="1" fill="#000"/>
<rect x="441" y="401" width="5" height="1" fill="#000"/>
<rect x="441" y="402" width="1" height="1" fill="#000"/>
<rect x="443" y="402" width="1" height="1" fill="#000"/>
<rect x="445" y="402" width="1" height="1" fill="#000"/>
<rect x="441" y="403" width="1" height="1" fill="#000"/>
<rect x="443" y="403" width="1" height="1" fill="#000"/>
<rect x="445" y="403" width="1" height="1" fill="#000"/>
<rect x="441" y="404" width="1" height="1" fill="#000"/>
<rect x="444" y="404" width="2" height="1" fill="#000"/>
<rect x="441" y="406" width="1" height="1" fill="#000"/>
<rect x="445" y="406" width="1" height="1" fill="#000"/>
<rect x="442" y="407" width="3" height="1" fill="#000"/>
<rect x="441" y="408" width="5" height="1" fill="#000"/>
<rect x="450" y="383" width="5" height="1" fill="#000"/>
<rect x="454" y="384" width="1" height="1" fill="#000"/>
<rect x="450" y="385" width="5" height="1" fill="#000"/>
<rect x="454" y="386" width="1" height="1" fill="#000"/>
<rect x="450" y="387" width="5" height="1" fill="#000"/>
<rect x="451" y="389" width="3" height="1" fill="#000"/>
<rect x="450" y="390" width="1" height="1" fill="#000"/>
<rect x="454" y="390" width="1" height="1" fill="#000"/>
<rect x="450" y="391" width="1" height="1" fill="#000"/>
<rect x="454" y="391" width="1" height="1" fill="#000"/>
<rect x="450" y="392" width="7" height="1" fill="#000"/>
<rect x="451" y="394" width="2" height="1" fill="#000"/>
<rect x="454" y="394" width="1" height="1" fill="#000"/>
<rect x="450" y="395" width="1" height="1" fill="#000"/>
<rect x="452" y="395" width="1" height="1" fill="#000"/>
<rect x="454" y="395" width="1" height="1" fill="#000"/>
<rect x="450" y="396" width="1" height="1" fill="#000"/>
<rect x="452" y="396" width="1" height="1" fill="#000"/>
<rect x="454" y="396" width="1" height="1" fill="#000"/>
<rect x="451" y="397" width="3" height="1" fill="#000"/>
<rect x="472" y="370" width="1" height="1" fill="#000"/>
<rect x="471" y="371" width="1" height="1" fill="#000"/>
<rect x="473" y="371" width="1" height="1" fill="#000"/>
<rect x="471" y="372" width="1" height="1" fill="#000"/>
<rect x="473" y="372" width="1" height="1" fill="#000"/>
<rect x="469" y="373" width="5" height="1" fill="#000"/>
<rect x="469" y="375" width="5" height="1" fill="#000"/>
<rect x="471" y="376" width="1" height="1" fill="#000"/>
<rect x="471" y="377" width="1" height="1" fill="#000"/>
<rect x="469" y="378" width="5" height="1" fill="#000"/>
<rect x="469" y="380" width="1" height="1" fill="#000"/>
<rect x="470" y="381" width="3" height="1" fill="#000"/>
<rect x="473" y="382" width="2" height="1" fill="#000"/>
<rect x="470" y="383" width="3" height="1" fill="#000"/>
<rect x="475" y="383" width="1" height="1" fill="#000"/>
<rect x="469" y="384" width="1" height="1" fill="#000"/>
<rect x="469" y="386" width="1" height="1" fill="#000"/>
<rect x="473" y="386" width="1" height="1" fill="#000"/>
<rect x="470" y="387" width="3" height="1" fill="#000"/>
<rect x="469" y="388" width="5" height="1" fill="#000"/>
<rect x="470" y="390" width="3" height="1" fill="#000"/>
<rect x="469" y="391" width="1" height="1" fill="#000"/>
<rect x="473" y="391" width="1" height="1" fill="#000"/>
<rect x="469" y="392" width="1" height="1" fill="#000"/>
<rect x="473" y="392" width="1" height="1" fill="#000"/>
<rect x="470" y="393" width="3" height="1" fill="#000"/>
<rect x="495" y="371" width="1" height="1" fill="#000"/>
<rect x="494" y="372" width="1" height="1" fill="#000"/>
<rect x="496" y="372" width="1" height="1" fill="#000"/>
<rect x="494" y="373" width="1" height="1" fill="#000"/>
<rect x="496" y="373" width="1" height="1" fill="#000"/>
<rect x="492" y="374" width="5" height="1" fill="#000"/>
<rect x="492" y="376" width="6" height="1" fill="#000"/>
<rect x="492" y="377" width="1" height="1" fill="#000"/>
<rect x="496" y="377" width="1" height="1" fill="#000"/>
<rect x="492" y="378" width="3" height="1" fill="#000"/>
<rect x="496" y="378" width="1" height="1" fill="#000"/>
<rect x="495" y="379" width="3" height="1" fill="#000"/>
<rect x="495" y="381" width="1" height="1" fill="#000"/>
<rect x="494" y="382" width="1" height="1" fill="#000"/>
<rect x="496" y="382" width="1" height="1" fill="#000"/>
<rect x="494" y="383" width="1" height="1" fill="#000"/>
<rect x="496" y="383" width="1" height="1" fill="#000"/>
<rect x="492" y="384" width="5" height="1" fill="#000"/>
<rect x="492" y="386" width="5" height="1" fill="#000"/>
<rect x="492" y="387" width="1" height="1" fill="#000"/>
<rect x="492" y="388" width="4" height="1" fill="#000"/>
<rect x="496" y="389" width="1" height="1" fill="#000"/>
<rect x="493" y="391" width="2" height="1" fill="#000"/>
<rect x="496" y="391" width="1" height="1" fill="#000"/>
<rect x="492" y="392" width="1" height="1" fill="#000"/>
<rect x="494" y="392" width="1" height="1" fill="#000"/>
<rect x="496" y="392" width="1" height="1" fill="#000"/>
<rect x="492" y="393" width="1" height="1" fill="#000"/>
<rect x="494" y="393" width="1" height="1" fill="#000"/>
<rect x="496" y="393" width="1" height="1" fill="#000"/>
<rect x="493" y="394" width="3" height="1" fill="#000"/>
<rect x="493" y="396" width="1" height="1" fill="#000"/>
<rect x="495" y="396" width="1" height="1" fill="#000"/>
<rect x="492" y="397" width="1" height="1" fill="#000"/>
<rect x="496" y="397" width="1" height="1" fill="#000"/>
<rect x="492" y="398" width="1" height="1" fill="#000"/>
<rect x="496" y="398" width="1" height="1" fill="#000"/>
<rect x="493" y="399" width="3" height="1" fill="#000"/>
<rect x="511" y="370" width="5" height="1" fill="#000"/>
<rect x="511" y="371" width="1" height="1" fill="#000"/>
<rect x="513" y="371" width="1" height="1" fill="#000"/>
<rect x="515" y="371" width="1" height="1" fill="#000"/>
<rect x="511" y="372" width="1" height="1" fill="#000"/>
<rect x="513" y="372" width="1" height="1" fill="#000"/>
<rect x="515" y="372" width="1" height="1" fill="#000"/>
<rect x="511" y="373" width="1" height="1" fill="#000"/>
<rect x="514" y="373" width="2" height="1" fill="#000"/>
<rect x="511" y="375" width="1" height="1" fill="#000"/>
<rect x="515" y="375" width="1" height="1" fill="#000"/>
<rect x="512" y="376" width="3" height="1" fill="#000"/>
<rect x="511" y="377" width="5" height="1" fill="#000"/>
<rect x="511" y="379" width="1" height="1" fill="#000"/>
<rect x="511" y="380" width="5" height="1" fill="#000"/>
<rect x="511" y="381" width="1" height="1" fill="#000"/>
<rect x="511" y="383" width="5" height="1" fill="#000"/>
<rect x="511" y="384" width="1" height="1" fill="#000"/>
<rect x="513" y="384" width="1" height="1" fill="#000"/>
<rect x="515" y="384" width="1" height="1" fill="#000"/>
<rect x="511" y="385" width="1" height="1" fill="#000"/>
<rect x="513" y="385" width="1" height="1" fill="#000"/>
<rect x="515" y="385" width="1" height="1" fill="#000"/>
<rect x="511" y="386" width="1" height="1" fill="#000"/>
<rect x="514" y="386" width="2" height="1" fill="#000"/>
<rect x="509" y="388" width="1" height="1" fill="#000"/>
<rect x="512" y="388" width="3" height="1" fill="#000"/>
<rect x="509" y="389" width="1" height="1" fill="#000"/>
<rect x="511" y="389" width="1" height="1" fill="#000"/>
<rect x="515" y="389" width="1" height="1" fill="#000"/>
<rect x="509" y="390" width="1" height="1" fill="#000"/>
<rect x="511" y="390" width="1" height="1" fill="#000"/>
<rect x="515" y="390" width="1" height="1" fill="#000"/>
<rect x="510" y="391" width="5" height="1" fill="#000"/>
<rect x="511" y="393" width="1" height="1" fill="#000"/>
<rect x="512" y="394" width="3" height="1" fill="#000"/>
<rect x="515" y="395" width="2" height="1" fill="#000"/>
<rect x="512" y="396" width="3" height="1" fill="#000"/>
<rect x="517" y="396" width="1" height="1" fill="#000"/>
<rect x="511" y="397" width="1" height="1" fill="#000"/>
<rect x="512" y="399" width="1" height="1" fill="#000"/>
<rect x="514" y="399" width="1" height="1" fill="#000"/>
<rect x="511" y="400" width="1" height="1" fill="#000"/>
<rect x="513" y="400" width="1" height="1" fill="#000"/>
<rect x="515" y="400" width="1" height="1" fill="#000"/>
<rect x="511" y="401" width="1" height="1" fill="#000"/>
<rect x="515" y="401" width="1" height="1" fill="#000"/>
<rect x="520" y="376" width="5" height="1" fill="#000"/>
<rect x="520" y="377" width="1" height="1" fill="#000"/>
<rect x="522" y="377" width="1" height="1" fill="#000"/>
<rect x="520" y="378" width="1" height="1" fill="#000"/>
<rect x="522" y="378" width="1" height="1" fill="#000"/>
<rect x="521" y="379" width="1" height="1" fill="#000"/>
<rect x="523" y="379" width="2" height="1" fill="#000"/>
<rect x="520" y="381" width="5" height="1" fill="#000"/>
<rect x="520" y="382" width="1" height="1" fill="#000"/>
<rect x="522" y="382" width="1" height="1" fill="#000"/>
<rect x="520" y="383" width="1" height="1" fill="#000"/>
<rect x="522" y="383" width="1" height="1" fill="#000"/>
<rect x="521" y="384" width="1" height="1" fill="#000"/>
<rect x="523" y="384" width="2" height="1" fill="#000"/>
<rect x="520" y="386" width="5" height="1" fill="#000"/>
<rect x="522" y="387" width="1" height="1" fill="#000"/>
<rect x="522" y="388" width="1" height="1" fill="#000"/>
<rect x="520" y="389" width="5" height="1" fill="#000"/>
<rect x="520" y="391" width="5" height="1" fill="#000"/>
<rect x="521" y="392" width="1" height="1" fill="#000"/>
<rect x="522" y="393" width="2" height="1" fill="#000"/>
<rect x="520" y="394" width="5" height="1" fill="#000"/>
<rect x="521" y="396" width="1" height="1" fill="#000"/>
<rect x="523" y="396" width="1" height="1" fill="#000"/>
<rect x="520" y="397" width="1" height="1" fill="#000"/>
<rect x="524" y="397" width="1" height="1" fill="#000"/>
<rect x="520" y="398" width="1" height="1" fill="#000"/>
<rect x="524" y="398" width="1" height="1" fill="#000"/>
<rect x="521" y="399" width="3" height="1" fill="#000"/>
<rect x="534" y="377" width="5" height="1" fill="#000"/>
<rect x="534" y="378" width="1" height="1" fill="#000"/>
<rect x="536" y="378" width="1" height="1" fill="#000"/>
<rect x="538" y="378" width="1" height="1" fill="#000"/>
<rect x="534" y="379" width="1" height="1" fill="#000"/>
<rect x="536" y="379" width="1" height="1" fill="#000"/>
<rect x="538" y="379" width="1" height="1" fill="#000"/>
<rect x="534" y="380" width="1" height="1" fill="#000"/>
<rect x="537" y="380" width="2" height="1" fill="#000"/>
<rect x="534" y="382" width="1" height="1" fill="#000"/>
<rect x="538" y="382" width="1" height="1" fill="#000"/>
<rect x="535" y="383" width="3" height="1" fill="#000"/>
<rect x="534" y="384" width="5" height="1" fill="#000"/>
<rect x="534" y="386" width="1" height="1" fill="#000"/>
<rect x="534" y="387" width="5" height="1" fill="#000"/>
<rect x="534" y="388" width="1" height="1" fill="#000"/>
<rect x="534" y="390" width="5" height="1" fill="#000"/>
<rect x="534" y="391" width="1" height="1" fill="#000"/>
<rect x="536" y="391" width="1" height="1" fill="#000"/>
<rect x="538" y="391" width="1" height="1" fill="#000"/>
<rect x="534" y="392" width="1" height="1" fill="#000"/>
<rect x="536" y="392" width="1" height="1" fill="#000"/>
<rect x="538" y="392" width="1" height="1" fill="#000"/>
<rect x="534" y="393" width="1" height="1" fill="#000"/>
<rect x="537" y="393" width="2" height="1" fill="#000"/>
<rect x="532" y="395" width="1" height="1" fill="#000"/>
<rect x="535" y="395" width="3" height="1" fill="#000"/>
<rect x="532" y="396" width="1" height="1" fill="#000"/>
<rect x="534" y="396" width="1" height="1" fill="#000"/>
<rect x="538" y="396" width="1" height="1" fill="#000"/>
<rect x="532" y="397" width="1" height="1" fill="#000"/>
<rect x="534" y="397" width="1" height="1" fill="#000"/>
<rect x="538" y="397" width="1" height="1" fill="#000"/>
<rect x="533" y="398" width="5" height="1" fill="#000"/>
<rect x="534" y="400" width="1" height="1" fill="#000"/>
<rect x="535" y="401" width="3" height="1" fill="#000"/>
<rect x="538" y="402" width="2" height="1" fill="#000"/>
<rect x="535" y="403" width="3" height="1" fill="#000"/>
<rect x="540" y="403" width="1" height="1" fill="#000"/>
<rect x="534" y="404" width="1" height="1" fill="#000"/>
<rect x="535" y="406" width="1" height="1" fill="#000"/>
<rect x="537" y="406" width="1" height="1" fill="#000"/>
<rect x="534" y="407" width="1" height="1" fill="#000"/>
<rect x="536" y="407" width="1" height="1" fill="#000"/>
<rect x="538" y="407" width="1" height="1" fill="#000"/>
<rect x="534" y="408" width="1" height="1" fill="#000"/>
<rect x="538" y="408" width="1" height="1" fill="#000"/>
<rect x="543" y="373" width="5" height="1" fill="#000"/>
<rect x="543" y="374" width="1" height="1" fill="#000"/>
<rect x="545" y="374" width="1" height="1" fill="#000"/>
<rect x="543" y="375" width="1" height="1" fill="#000"/>
<rect x="545" y="375" width="1" height="1" fill="#000"/>
<rect x="544" y="376" width="1" height="1" fill="#000"/>
<rect x="546" y="376" width="2" height="1" fill="#000"/>
<rect x="543" y="378" width="5" height="1" fill="#000"/>
<rect x="543" y="379" width="1" height="1" fill="#000"/>
<rect x="545" y="379" width="1" height="1" fill="#000"/>
<rect x="547" y="379" width="1" height="1" fill="#000"/>
<rect x="543" y="380" width="1" height="1" fill="#000"/>
<rect x="545" y="380" width="1" height="1" fill="#000"/>
<rect x="547" y="380" width="1" height="1" fill="#000"/>
<rect x="543" y="381" width="1" height="1" fill="#000"/>
<rect x="546" y="381" width="2" height="1" fill="#000"/>
<rect x="543" y="383" width="1" height="1" fill="#000"/>
<rect x="543" y="384" width="5" height="1" fill="#000"/>
<rect x="543" y="385" width="1" height="1" fill="#000"/>
<rect x="543" y="387" width="5" height="1" fill="#000"/>
<rect x="543" y="388" width="1" height="1" fill="#000"/>
<rect x="545" y="388" width="1" height="1" fill="#000"/>
<rect x="547" y="388" width="1" height="1" fill="#000"/>
<rect x="543" y="389" width="1" height="1" fill="#000"/>
<rect x="545" y="389" width="1" height="1" fill="#000"/>
<rect x="547" y="389" width="1" height="1" fill="#000"/>
<rect x="543" y="390" width="1" height="1" fill="#000"/>
<rect x="546" y="390" width="2" height="1" fill="#000"/>
<rect x="544" y="392" width="1" height="1" fill="#000"/>
<rect x="546" y="392" width="1" height="1" fill="#000"/>
<rect x="543" y="393" width="1" height="1" fill="#000"/>
<rect x="547" y="393" width="1" height="1" fill="#000"/>
<rect x="543" y="394" width="1" height="1" fill="#000"/>
<rect x="547" y="394" width="1" height="1" fill="#000"/>
<rect x="544" y="395" width="3" height="1" fill="#000"/>
<rect x="544" y="397" width="3" height="1" fill="#000"/>
<rect x="543" y="398" width="1" height="1" fill="#000"/>
<rect x="547" y="398" width="1" height="1" fill="#000"/>
<rect x="543" y="399" width="1" height="1" fill="#000"/>
<rect x="547" y="399" width="1" height="1" fill="#000"/>
<rect x="544" y="400" width="3" height="1" fill="#000"/>
<rect x="543" y="402" width="5" height="1" fill="#000"/>
<rect x="543" y="403" width="1" height="1" fill="#000"/>
<rect x="543" y="404" width="4" height="1" fill="#000"/>
<rect x="547" y="405" width="1" height="1" fill="#000"/>
<rect x="544" y="407" width="3" height="1" fill="#000"/>
<rect x="543" y="408" width="1" height="1" fill="#000"/>
<rect x="547" y="408" width="1" height="1" fill="#000"/>
<rect x="543" y="409" width="1" height="1" fill="#000"/>
<rect x="547" y="409" width="1" height="1" fill="#000"/>
<rect x="544" y="410" width="3" height="1" fill="#000"/>
<rect x="543" y="412" width="5" height="1" fill="#000"/>
<rect x="543" y="413" width="1" height="1" fill="#000"/>
<rect x="543" y="414" width="1" height="1" fill="#000"/>
<rect x="543" y="415" width="5" height="1" fill="#000"/>
<rect x="562" y="371" width="5" height="1" fill="#000"/>
<rect x="562" y="372" width="1" height="1" fill="#000"/>
<rect x="564" y="372" width="1" height="1" fill="#000"/>
<rect x="566" y="372" width="1" height="1" fill="#000"/>
<rect x="562" y="373" width="1" height="1" fill="#000"/>
<rect x="564" y="373" width="1" height="1" fill="#000"/>
<rect x="566" y="373" width="1" height="1" fill="#000"/>
<rect x="562" y="374" width="1" height="1" fill="#000"/>
<rect x="565" y="374" width="2" height="1" fill="#000"/>
<rect x="562" y="376" width="6" height="1" fill="#000"/>
<rect x="562" y="377" width="1" height="1" fill="#000"/>
<rect x="566" y="377" width="1" height="1" fill="#000"/>
<rect x="562" y="378" width="3" height="1" fill="#000"/>
<rect x="566" y="378" width="1" height="1" fill="#000"/>
<rect x="565" y="379" width="3" height="1" fill="#000"/>
<rect x="559" y="381" width="2" height="1" fill="#000"/>
<rect x="562" y="381" width="5" height="1" fill="#000"/>
<rect x="560" y="382" width="1" height="1" fill="#000"/>
<rect x="563" y="382" width="1" height="1" fill="#000"/>
<rect x="559" y="383" width="2" height="1" fill="#000"/>
<rect x="564" y="383" width="2" height="1" fill="#000"/>
<rect x="562" y="384" width="5" height="1" fill="#000"/>
<rect x="562" y="386" width="5" height="1" fill="#000"/>
<rect x="562" y="387" width="1" height="1" fill="#000"/>
<rect x="564" y="387" width="1" height="1" fill="#000"/>
<rect x="566" y="387" width="1" height="1" fill="#000"/>
<rect x="562" y="388" width="1" height="1" fill="#000"/>
<rect x="564" y="388" width="1" height="1" fill="#000"/>
<rect x="566" y="388" width="1" height="1" fill="#000"/>
<rect x="562" y="389" width="1" height="1" fill="#000"/>
<rect x="565" y="389" width="2" height="1" fill="#000"/>
<rect x="563" y="391" width="1" height="1" fill="#000"/>
<rect x="565" y="391" width="1" height="1" fill="#000"/>
<rect x="562" y="392" width="1" height="1" fill="#000"/>
<rect x="566" y="392" width="1" height="1" fill="#000"/>
<rect x="562" y="393" width="1" height="1" fill="#000"/>
<rect x="566" y="393" width="1" height="1" fill="#000"/>
<rect x="563" y="394" width="3" height="1" fill="#000"/>
<g filter="url(#crisp)" style="will-change:transform"></g>
<g filter="url(#crisp2)" style="will-change:transform"><text x="161.5" y="24" font-size="14" text-anchor="middle" textLength="31" lengthAdjust="spacingAndGlyphs">ГХЦГ</text>
<text x="481.5" y="24" font-size="14" text-anchor="middle" textLength="25" lengthAdjust="spacingAndGlyphs">ДДТ</text>
<text x="161.5" y="247" font-size="14" text-anchor="middle" textLength="25" lengthAdjust="spacingAndGlyphs">ПХБ</text>
<text x="480.0" y="247" font-size="14" text-anchor="middle" textLength="24" lengthAdjust="spacingAndGlyphs">ГХБ</text></g>
</svg>
</body></html>
